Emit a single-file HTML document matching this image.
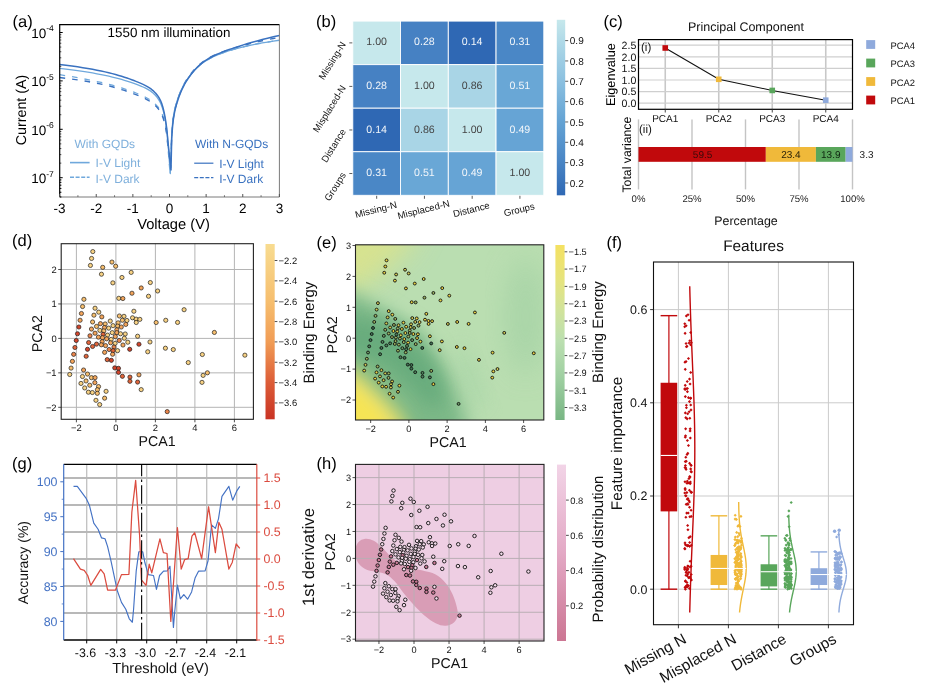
<!DOCTYPE html>
<html><head><meta charset="utf-8"><title>Figure</title>
<style>html,body{margin:0;padding:0;background:#fff;}body{width:926px;height:693px;overflow:hidden;font-family:"Liberation Sans", sans-serif;}svg{display:block;will-change:transform;}</style></head>
<body>
<svg width="926" height="693" viewBox="0 0 926 693" font-family='"Liberation Sans", sans-serif' text-rendering="geometricPrecision">
<defs><clipPath id="clipA"><rect x="59.7" y="24.6" width="219.7" height="172.4"/></clipPath><linearGradient id="gB" x1="0" y1="0" x2="0" y2="1"><stop offset="0" stop-color="#C6E8EC"/><stop offset="0.16" stop-color="#A9D5E6"/><stop offset="0.35" stop-color="#8BC0E0"/><stop offset="0.58" stop-color="#64A3D4"/><stop offset="0.81" stop-color="#4985C5"/><stop offset="1" stop-color="#2F68B4"/></linearGradient><linearGradient id="gD" x1="0" y1="0" x2="0" y2="1"><stop offset="0" stop-color="#F8DC90"/><stop offset="0.33" stop-color="#F6BE6E"/><stop offset="0.56" stop-color="#F19C55"/><stop offset="0.79" stop-color="#DC5C37"/><stop offset="1" stop-color="#C93324"/></linearGradient><clipPath id="clipE"><rect x="355.5" y="244.8" width="188.3" height="175.2"/></clipPath><filter id="blE" x="-50%" y="-50%" width="200%" height="200%"><feGaussianBlur stdDeviation="9"/></filter><filter id="blE2" x="-50%" y="-50%" width="200%" height="200%"><feGaussianBlur stdDeviation="14"/></filter><filter id="blE3" x="-50%" y="-50%" width="200%" height="200%"><feGaussianBlur stdDeviation="6"/></filter><linearGradient id="gE" x1="0" y1="0" x2="0" y2="1"><stop offset="0" stop-color="#F4E162"/><stop offset="0.2" stop-color="#E6E47E"/><stop offset="0.38" stop-color="#D0E39C"/><stop offset="0.55" stop-color="#BBDFB0"/><stop offset="0.75" stop-color="#A0D0A2"/><stop offset="1" stop-color="#79B684"/></linearGradient><linearGradient id="gH" x1="0" y1="0" x2="0" y2="1"><stop offset="0" stop-color="#F2D4E7"/><stop offset="0.5" stop-color="#E3A9C5"/><stop offset="1" stop-color="#CC7693"/></linearGradient></defs>
<g clip-path="url(#clipA)">
<polyline points="59.61,74.7 65.94,75.71 71.91,76.71 77.53,77.7 82.83,78.68 87.82,79.64 92.53,80.6 96.96,81.54 101.14,82.47 105.08,83.4 108.79,84.32 112.29,85.24 115.58,86.14 118.69,87.04 121.62,87.93 124.38,88.81 126.98,89.67 129.43,90.53 131.73,91.36 133.91,92.19 135.96,92.99 137.89,93.77 139.71,94.54 141.43,95.29 143.05,96.04 144.57,96.79 146.01,97.53 147.36,98.28 148.64,99.04 149.84,99.81 150.97,100.59 152.04,101.38 153.04,102.17 153.99,102.95 154.89,103.74 155.73,104.53 156.52,105.33 157.27,106.15 157.97,106.98 158.64,107.83 159.26,108.7 159.85,109.61 160.41,110.54 160.93,111.51 161.43,112.51 161.89,113.53 162.33,114.59 162.74,115.67 163.13,116.77 163.5,117.89 163.84,119.03 164.17,120.19 164.48,121.37 164.77,122.56 165.04,123.77 165.3,124.99 165.54,126.22 165.77,127.45 165.98,128.7 166.18,129.97 166.38,131.27 166.56,132.58 166.73,133.92 166.89,135.28 167.04,136.66 167.18,138.06 167.31,139.48 167.44,140.91 167.56,142.36 167.67,143.82 170.23,175.28 171.7,134.14 171.83,132.31 171.96,130.49 172.11,128.7 172.26,126.94 172.42,125.21 172.59,123.51 172.77,121.85 172.96,120.24 173.16,118.67 173.37,117.14 173.6,115.66 173.84,114.22 174.09,112.81 174.36,111.42 174.64,110.06 174.94,108.72 175.26,107.39 175.6,106.07 175.95,104.75 176.33,103.43 176.73,102.1 177.15,100.76 177.6,99.41 178.07,98.03 178.57,96.63 179.1,95.21 179.66,93.77 180.25,92.32 180.88,90.86 181.54,89.39 182.24,87.92 182.99,86.44 183.77,84.96 184.61,83.49 185.49,82.01 186.42,80.53 187.41,79.06 188.45,77.59 189.56,76.1 190.73,74.58 191.97,73.05 193.28,71.52 194.66,69.99 196.13,68.48 197.68,66.98 199.33,65.51 201.07,64.09 202.91,62.7 204.86,61.37 206.92,60.1 209.1,58.87 211.42,57.67 213.86,56.49 216.45,55.35 219.19,54.23 222.09,53.13 225.15,52.05 228.4,50.99 231.83,49.94 235.47,48.91 239.32,47.88 243.39,46.87 247.7,45.87 252.26,44.88 257.09,43.92 262.2,42.98 267.61,42.05 273.33,41.14 279.39,40.24" fill="none" stroke="#6FA8DC" stroke-width="1.3" stroke-dasharray="5.6 7"/>
<polyline points="59.61,77.51 65.94,78.3 71.91,79.1 77.53,79.9 82.83,80.72 87.82,81.54 92.53,82.38 96.96,83.22 101.14,84.08 105.08,84.97 108.79,85.88 112.29,86.79 115.58,87.71 118.69,88.63 121.62,89.55 124.38,90.46 126.98,91.35 129.43,92.22 131.73,93.06 133.91,93.87 135.96,94.66 137.89,95.42 139.71,96.17 141.43,96.9 143.05,97.62 144.57,98.34 146.01,99.06 147.36,99.79 148.64,100.52 149.84,101.27 150.97,102.04 152.04,102.83 153.04,103.61 153.99,104.39 154.89,105.18 155.73,105.98 156.52,106.78 157.27,107.6 157.97,108.44 158.64,109.29 159.26,110.16 159.85,111.06 160.41,111.99 160.93,112.95 161.43,113.93 161.89,114.94 162.33,115.97 162.74,117.03 163.13,118.11 163.5,119.2 163.84,120.31 164.17,121.44 164.48,122.58 164.77,123.74 165.04,124.9 165.3,126.07 165.54,127.25 165.77,128.44 165.98,129.63 166.18,130.84 166.38,132.07 166.56,133.31 166.73,134.58 166.89,135.85 167.04,137.15 167.18,138.46 167.31,139.78 167.44,141.11 167.56,142.46 167.67,143.82 170.6,168.02 171.7,136.56 171.83,134.52 171.96,132.51 172.11,130.53 172.26,128.59 172.42,126.69 172.59,124.83 172.77,123.04 172.96,121.3 173.16,119.64 173.37,118.03 173.6,116.49 173.84,115 174.09,113.55 174.36,112.13 174.64,110.75 174.94,109.39 175.26,108.05 175.6,106.72 175.95,105.39 176.33,104.06 176.73,102.72 177.15,101.36 177.6,99.98 178.07,98.57 178.57,97.12 179.1,95.64 179.66,94.13 180.25,92.61 180.88,91.07 181.54,89.51 182.24,87.95 182.99,86.39 183.77,84.82 184.61,83.25 185.49,81.69 186.42,80.14 187.41,78.6 188.45,77.07 189.56,75.52 190.73,73.96 191.97,72.39 193.28,70.82 194.66,69.25 196.13,67.7 197.68,66.18 199.33,64.68 201.07,63.21 202.91,61.79 204.86,60.43 206.92,59.12 209.1,57.86 211.42,56.64 213.86,55.45 216.45,54.3 219.19,53.17 222.09,52.06 225.15,50.96 228.4,49.86 231.83,48.76 235.47,47.66 239.32,46.53 243.39,45.39 247.7,44.24 252.26,43.09 257.09,41.94 262.2,40.79 267.61,39.64 273.33,38.49 279.39,37.34" fill="none" stroke="#3A72C0" stroke-width="1.4" stroke-dasharray="5.6 7"/>
<polyline points="59.61,68.32 65.94,69.09 71.91,69.86 77.53,70.63 82.83,71.41 87.82,72.2 92.53,72.98 96.96,73.77 101.14,74.57 105.08,75.38 108.79,76.2 112.29,77.02 115.58,77.84 118.69,78.67 121.62,79.49 124.38,80.3 126.98,81.11 129.43,81.9 131.73,82.68 133.91,83.45 135.96,84.18 137.89,84.9 139.71,85.6 141.43,86.29 143.05,86.98 144.57,87.67 146.01,88.37 147.36,89.09 148.64,89.83 149.84,90.59 150.97,91.39 152.04,92.22 153.04,93.06 153.99,93.93 154.89,94.82 155.73,95.73 156.52,96.66 157.27,97.62 157.97,98.61 158.64,99.62 159.26,100.65 159.85,101.72 160.41,102.82 160.93,103.96 161.43,105.17 161.89,106.42 162.33,107.71 162.74,109.05 163.13,110.41 163.5,111.8 163.84,113.21 164.17,114.63 164.48,116.06 164.77,117.49 165.04,118.91 165.3,120.32 165.54,121.7 165.77,123.06 165.98,124.4 166.18,125.74 166.38,127.07 166.56,128.4 166.73,129.73 166.89,131.05 167.04,132.38 167.18,133.7 167.31,135.02 167.44,136.34 167.56,137.66 167.67,138.98 170.23,172.86 171.7,134.14 171.83,132.31 171.96,130.49 172.11,128.7 172.26,126.94 172.42,125.21 172.59,123.51 172.77,121.85 172.96,120.24 173.16,118.67 173.37,117.14 173.6,115.66 173.84,114.22 174.09,112.81 174.36,111.42 174.64,110.06 174.94,108.72 175.26,107.39 175.6,106.07 175.95,104.75 176.33,103.43 176.73,102.1 177.15,100.76 177.6,99.41 178.07,98.03 178.57,96.63 179.1,95.21 179.66,93.77 180.25,92.32 180.88,90.86 181.54,89.39 182.24,87.92 182.99,86.44 183.77,84.96 184.61,83.49 185.49,82.01 186.42,80.53 187.41,79.06 188.45,77.59 189.56,76.1 190.73,74.58 191.97,73.05 193.28,71.52 194.66,69.99 196.13,68.48 197.68,66.98 199.33,65.51 201.07,64.09 202.91,62.7 204.86,61.37 206.92,60.1 209.1,58.87 211.42,57.67 213.86,56.49 216.45,55.35 219.19,54.23 222.09,53.13 225.15,52.05 228.4,50.99 231.83,49.94 235.47,48.91 239.32,47.88 243.39,46.87 247.7,45.87 252.26,44.88 257.09,43.92 262.2,42.98 267.61,42.05 273.33,41.14 279.39,40.24" fill="none" stroke="#6FA8DC" stroke-width="1.3"/>
<polyline points="59.61,64.44 65.94,65.24 71.91,66.04 77.53,66.85 82.83,67.66 87.82,68.49 92.53,69.31 96.96,70.15 101.14,71 105.08,71.87 108.79,72.75 112.29,73.63 115.58,74.53 118.69,75.42 121.62,76.31 124.38,77.19 126.98,78.06 129.43,78.91 131.73,79.75 133.91,80.57 135.96,81.35 137.89,82.12 139.71,82.87 141.43,83.61 143.05,84.34 144.57,85.07 146.01,85.82 147.36,86.57 148.64,87.34 149.84,88.14 150.97,88.96 152.04,89.81 153.04,90.67 153.99,91.54 154.89,92.43 155.73,93.33 156.52,94.25 157.27,95.2 157.97,96.17 158.64,97.18 159.26,98.21 159.85,99.29 160.41,100.4 160.93,101.57 161.43,102.8 161.89,104.09 162.33,105.43 162.74,106.81 163.13,108.24 163.5,109.69 163.84,111.16 164.17,112.65 164.48,114.15 164.77,115.66 165.04,117.16 165.3,118.65 165.54,120.13 165.77,121.58 165.98,123.02 166.18,124.45 166.38,125.89 166.56,127.33 166.73,128.78 166.89,130.23 167.04,131.68 167.18,133.13 167.31,134.59 167.44,136.05 167.56,137.51 167.67,138.98 170.97,170.44 171.7,138.98 171.83,136.81 171.96,134.67 172.11,132.56 172.26,130.5 172.42,128.48 172.59,126.53 172.77,124.64 172.96,122.83 173.16,121.09 173.37,119.43 173.6,117.83 173.84,116.29 174.09,114.8 174.36,113.34 174.64,111.93 174.94,110.54 175.26,109.17 175.6,107.81 175.95,106.46 176.33,105.11 176.73,103.75 177.15,102.38 177.6,100.98 178.07,99.56 178.57,98.09 179.1,96.6 179.66,95.09 180.25,93.56 180.88,92.02 181.54,90.48 182.24,88.92 182.99,87.37 183.77,85.81 184.61,84.24 185.49,82.68 186.42,81.13 187.41,79.58 188.45,78.03 189.56,76.46 190.73,74.87 191.97,73.27 193.28,71.67 194.66,70.07 196.13,68.48 197.68,66.91 199.33,65.36 201.07,63.85 202.91,62.38 204.86,60.95 206.92,59.58 209.1,58.25 211.42,56.98 213.86,55.74 216.45,54.53 219.19,53.34 222.09,52.16 225.15,50.99 228.4,49.81 231.83,48.62 235.47,47.41 239.32,46.17 243.39,44.89 247.7,43.58 252.26,42.26 257.09,40.91 262.2,39.56 267.61,38.18 273.33,36.8 279.39,35.4" fill="none" stroke="#3A72C0" stroke-width="1.5"/>
</g>
<line x1="279.4" y1="24.6" x2="279.4" y2="197" stroke="#7a7a7a" stroke-width="1"/>
<line x1="59.7" y1="197" x2="279.4" y2="197" stroke="#7a7a7a" stroke-width="1"/>
<line x1="59.7" y1="24.6" x2="279.4" y2="24.6" stroke="#000" stroke-width="1.2"/>
<line x1="59.7" y1="24.1" x2="59.7" y2="197" stroke="#000" stroke-width="1.2"/>
<line x1="59.7" y1="32.5" x2="62.7" y2="32.5" stroke="#000" stroke-width="1"/>
<text x="46.2" y="37.7" font-size="13.5" fill="#000" text-anchor="end">10</text>
<text x="46.2" y="31.3" font-size="8.5" fill="#000" text-anchor="start">-4</text>
<line x1="59.7" y1="66.33" x2="61.3" y2="66.33" stroke="#000" stroke-width="0.7"/>
<line x1="59.7" y1="57.81" x2="61.3" y2="57.81" stroke="#000" stroke-width="0.7"/>
<line x1="59.7" y1="51.76" x2="61.3" y2="51.76" stroke="#000" stroke-width="0.7"/>
<line x1="59.7" y1="47.07" x2="61.3" y2="47.07" stroke="#000" stroke-width="0.7"/>
<line x1="59.7" y1="43.24" x2="61.3" y2="43.24" stroke="#000" stroke-width="0.7"/>
<line x1="59.7" y1="40" x2="61.3" y2="40" stroke="#000" stroke-width="0.7"/>
<line x1="59.7" y1="37.19" x2="61.3" y2="37.19" stroke="#000" stroke-width="0.7"/>
<line x1="59.7" y1="34.71" x2="61.3" y2="34.71" stroke="#000" stroke-width="0.7"/>
<line x1="59.7" y1="80.9" x2="62.7" y2="80.9" stroke="#000" stroke-width="1"/>
<text x="46.2" y="86.1" font-size="13.5" fill="#000" text-anchor="end">10</text>
<text x="46.2" y="79.7" font-size="8.5" fill="#000" text-anchor="start">-5</text>
<line x1="59.7" y1="114.73" x2="61.3" y2="114.73" stroke="#000" stroke-width="0.7"/>
<line x1="59.7" y1="106.21" x2="61.3" y2="106.21" stroke="#000" stroke-width="0.7"/>
<line x1="59.7" y1="100.16" x2="61.3" y2="100.16" stroke="#000" stroke-width="0.7"/>
<line x1="59.7" y1="95.47" x2="61.3" y2="95.47" stroke="#000" stroke-width="0.7"/>
<line x1="59.7" y1="91.64" x2="61.3" y2="91.64" stroke="#000" stroke-width="0.7"/>
<line x1="59.7" y1="88.4" x2="61.3" y2="88.4" stroke="#000" stroke-width="0.7"/>
<line x1="59.7" y1="85.59" x2="61.3" y2="85.59" stroke="#000" stroke-width="0.7"/>
<line x1="59.7" y1="83.11" x2="61.3" y2="83.11" stroke="#000" stroke-width="0.7"/>
<line x1="59.7" y1="129.3" x2="62.7" y2="129.3" stroke="#000" stroke-width="1"/>
<text x="46.2" y="134.5" font-size="13.5" fill="#000" text-anchor="end">10</text>
<text x="46.2" y="128.1" font-size="8.5" fill="#000" text-anchor="start">-6</text>
<line x1="59.7" y1="163.13" x2="61.3" y2="163.13" stroke="#000" stroke-width="0.7"/>
<line x1="59.7" y1="154.61" x2="61.3" y2="154.61" stroke="#000" stroke-width="0.7"/>
<line x1="59.7" y1="148.56" x2="61.3" y2="148.56" stroke="#000" stroke-width="0.7"/>
<line x1="59.7" y1="143.87" x2="61.3" y2="143.87" stroke="#000" stroke-width="0.7"/>
<line x1="59.7" y1="140.04" x2="61.3" y2="140.04" stroke="#000" stroke-width="0.7"/>
<line x1="59.7" y1="136.8" x2="61.3" y2="136.8" stroke="#000" stroke-width="0.7"/>
<line x1="59.7" y1="133.99" x2="61.3" y2="133.99" stroke="#000" stroke-width="0.7"/>
<line x1="59.7" y1="131.51" x2="61.3" y2="131.51" stroke="#000" stroke-width="0.7"/>
<line x1="59.7" y1="177.7" x2="62.7" y2="177.7" stroke="#000" stroke-width="1"/>
<text x="46.2" y="182.9" font-size="13.5" fill="#000" text-anchor="end">10</text>
<text x="46.2" y="176.5" font-size="8.5" fill="#000" text-anchor="start">-7</text>
<line x1="59.7" y1="196.96" x2="61.3" y2="196.96" stroke="#000" stroke-width="0.7"/>
<line x1="59.7" y1="192.27" x2="61.3" y2="192.27" stroke="#000" stroke-width="0.7"/>
<line x1="59.7" y1="188.44" x2="61.3" y2="188.44" stroke="#000" stroke-width="0.7"/>
<line x1="59.7" y1="185.2" x2="61.3" y2="185.2" stroke="#000" stroke-width="0.7"/>
<line x1="59.7" y1="182.39" x2="61.3" y2="182.39" stroke="#000" stroke-width="0.7"/>
<line x1="59.7" y1="179.91" x2="61.3" y2="179.91" stroke="#000" stroke-width="0.7"/>
<line x1="59.7" y1="196.96" x2="61.3" y2="196.96" stroke="#000" stroke-width="0.7"/>
<line x1="59.7" y1="192.27" x2="61.3" y2="192.27" stroke="#000" stroke-width="0.7"/>
<line x1="59.7" y1="188.44" x2="61.3" y2="188.44" stroke="#000" stroke-width="0.7"/>
<line x1="59.7" y1="185.2" x2="61.3" y2="185.2" stroke="#000" stroke-width="0.7"/>
<line x1="59.7" y1="182.39" x2="61.3" y2="182.39" stroke="#000" stroke-width="0.7"/>
<line x1="59.7" y1="179.91" x2="61.3" y2="179.91" stroke="#000" stroke-width="0.7"/>
<line x1="59.61" y1="197" x2="59.61" y2="194" stroke="#555" stroke-width="1"/>
<text x="59.61" y="212.6" font-size="13.5" fill="#000" text-anchor="middle">-3</text>
<line x1="77.92" y1="197" x2="77.92" y2="195.2" stroke="#555" stroke-width="0.8"/>
<line x1="96.24" y1="197" x2="96.24" y2="194" stroke="#555" stroke-width="1"/>
<text x="96.24" y="212.6" font-size="13.5" fill="#000" text-anchor="middle">-2</text>
<line x1="114.55" y1="197" x2="114.55" y2="195.2" stroke="#555" stroke-width="0.8"/>
<line x1="132.87" y1="197" x2="132.87" y2="194" stroke="#555" stroke-width="1"/>
<text x="132.87" y="212.6" font-size="13.5" fill="#000" text-anchor="middle">-1</text>
<line x1="151.19" y1="197" x2="151.19" y2="195.2" stroke="#555" stroke-width="0.8"/>
<line x1="169.5" y1="197" x2="169.5" y2="194" stroke="#555" stroke-width="1"/>
<text x="169.5" y="212.6" font-size="13.5" fill="#000" text-anchor="middle">0</text>
<line x1="187.81" y1="197" x2="187.81" y2="195.2" stroke="#555" stroke-width="0.8"/>
<line x1="206.13" y1="197" x2="206.13" y2="194" stroke="#555" stroke-width="1"/>
<text x="206.13" y="212.6" font-size="13.5" fill="#000" text-anchor="middle">1</text>
<line x1="224.44" y1="197" x2="224.44" y2="195.2" stroke="#555" stroke-width="0.8"/>
<line x1="242.76" y1="197" x2="242.76" y2="194" stroke="#555" stroke-width="1"/>
<text x="242.76" y="212.6" font-size="13.5" fill="#000" text-anchor="middle">2</text>
<line x1="261.07" y1="197" x2="261.07" y2="195.2" stroke="#555" stroke-width="0.8"/>
<line x1="279.39" y1="197" x2="279.39" y2="194" stroke="#555" stroke-width="1"/>
<text x="279.39" y="212.6" font-size="13.5" fill="#000" text-anchor="middle">3</text>
<text x="173.5" y="228.8" font-size="14.7" fill="#000" text-anchor="middle">Voltage (V)</text>
<text x="26" y="110" font-size="14.3" fill="#000" text-anchor="middle" transform="rotate(-90 26 110)">Current (A)</text>
<text x="169" y="37.2" font-size="13.4" fill="#000" text-anchor="middle">1550 nm illumination</text>
<text x="12.5" y="26.5" font-size="16.5" fill="#000" text-anchor="start">(a)</text>
<text x="104.8" y="147.8" font-size="12" fill="#7FB0DC" text-anchor="middle">With GQDs</text>
<line x1="70" y1="162.6" x2="89.6" y2="162.6" stroke="#6FA8DC" stroke-width="1.6"/>
<text x="95.6" y="167.2" font-size="12" fill="#7FB0DC" text-anchor="start">I-V Light</text>
<line x1="70" y1="177.2" x2="89.6" y2="177.2" stroke="#6FA8DC" stroke-width="1.4" stroke-dasharray="4 1.6"/>
<text x="95.6" y="182.6" font-size="12" fill="#7FB0DC" text-anchor="start">I-V Dark</text>
<text x="231.6" y="147.8" font-size="12" fill="#3A72C0" text-anchor="middle">With N-GQDs</text>
<line x1="194.2" y1="163.2" x2="213.4" y2="163.2" stroke="#3A72C0" stroke-width="1.2"/>
<text x="219.2" y="167.6" font-size="12" fill="#3A72C0" text-anchor="start">I-V Light</text>
<line x1="194.2" y1="177.6" x2="213.4" y2="177.6" stroke="#3A72C0" stroke-width="1.2" stroke-dasharray="4 1.6"/>
<text x="219.2" y="183.4" font-size="12" fill="#3A72C0" text-anchor="start">I-V Dark</text>
<rect x="352.8" y="21.1" width="47.75" height="43.55" fill="#C6E8EC" stroke="#ffffff" stroke-width="0.9"/>
<text x="376.68" y="45.48" font-size="10.6" fill="#444444" text-anchor="middle">1.00</text>
<rect x="400.55" y="21.1" width="47.75" height="43.55" fill="#4681C3" stroke="#ffffff" stroke-width="0.9"/>
<text x="424.43" y="45.48" font-size="10.6" fill="#F2F6FA" text-anchor="middle">0.28</text>
<rect x="448.3" y="21.1" width="47.75" height="43.55" fill="#2F68B4" stroke="#ffffff" stroke-width="0.9"/>
<text x="472.18" y="45.48" font-size="10.6" fill="#F2F6FA" text-anchor="middle">0.14</text>
<rect x="496.05" y="21.1" width="47.75" height="43.55" fill="#4A87C6" stroke="#ffffff" stroke-width="0.9"/>
<text x="519.92" y="45.48" font-size="10.6" fill="#F2F6FA" text-anchor="middle">0.31</text>
<rect x="352.8" y="64.65" width="47.75" height="43.55" fill="#4681C3" stroke="#ffffff" stroke-width="0.9"/>
<text x="376.68" y="89.03" font-size="10.6" fill="#F2F6FA" text-anchor="middle">0.28</text>
<rect x="400.55" y="64.65" width="47.75" height="43.55" fill="#C6E8EC" stroke="#ffffff" stroke-width="0.9"/>
<text x="424.43" y="89.03" font-size="10.6" fill="#444444" text-anchor="middle">1.00</text>
<rect x="448.3" y="64.65" width="47.75" height="43.55" fill="#A9D5E6" stroke="#ffffff" stroke-width="0.9"/>
<text x="472.18" y="89.03" font-size="10.6" fill="#444444" text-anchor="middle">0.86</text>
<rect x="496.05" y="64.65" width="47.75" height="43.55" fill="#69A7D6" stroke="#ffffff" stroke-width="0.9"/>
<text x="519.92" y="89.03" font-size="10.6" fill="#F2F6FA" text-anchor="middle">0.51</text>
<rect x="352.8" y="108.2" width="47.75" height="43.55" fill="#2F68B4" stroke="#ffffff" stroke-width="0.9"/>
<text x="376.68" y="132.57" font-size="10.6" fill="#F2F6FA" text-anchor="middle">0.14</text>
<rect x="400.55" y="108.2" width="47.75" height="43.55" fill="#A9D5E6" stroke="#ffffff" stroke-width="0.9"/>
<text x="424.43" y="132.57" font-size="10.6" fill="#444444" text-anchor="middle">0.86</text>
<rect x="448.3" y="108.2" width="47.75" height="43.55" fill="#C6E8EC" stroke="#ffffff" stroke-width="0.9"/>
<text x="472.18" y="132.57" font-size="10.6" fill="#444444" text-anchor="middle">1.00</text>
<rect x="496.05" y="108.2" width="47.75" height="43.55" fill="#66A4D5" stroke="#ffffff" stroke-width="0.9"/>
<text x="519.92" y="132.57" font-size="10.6" fill="#F2F6FA" text-anchor="middle">0.49</text>
<rect x="352.8" y="151.75" width="47.75" height="43.55" fill="#4A87C6" stroke="#ffffff" stroke-width="0.9"/>
<text x="376.68" y="176.12" font-size="10.6" fill="#F2F6FA" text-anchor="middle">0.31</text>
<rect x="400.55" y="151.75" width="47.75" height="43.55" fill="#69A7D6" stroke="#ffffff" stroke-width="0.9"/>
<text x="424.43" y="176.12" font-size="10.6" fill="#F2F6FA" text-anchor="middle">0.51</text>
<rect x="448.3" y="151.75" width="47.75" height="43.55" fill="#66A4D5" stroke="#ffffff" stroke-width="0.9"/>
<text x="472.18" y="176.12" font-size="10.6" fill="#F2F6FA" text-anchor="middle">0.49</text>
<rect x="496.05" y="151.75" width="47.75" height="43.55" fill="#C6E8EC" stroke="#ffffff" stroke-width="0.9"/>
<text x="519.92" y="176.12" font-size="10.6" fill="#444444" text-anchor="middle">1.00</text>
<line x1="349.3" y1="42.88" x2="352.3" y2="42.88" stroke="#333" stroke-width="0.8"/>
<text x="346.3" y="44.38" font-size="9.6" fill="#111" text-anchor="end" transform="rotate(-58 346.3 44.38)">Missing-N</text>
<line x1="376.68" y1="195.8" x2="376.68" y2="198.8" stroke="#333" stroke-width="0.8"/>
<text x="376.68" y="212.8" font-size="9.6" fill="#111" text-anchor="middle" transform="rotate(-14 376.68 212.8)">Missing-N</text>
<line x1="349.3" y1="86.42" x2="352.3" y2="86.42" stroke="#333" stroke-width="0.8"/>
<text x="346.3" y="87.92" font-size="9.6" fill="#111" text-anchor="end" transform="rotate(-58 346.3 87.92)">Misplaced-N</text>
<line x1="424.43" y1="195.8" x2="424.43" y2="198.8" stroke="#333" stroke-width="0.8"/>
<text x="424.43" y="212.8" font-size="9.6" fill="#111" text-anchor="middle" transform="rotate(-14 424.43 212.8)">Misplaced-N</text>
<line x1="349.3" y1="129.97" x2="352.3" y2="129.97" stroke="#333" stroke-width="0.8"/>
<text x="346.3" y="131.47" font-size="9.6" fill="#111" text-anchor="end" transform="rotate(-58 346.3 131.47)">Distance</text>
<line x1="472.18" y1="195.8" x2="472.18" y2="198.8" stroke="#333" stroke-width="0.8"/>
<text x="472.18" y="212.8" font-size="9.6" fill="#111" text-anchor="middle" transform="rotate(-14 472.18 212.8)">Distance</text>
<line x1="349.3" y1="173.52" x2="352.3" y2="173.52" stroke="#333" stroke-width="0.8"/>
<text x="346.3" y="175.02" font-size="9.6" fill="#111" text-anchor="end" transform="rotate(-58 346.3 175.02)">Groups</text>
<line x1="519.92" y1="195.8" x2="519.92" y2="198.8" stroke="#333" stroke-width="0.8"/>
<text x="519.92" y="212.8" font-size="9.6" fill="#111" text-anchor="middle" transform="rotate(-14 519.92 212.8)">Groups</text>
<rect x="556.8" y="19.8" width="8.4" height="175.5" fill="url(#gB)" stroke="none" stroke-width="1"/>
<line x1="565.2" y1="182.98" x2="568.2" y2="182.98" stroke="#333" stroke-width="0.8"/>
<text x="569.8" y="186.58" font-size="10" fill="#111" text-anchor="start">0.2</text>
<line x1="565.2" y1="162.64" x2="568.2" y2="162.64" stroke="#333" stroke-width="0.8"/>
<text x="569.8" y="166.24" font-size="10" fill="#111" text-anchor="start">0.3</text>
<line x1="565.2" y1="142.3" x2="568.2" y2="142.3" stroke="#333" stroke-width="0.8"/>
<text x="569.8" y="145.9" font-size="10" fill="#111" text-anchor="start">0.4</text>
<line x1="565.2" y1="121.96" x2="568.2" y2="121.96" stroke="#333" stroke-width="0.8"/>
<text x="569.8" y="125.56" font-size="10" fill="#111" text-anchor="start">0.5</text>
<line x1="565.2" y1="101.62" x2="568.2" y2="101.62" stroke="#333" stroke-width="0.8"/>
<text x="569.8" y="105.22" font-size="10" fill="#111" text-anchor="start">0.6</text>
<line x1="565.2" y1="81.28" x2="568.2" y2="81.28" stroke="#333" stroke-width="0.8"/>
<text x="569.8" y="84.88" font-size="10" fill="#111" text-anchor="start">0.7</text>
<line x1="565.2" y1="60.94" x2="568.2" y2="60.94" stroke="#333" stroke-width="0.8"/>
<text x="569.8" y="64.54" font-size="10" fill="#111" text-anchor="start">0.8</text>
<line x1="565.2" y1="40.6" x2="568.2" y2="40.6" stroke="#333" stroke-width="0.8"/>
<text x="569.8" y="44.2" font-size="10" fill="#111" text-anchor="start">0.9</text>
<text x="316" y="27" font-size="16.5" fill="#000" text-anchor="start">(b)</text>
<line x1="665.25" y1="39.6" x2="665.25" y2="109.3" stroke="#c8c8c8" stroke-width="1.6"/>
<line x1="718.75" y1="39.6" x2="718.75" y2="109.3" stroke="#c8c8c8" stroke-width="1.6"/>
<line x1="772.25" y1="39.6" x2="772.25" y2="109.3" stroke="#c8c8c8" stroke-width="1.6"/>
<line x1="825.75" y1="39.6" x2="825.75" y2="109.3" stroke="#c8c8c8" stroke-width="1.6"/>
<line x1="638.5" y1="103.2" x2="852.5" y2="103.2" stroke="#cfcfcf" stroke-width="1.2"/>
<line x1="638.5" y1="91.6" x2="852.5" y2="91.6" stroke="#cfcfcf" stroke-width="1.2"/>
<line x1="638.5" y1="80" x2="852.5" y2="80" stroke="#cfcfcf" stroke-width="1.2"/>
<line x1="638.5" y1="68.4" x2="852.5" y2="68.4" stroke="#cfcfcf" stroke-width="1.2"/>
<line x1="638.5" y1="56.8" x2="852.5" y2="56.8" stroke="#cfcfcf" stroke-width="1.2"/>
<line x1="638.5" y1="45.2" x2="852.5" y2="45.2" stroke="#cfcfcf" stroke-width="1.2"/>
<rect x="638.5" y="39.6" width="214" height="69.7" fill="none" stroke="#000" stroke-width="1.2"/>
<polyline points="665.25,47.98 718.75,79.3 772.25,90.44 825.75,100.18" fill="none" stroke="#111" stroke-width="1.1"/>
<rect x="662.45" y="45.18" width="5.6" height="5.6" fill="#C1090C" stroke="none" stroke-width="1"/>
<rect x="715.95" y="76.5" width="5.6" height="5.6" fill="#F0B93A" stroke="none" stroke-width="1"/>
<rect x="769.45" y="87.64" width="5.6" height="5.6" fill="#59A65B" stroke="none" stroke-width="1"/>
<rect x="822.95" y="97.38" width="5.6" height="5.6" fill="#8FAADC" stroke="none" stroke-width="1"/>
<text x="636.3" y="107" font-size="10.6" fill="#111" text-anchor="end">0.0</text>
<text x="636.3" y="95.4" font-size="10.6" fill="#111" text-anchor="end">0.5</text>
<text x="636.3" y="83.8" font-size="10.6" fill="#111" text-anchor="end">1.0</text>
<text x="636.3" y="72.2" font-size="10.6" fill="#111" text-anchor="end">1.5</text>
<text x="636.3" y="60.6" font-size="10.6" fill="#111" text-anchor="end">2.0</text>
<text x="636.3" y="49" font-size="10.6" fill="#111" text-anchor="end">2.5</text>
<line x1="665.25" y1="109.3" x2="665.25" y2="112.5" stroke="#333" stroke-width="0.9"/>
<text x="665.25" y="121.6" font-size="10" fill="#111" text-anchor="middle">PCA1</text>
<line x1="718.75" y1="109.3" x2="718.75" y2="112.5" stroke="#333" stroke-width="0.9"/>
<text x="718.75" y="121.6" font-size="10" fill="#111" text-anchor="middle">PCA2</text>
<line x1="772.25" y1="109.3" x2="772.25" y2="112.5" stroke="#333" stroke-width="0.9"/>
<text x="772.25" y="121.6" font-size="10" fill="#111" text-anchor="middle">PCA3</text>
<line x1="825.75" y1="109.3" x2="825.75" y2="112.5" stroke="#333" stroke-width="0.9"/>
<text x="825.75" y="121.6" font-size="10" fill="#111" text-anchor="middle">PCA4</text>
<text x="641" y="51.2" font-size="11.6" fill="#111" text-anchor="start">(i)</text>
<text x="615.2" y="74.6" font-size="12.7" fill="#000" text-anchor="middle" transform="rotate(-90 615.2 74.6)">Eigenvalue</text>
<text x="746" y="31.2" font-size="12.5" fill="#111" text-anchor="middle">Principal Component</text>
<text x="603.6" y="27.4" font-size="16.5" fill="#000" text-anchor="start">(c)</text>
<rect x="866.2" y="40.1" width="9" height="8.8" fill="#8FAADC" stroke="none" stroke-width="1"/>
<text x="890.4" y="48.7" font-size="9.4" fill="#111" text-anchor="start">PCA4</text>
<rect x="866.2" y="58.6" width="9" height="8.8" fill="#59A65B" stroke="none" stroke-width="1"/>
<text x="890.4" y="67.2" font-size="9.4" fill="#111" text-anchor="start">PCA3</text>
<rect x="866.2" y="77.1" width="9" height="8.8" fill="#F0B93A" stroke="none" stroke-width="1"/>
<text x="890.4" y="85.7" font-size="9.4" fill="#111" text-anchor="start">PCA2</text>
<rect x="866.2" y="95.6" width="9" height="8.8" fill="#C1090C" stroke="none" stroke-width="1"/>
<text x="890.4" y="104.2" font-size="9.4" fill="#111" text-anchor="start">PCA1</text>
<line x1="638.5" y1="119.4" x2="638.5" y2="189.4" stroke="#c4c4c4" stroke-width="1.4"/>
<text x="638.5" y="201.8" font-size="9.6" fill="#222" text-anchor="middle">0%</text>
<line x1="692" y1="119.4" x2="692" y2="189.4" stroke="#c4c4c4" stroke-width="1.4"/>
<text x="692" y="201.8" font-size="9.6" fill="#222" text-anchor="middle">25%</text>
<line x1="745.5" y1="119.4" x2="745.5" y2="189.4" stroke="#c4c4c4" stroke-width="1.4"/>
<text x="745.5" y="201.8" font-size="9.6" fill="#222" text-anchor="middle">50%</text>
<line x1="799" y1="119.4" x2="799" y2="189.4" stroke="#c4c4c4" stroke-width="1.4"/>
<text x="799" y="201.8" font-size="9.6" fill="#222" text-anchor="middle">75%</text>
<line x1="852.5" y1="119.4" x2="852.5" y2="189.4" stroke="#c4c4c4" stroke-width="1.4"/>
<text x="852.5" y="201.8" font-size="9.6" fill="#222" text-anchor="middle">100%</text>
<rect x="638.5" y="147" width="127.33" height="14.8" fill="#C1090C" stroke="none" stroke-width="1"/>
<rect x="765.83" y="147" width="50.08" height="14.8" fill="#F0B93A" stroke="none" stroke-width="1"/>
<rect x="815.91" y="147" width="29.75" height="14.8" fill="#59A65B" stroke="none" stroke-width="1"/>
<rect x="845.65" y="147" width="6.85" height="14.8" fill="#8FAADC" stroke="none" stroke-width="1"/>
<text x="702.6" y="158.3" font-size="10" fill="#3a0a0a" text-anchor="middle">59.5</text>
<text x="790.9" y="158.3" font-size="10" fill="#2a2208" text-anchor="middle">23.4</text>
<text x="830.8" y="158.3" font-size="10" fill="#0e2410" text-anchor="middle">13.9</text>
<text x="859.6" y="158.3" font-size="10" fill="#222" text-anchor="start">3.3</text>
<text x="639" y="133.2" font-size="11.6" fill="#111" text-anchor="start">(ii)</text>
<text x="630.6" y="154.6" font-size="12.3" fill="#000" text-anchor="middle" transform="rotate(-90 630.6 154.6)">Total variance</text>
<text x="746" y="224.6" font-size="12.4" fill="#111" text-anchor="middle">Percentage</text>
<line x1="76.4" y1="243.7" x2="76.4" y2="419.3" stroke="#b4b4b4" stroke-width="1"/>
<line x1="115.9" y1="243.7" x2="115.9" y2="419.3" stroke="#b4b4b4" stroke-width="1"/>
<line x1="155.4" y1="243.7" x2="155.4" y2="419.3" stroke="#b4b4b4" stroke-width="1"/>
<line x1="194.9" y1="243.7" x2="194.9" y2="419.3" stroke="#b4b4b4" stroke-width="1"/>
<line x1="234.4" y1="243.7" x2="234.4" y2="419.3" stroke="#b4b4b4" stroke-width="1"/>
<line x1="61.2" y1="407.3" x2="253.4" y2="407.3" stroke="#b4b4b4" stroke-width="1"/>
<line x1="61.2" y1="372.85" x2="253.4" y2="372.85" stroke="#b4b4b4" stroke-width="1"/>
<line x1="61.2" y1="338.4" x2="253.4" y2="338.4" stroke="#b4b4b4" stroke-width="1"/>
<line x1="61.2" y1="303.95" x2="253.4" y2="303.95" stroke="#b4b4b4" stroke-width="1"/>
<line x1="61.2" y1="269.5" x2="253.4" y2="269.5" stroke="#b4b4b4" stroke-width="1"/>
<circle cx="92.8" cy="251.59" r="2.1" fill="#F7D183" stroke="#111" stroke-width="0.65"/>
<circle cx="91.57" cy="258.46" r="2.1" fill="#F7D183" stroke="#111" stroke-width="0.65"/>
<circle cx="90.44" cy="265.44" r="2.1" fill="#F7D183" stroke="#111" stroke-width="0.65"/>
<circle cx="102.71" cy="267.35" r="2.1" fill="#F6BE6E" stroke="#111" stroke-width="0.65"/>
<circle cx="101.47" cy="274.21" r="2.1" fill="#F7D183" stroke="#111" stroke-width="0.65"/>
<circle cx="111.94" cy="262.06" r="2.1" fill="#F6BE6E" stroke="#111" stroke-width="0.65"/>
<circle cx="115.65" cy="266.22" r="2.1" fill="#F6BE6E" stroke="#111" stroke-width="0.65"/>
<circle cx="131.18" cy="272.41" r="2.1" fill="#F7D183" stroke="#111" stroke-width="0.65"/>
<circle cx="121.95" cy="277.48" r="2.1" fill="#F7D183" stroke="#111" stroke-width="0.65"/>
<circle cx="112.84" cy="282.88" r="2.1" fill="#F7D183" stroke="#111" stroke-width="0.65"/>
<circle cx="150.32" cy="282.54" r="2.1" fill="#F7D183" stroke="#111" stroke-width="0.65"/>
<circle cx="141.2" cy="287.95" r="2.1" fill="#F2A45B" stroke="#111" stroke-width="0.65"/>
<circle cx="131.97" cy="293.24" r="2.1" fill="#F2A45B" stroke="#111" stroke-width="0.65"/>
<circle cx="157.63" cy="290.98" r="2.1" fill="#F7D183" stroke="#111" stroke-width="0.65"/>
<circle cx="148.52" cy="296.27" r="2.1" fill="#F7D183" stroke="#111" stroke-width="0.65"/>
<circle cx="118.8" cy="298.3" r="2.1" fill="#F7D183" stroke="#111" stroke-width="0.65"/>
<circle cx="122.85" cy="298.53" r="2.1" fill="#F2A45B" stroke="#111" stroke-width="0.65"/>
<circle cx="83.91" cy="299.31" r="2.1" fill="#F6BE6E" stroke="#111" stroke-width="0.65"/>
<circle cx="82.56" cy="306.53" r="2.1" fill="#F6BE6E" stroke="#111" stroke-width="0.65"/>
<circle cx="81.44" cy="313.51" r="2.1" fill="#F2A45B" stroke="#111" stroke-width="0.65"/>
<circle cx="80.09" cy="320.26" r="2.1" fill="#F2A45B" stroke="#111" stroke-width="0.65"/>
<circle cx="78.85" cy="327.01" r="2.1" fill="#D1452C" stroke="#111" stroke-width="0.65"/>
<circle cx="77.5" cy="333.76" r="2.1" fill="#D1452C" stroke="#111" stroke-width="0.65"/>
<circle cx="76.26" cy="340.52" r="2.1" fill="#D1452C" stroke="#111" stroke-width="0.65"/>
<circle cx="74.91" cy="347.5" r="2.1" fill="#DF643B" stroke="#111" stroke-width="0.65"/>
<circle cx="73.67" cy="354.36" r="2.1" fill="#E9844A" stroke="#111" stroke-width="0.65"/>
<circle cx="72.43" cy="361.34" r="2.1" fill="#F2A45B" stroke="#111" stroke-width="0.65"/>
<circle cx="71.08" cy="368.09" r="2.1" fill="#F6BE6E" stroke="#111" stroke-width="0.65"/>
<circle cx="69.73" cy="374.51" r="2.1" fill="#F7D183" stroke="#111" stroke-width="0.65"/>
<circle cx="95.05" cy="308.22" r="2.1" fill="#F7D183" stroke="#111" stroke-width="0.65"/>
<circle cx="98.77" cy="312.16" r="2.1" fill="#F7D183" stroke="#111" stroke-width="0.65"/>
<circle cx="93.93" cy="315.19" r="2.1" fill="#F6BE6E" stroke="#111" stroke-width="0.65"/>
<circle cx="101.81" cy="316.88" r="2.1" fill="#F2A45B" stroke="#111" stroke-width="0.65"/>
<circle cx="92.58" cy="321.95" r="2.1" fill="#F6BE6E" stroke="#111" stroke-width="0.65"/>
<circle cx="100.46" cy="323.64" r="2.1" fill="#F2A45B" stroke="#111" stroke-width="0.65"/>
<circle cx="105.18" cy="323.97" r="2.1" fill="#F6BE6E" stroke="#111" stroke-width="0.65"/>
<circle cx="110.25" cy="321.05" r="2.1" fill="#F7D183" stroke="#111" stroke-width="0.65"/>
<circle cx="119.37" cy="315.98" r="2.1" fill="#F6BE6E" stroke="#111" stroke-width="0.65"/>
<circle cx="123.98" cy="316.32" r="2.1" fill="#F7D183" stroke="#111" stroke-width="0.65"/>
<circle cx="122.4" cy="320.26" r="2.1" fill="#F6BE6E" stroke="#111" stroke-width="0.65"/>
<circle cx="126.91" cy="320.48" r="2.1" fill="#F7D183" stroke="#111" stroke-width="0.65"/>
<circle cx="118.13" cy="322.85" r="2.1" fill="#F6BE6E" stroke="#111" stroke-width="0.65"/>
<circle cx="125.78" cy="324.42" r="2.1" fill="#F2A45B" stroke="#111" stroke-width="0.65"/>
<circle cx="113.06" cy="325.66" r="2.1" fill="#F7D183" stroke="#111" stroke-width="0.65"/>
<circle cx="117.68" cy="326.11" r="2.1" fill="#F6BE6E" stroke="#111" stroke-width="0.65"/>
<circle cx="121.28" cy="327.01" r="2.1" fill="#F2A45B" stroke="#111" stroke-width="0.65"/>
<circle cx="96.52" cy="326.45" r="2.1" fill="#F6BE6E" stroke="#111" stroke-width="0.65"/>
<circle cx="104.4" cy="327.57" r="2.1" fill="#F2A45B" stroke="#111" stroke-width="0.65"/>
<circle cx="108.67" cy="328.14" r="2.1" fill="#F7D183" stroke="#111" stroke-width="0.65"/>
<circle cx="91.45" cy="329.04" r="2.1" fill="#F2A45B" stroke="#111" stroke-width="0.65"/>
<circle cx="99.89" cy="330.39" r="2.1" fill="#F7D183" stroke="#111" stroke-width="0.65"/>
<circle cx="103.83" cy="330.95" r="2.1" fill="#F6BE6E" stroke="#111" stroke-width="0.65"/>
<circle cx="116.78" cy="329.83" r="2.1" fill="#F2A45B" stroke="#111" stroke-width="0.65"/>
<circle cx="112.27" cy="332.64" r="2.1" fill="#F7D183" stroke="#111" stroke-width="0.65"/>
<circle cx="116.78" cy="332.64" r="2.1" fill="#F2A45B" stroke="#111" stroke-width="0.65"/>
<circle cx="120.49" cy="333.76" r="2.1" fill="#F7D183" stroke="#111" stroke-width="0.65"/>
<circle cx="125.22" cy="333.99" r="2.1" fill="#F7D183" stroke="#111" stroke-width="0.65"/>
<circle cx="95.05" cy="333.2" r="2.1" fill="#F2A45B" stroke="#111" stroke-width="0.65"/>
<circle cx="103.05" cy="334.33" r="2.1" fill="#DF643B" stroke="#111" stroke-width="0.65"/>
<circle cx="107.55" cy="335.12" r="2.1" fill="#F7D183" stroke="#111" stroke-width="0.65"/>
<circle cx="89.99" cy="335.79" r="2.1" fill="#E9844A" stroke="#111" stroke-width="0.65"/>
<circle cx="98.43" cy="337.14" r="2.1" fill="#F2A45B" stroke="#111" stroke-width="0.65"/>
<circle cx="102.48" cy="337.7" r="2.1" fill="#F2A45B" stroke="#111" stroke-width="0.65"/>
<circle cx="106.65" cy="338.83" r="2.1" fill="#F2A45B" stroke="#111" stroke-width="0.65"/>
<circle cx="111.15" cy="339.39" r="2.1" fill="#F7D183" stroke="#111" stroke-width="0.65"/>
<circle cx="115.31" cy="336.58" r="2.1" fill="#F2A45B" stroke="#111" stroke-width="0.65"/>
<circle cx="119.25" cy="340.52" r="2.1" fill="#E9844A" stroke="#111" stroke-width="0.65"/>
<circle cx="124.32" cy="338.27" r="2.1" fill="#F7D183" stroke="#111" stroke-width="0.65"/>
<circle cx="102.15" cy="341.64" r="2.1" fill="#F2A45B" stroke="#111" stroke-width="0.65"/>
<circle cx="110.59" cy="342.77" r="2.1" fill="#F2A45B" stroke="#111" stroke-width="0.65"/>
<circle cx="115.09" cy="343.33" r="2.1" fill="#F7D183" stroke="#111" stroke-width="0.65"/>
<circle cx="127.81" cy="342.21" r="2.1" fill="#F7D183" stroke="#111" stroke-width="0.65"/>
<circle cx="88.64" cy="342.54" r="2.1" fill="#DF643B" stroke="#111" stroke-width="0.65"/>
<circle cx="96.52" cy="344.12" r="2.1" fill="#DF643B" stroke="#111" stroke-width="0.65"/>
<circle cx="101.36" cy="344.79" r="2.1" fill="#F2A45B" stroke="#111" stroke-width="0.65"/>
<circle cx="105.52" cy="345.58" r="2.1" fill="#F2A45B" stroke="#111" stroke-width="0.65"/>
<circle cx="113.96" cy="347.05" r="2.1" fill="#E9844A" stroke="#111" stroke-width="0.65"/>
<circle cx="122.97" cy="345.02" r="2.1" fill="#F2A45B" stroke="#111" stroke-width="0.65"/>
<circle cx="92.58" cy="346.48" r="2.1" fill="#DF643B" stroke="#111" stroke-width="0.65"/>
<circle cx="87.51" cy="349.3" r="2.1" fill="#D1452C" stroke="#111" stroke-width="0.65"/>
<circle cx="109.12" cy="349.52" r="2.1" fill="#E9844A" stroke="#111" stroke-width="0.65"/>
<circle cx="113.06" cy="350.65" r="2.1" fill="#DF643B" stroke="#111" stroke-width="0.65"/>
<circle cx="117.56" cy="350.65" r="2.1" fill="#F7D183" stroke="#111" stroke-width="0.65"/>
<circle cx="104.62" cy="352.34" r="2.1" fill="#F2A45B" stroke="#111" stroke-width="0.65"/>
<circle cx="112.61" cy="354.25" r="2.1" fill="#F2A45B" stroke="#111" stroke-width="0.65"/>
<circle cx="86.16" cy="356.27" r="2.1" fill="#DF643B" stroke="#111" stroke-width="0.65"/>
<circle cx="129.72" cy="349.3" r="2.1" fill="#D1452C" stroke="#111" stroke-width="0.65"/>
<circle cx="138.95" cy="344.23" r="2.1" fill="#D1452C" stroke="#111" stroke-width="0.65"/>
<circle cx="137.6" cy="336.24" r="2.1" fill="#F7D183" stroke="#111" stroke-width="0.65"/>
<circle cx="133.88" cy="311.25" r="2.1" fill="#F7D183" stroke="#111" stroke-width="0.65"/>
<circle cx="132.53" cy="317.78" r="2.1" fill="#F7D183" stroke="#111" stroke-width="0.65"/>
<circle cx="136.14" cy="319.13" r="2.1" fill="#F7D183" stroke="#111" stroke-width="0.65"/>
<circle cx="139.85" cy="319.36" r="2.1" fill="#F7D183" stroke="#111" stroke-width="0.65"/>
<circle cx="136.25" cy="322.51" r="2.1" fill="#F7D183" stroke="#111" stroke-width="0.65"/>
<circle cx="156.17" cy="322.51" r="2.1" fill="#F6BE6E" stroke="#111" stroke-width="0.65"/>
<circle cx="149.98" cy="341.98" r="2.1" fill="#F7D183" stroke="#111" stroke-width="0.65"/>
<circle cx="147.73" cy="351.77" r="2.1" fill="#F7D183" stroke="#111" stroke-width="0.65"/>
<circle cx="107.21" cy="359.65" r="2.1" fill="#DF643B" stroke="#111" stroke-width="0.65"/>
<circle cx="111.37" cy="360.33" r="2.1" fill="#D1452C" stroke="#111" stroke-width="0.65"/>
<circle cx="114.75" cy="367.87" r="2.1" fill="#D1452C" stroke="#111" stroke-width="0.65"/>
<circle cx="118.46" cy="368.32" r="2.1" fill="#D1452C" stroke="#111" stroke-width="0.65"/>
<circle cx="118.46" cy="372.37" r="2.1" fill="#D1452C" stroke="#111" stroke-width="0.65"/>
<circle cx="122.4" cy="376.31" r="2.1" fill="#DF643B" stroke="#111" stroke-width="0.65"/>
<circle cx="129.94" cy="377.1" r="2.1" fill="#DF643B" stroke="#111" stroke-width="0.65"/>
<circle cx="138.95" cy="374.85" r="2.1" fill="#F2A45B" stroke="#111" stroke-width="0.65"/>
<circle cx="83.57" cy="370.01" r="2.1" fill="#F2A45B" stroke="#111" stroke-width="0.65"/>
<circle cx="87.51" cy="374.06" r="2.1" fill="#F6BE6E" stroke="#111" stroke-width="0.65"/>
<circle cx="82.45" cy="376.53" r="2.1" fill="#F7D183" stroke="#111" stroke-width="0.65"/>
<circle cx="91.45" cy="377.66" r="2.1" fill="#F6BE6E" stroke="#111" stroke-width="0.65"/>
<circle cx="95.05" cy="377.66" r="2.1" fill="#F2A45B" stroke="#111" stroke-width="0.65"/>
<circle cx="129.94" cy="381.29" r="2.1" fill="#DF643B" stroke="#111" stroke-width="0.65"/>
<circle cx="137.6" cy="382.08" r="2.1" fill="#DF643B" stroke="#111" stroke-width="0.65"/>
<circle cx="141.2" cy="389.62" r="2.1" fill="#F7D183" stroke="#111" stroke-width="0.65"/>
<circle cx="86.05" cy="380.95" r="2.1" fill="#F6BE6E" stroke="#111" stroke-width="0.65"/>
<circle cx="94.83" cy="382.64" r="2.1" fill="#F2A45B" stroke="#111" stroke-width="0.65"/>
<circle cx="80.99" cy="383.43" r="2.1" fill="#F7D183" stroke="#111" stroke-width="0.65"/>
<circle cx="89.76" cy="385.23" r="2.1" fill="#F6BE6E" stroke="#111" stroke-width="0.65"/>
<circle cx="98.54" cy="386.58" r="2.1" fill="#F6BE6E" stroke="#111" stroke-width="0.65"/>
<circle cx="84.7" cy="387.93" r="2.1" fill="#F7D183" stroke="#111" stroke-width="0.65"/>
<circle cx="97.42" cy="389.73" r="2.1" fill="#F6BE6E" stroke="#111" stroke-width="0.65"/>
<circle cx="88.41" cy="392.21" r="2.1" fill="#F7D183" stroke="#111" stroke-width="0.65"/>
<circle cx="92.35" cy="392.54" r="2.1" fill="#F7D183" stroke="#111" stroke-width="0.65"/>
<circle cx="97.31" cy="393.33" r="2.1" fill="#F6BE6E" stroke="#111" stroke-width="0.65"/>
<circle cx="106.08" cy="391.31" r="2.1" fill="#F7D183" stroke="#111" stroke-width="0.65"/>
<circle cx="104.62" cy="398.17" r="2.1" fill="#F6BE6E" stroke="#111" stroke-width="0.65"/>
<circle cx="95.95" cy="400.31" r="2.1" fill="#F7D183" stroke="#111" stroke-width="0.65"/>
<circle cx="99.67" cy="404.59" r="2.1" fill="#F7D183" stroke="#111" stroke-width="0.65"/>
<circle cx="184.1" cy="309.71" r="2.1" fill="#F7D183" stroke="#111" stroke-width="0.65"/>
<circle cx="165.76" cy="320.29" r="2.1" fill="#F7D183" stroke="#111" stroke-width="0.65"/>
<circle cx="177.57" cy="322.43" r="2.1" fill="#F7D183" stroke="#111" stroke-width="0.65"/>
<circle cx="214.38" cy="332.45" r="2.1" fill="#F6BE6E" stroke="#111" stroke-width="0.65"/>
<circle cx="165.42" cy="348.2" r="2.1" fill="#F7D183" stroke="#111" stroke-width="0.65"/>
<circle cx="173.3" cy="349.56" r="2.1" fill="#F7D183" stroke="#111" stroke-width="0.65"/>
<circle cx="202.34" cy="354.51" r="2.1" fill="#F7D183" stroke="#111" stroke-width="0.65"/>
<circle cx="244.88" cy="355.18" r="2.1" fill="#F7D183" stroke="#111" stroke-width="0.65"/>
<circle cx="188.27" cy="362.56" r="2.1" fill="#F7D183" stroke="#111" stroke-width="0.65"/>
<circle cx="207.4" cy="372.8" r="2.1" fill="#F6BE6E" stroke="#111" stroke-width="0.65"/>
<circle cx="203.12" cy="375.39" r="2.1" fill="#F7D183" stroke="#111" stroke-width="0.65"/>
<circle cx="202" cy="382.37" r="2.1" fill="#F7D183" stroke="#111" stroke-width="0.65"/>
<circle cx="167.22" cy="411.63" r="2.1" fill="#E9844A" stroke="#111" stroke-width="0.65"/>
<rect x="61.2" y="243.7" width="192.2" height="175.6" fill="none" stroke="#222" stroke-width="1.1"/>
<line x1="76.4" y1="419.3" x2="76.4" y2="422.3" stroke="#222" stroke-width="0.8"/>
<text x="76.4" y="431" font-size="9.4" fill="#111" text-anchor="middle">−2</text>
<line x1="115.9" y1="419.3" x2="115.9" y2="422.3" stroke="#222" stroke-width="0.8"/>
<text x="115.9" y="431" font-size="9.4" fill="#111" text-anchor="middle">0</text>
<line x1="155.4" y1="419.3" x2="155.4" y2="422.3" stroke="#222" stroke-width="0.8"/>
<text x="155.4" y="431" font-size="9.4" fill="#111" text-anchor="middle">2</text>
<line x1="194.9" y1="419.3" x2="194.9" y2="422.3" stroke="#222" stroke-width="0.8"/>
<text x="194.9" y="431" font-size="9.4" fill="#111" text-anchor="middle">4</text>
<line x1="234.4" y1="419.3" x2="234.4" y2="422.3" stroke="#222" stroke-width="0.8"/>
<text x="234.4" y="431" font-size="9.4" fill="#111" text-anchor="middle">6</text>
<line x1="58.2" y1="407.3" x2="61.2" y2="407.3" stroke="#222" stroke-width="0.8"/>
<text x="56.6" y="410.7" font-size="9.4" fill="#111" text-anchor="end">−2</text>
<line x1="58.2" y1="372.85" x2="61.2" y2="372.85" stroke="#222" stroke-width="0.8"/>
<text x="56.6" y="376.25" font-size="9.4" fill="#111" text-anchor="end">−1</text>
<line x1="58.2" y1="338.4" x2="61.2" y2="338.4" stroke="#222" stroke-width="0.8"/>
<text x="56.6" y="341.8" font-size="9.4" fill="#111" text-anchor="end">0</text>
<line x1="58.2" y1="303.95" x2="61.2" y2="303.95" stroke="#222" stroke-width="0.8"/>
<text x="56.6" y="307.35" font-size="9.4" fill="#111" text-anchor="end">1</text>
<line x1="58.2" y1="269.5" x2="61.2" y2="269.5" stroke="#222" stroke-width="0.8"/>
<text x="56.6" y="272.9" font-size="9.4" fill="#111" text-anchor="end">2</text>
<text x="157" y="446" font-size="14.2" fill="#111" text-anchor="middle">PCA1</text>
<text x="41.6" y="333.6" font-size="14.2" fill="#111" text-anchor="middle" transform="rotate(-90 41.6 333.6)">PCA2</text>
<text x="12" y="246.2" font-size="16.5" fill="#000" text-anchor="start">(d)</text>
<rect x="265.5" y="244" width="9.2" height="175.3" fill="url(#gD)" stroke="none" stroke-width="1"/>
<line x1="274.7" y1="260.5" x2="277.4" y2="260.5" stroke="#222" stroke-width="0.8"/>
<text x="278.6" y="263.9" font-size="9.4" fill="#111" text-anchor="start">−2.2</text>
<line x1="274.7" y1="280.85" x2="277.4" y2="280.85" stroke="#222" stroke-width="0.8"/>
<text x="278.6" y="284.25" font-size="9.4" fill="#111" text-anchor="start">−2.4</text>
<line x1="274.7" y1="301.2" x2="277.4" y2="301.2" stroke="#222" stroke-width="0.8"/>
<text x="278.6" y="304.6" font-size="9.4" fill="#111" text-anchor="start">−2.6</text>
<line x1="274.7" y1="321.55" x2="277.4" y2="321.55" stroke="#222" stroke-width="0.8"/>
<text x="278.6" y="324.95" font-size="9.4" fill="#111" text-anchor="start">−2.8</text>
<line x1="274.7" y1="341.9" x2="277.4" y2="341.9" stroke="#222" stroke-width="0.8"/>
<text x="278.6" y="345.3" font-size="9.4" fill="#111" text-anchor="start">−3.0</text>
<line x1="274.7" y1="362.25" x2="277.4" y2="362.25" stroke="#222" stroke-width="0.8"/>
<text x="278.6" y="365.65" font-size="9.4" fill="#111" text-anchor="start">−3.2</text>
<line x1="274.7" y1="382.6" x2="277.4" y2="382.6" stroke="#222" stroke-width="0.8"/>
<text x="278.6" y="386" font-size="9.4" fill="#111" text-anchor="start">−3.4</text>
<line x1="274.7" y1="402.95" x2="277.4" y2="402.95" stroke="#222" stroke-width="0.8"/>
<text x="278.6" y="406.35" font-size="9.4" fill="#111" text-anchor="start">−3.6</text>
<text x="313.6" y="332.6" font-size="15" fill="#111" text-anchor="middle" transform="rotate(-90 313.6 332.6)">Binding Energy</text>
<g clip-path="url(#clipE)">
<rect x="355.5" y="244.8" width="188.3" height="175.2" fill="#BADEB1" stroke="none" stroke-width="1"/>
<ellipse cx="525.53" cy="316.57" rx="20" ry="58" fill="#A6D3A6" filter="url(#blE2)" opacity="0.85"/>
<ellipse cx="470.08" cy="378.37" rx="10" ry="34" fill="#A9D5A8" filter="url(#blE)" opacity="0.7" transform="rotate(-20 470.08 378.37)"/>
<polygon points="322.86,199.15 428.02,199.15 412.72,242.41 385.96,270.22 353.45,291.85 322.86,294.94" fill="#DCE38A" filter="url(#blE2)" opacity="0.85"/>
<polygon points="322.86,285.67 355.94,294.32 376.78,305.75 418.46,330.47 437.58,353.65 450.96,379.91 464.35,412.36 472,455.62 322.86,455.62" fill="#7DB988" filter="url(#blE)" opacity="1"/>
<polygon points="322.86,315.02 366.84,319.66 397.43,328.93 420.37,349.01 437.58,372.19 445.23,400 431.84,409.27 410.81,387.64 382.13,362.92 322.86,344.38" fill="#66AA7B" filter="url(#blE)" opacity="0.9"/>
<polygon points="322.86,358.28 355.94,370.64 380.22,393.82 402.21,417 410.81,455.62 322.86,455.62" fill="#E9E06C" filter="url(#blE)" opacity="1"/>
<polygon points="322.86,378.37 355.94,389.19 376.4,409.27 387.87,427.81 391.69,455.62 322.86,455.62" fill="#F6E455" filter="url(#blE3)" opacity="1"/>
</g>
<circle cx="386.54" cy="260.34" r="1.45" fill="#E9D242" stroke="#111" stroke-width="0.9"/>
<circle cx="385.34" cy="266.5" r="1.45" fill="#E9D242" stroke="#111" stroke-width="0.9"/>
<circle cx="384.25" cy="272.75" r="1.45" fill="#E9D242" stroke="#111" stroke-width="0.9"/>
<circle cx="396.13" cy="274.47" r="1.45" fill="#CFCA4F" stroke="#111" stroke-width="0.9"/>
<circle cx="394.93" cy="280.63" r="1.45" fill="#E9D242" stroke="#111" stroke-width="0.9"/>
<circle cx="405.06" cy="269.73" r="1.45" fill="#CFCA4F" stroke="#111" stroke-width="0.9"/>
<circle cx="408.66" cy="273.46" r="1.45" fill="#CFCA4F" stroke="#111" stroke-width="0.9"/>
<circle cx="423.7" cy="279.01" r="1.45" fill="#E9D242" stroke="#111" stroke-width="0.9"/>
<circle cx="414.76" cy="283.56" r="1.45" fill="#E9D242" stroke="#111" stroke-width="0.9"/>
<circle cx="405.94" cy="288.4" r="1.45" fill="#E9D242" stroke="#111" stroke-width="0.9"/>
<circle cx="442.22" cy="288.1" r="1.45" fill="#E9D242" stroke="#111" stroke-width="0.9"/>
<circle cx="433.39" cy="292.95" r="1.45" fill="#9AB45E" stroke="#111" stroke-width="0.9"/>
<circle cx="424.46" cy="297.69" r="1.45" fill="#9AB45E" stroke="#111" stroke-width="0.9"/>
<circle cx="449.3" cy="295.67" r="1.45" fill="#E9D242" stroke="#111" stroke-width="0.9"/>
<circle cx="440.48" cy="300.42" r="1.45" fill="#E9D242" stroke="#111" stroke-width="0.9"/>
<circle cx="411.71" cy="302.23" r="1.45" fill="#E9D242" stroke="#111" stroke-width="0.9"/>
<circle cx="415.63" cy="302.43" r="1.45" fill="#9AB45E" stroke="#111" stroke-width="0.9"/>
<circle cx="377.93" cy="303.14" r="1.45" fill="#CFCA4F" stroke="#111" stroke-width="0.9"/>
<circle cx="376.63" cy="309.61" r="1.45" fill="#CFCA4F" stroke="#111" stroke-width="0.9"/>
<circle cx="375.54" cy="315.87" r="1.45" fill="#9AB45E" stroke="#111" stroke-width="0.9"/>
<circle cx="374.23" cy="321.93" r="1.45" fill="#9AB45E" stroke="#111" stroke-width="0.9"/>
<circle cx="373.03" cy="327.99" r="1.45" fill="#3F7654" stroke="#111" stroke-width="0.9"/>
<circle cx="371.72" cy="334.04" r="1.45" fill="#3F7654" stroke="#111" stroke-width="0.9"/>
<circle cx="370.52" cy="340.1" r="1.45" fill="#3F7654" stroke="#111" stroke-width="0.9"/>
<circle cx="369.22" cy="346.36" r="1.45" fill="#4C875C" stroke="#111" stroke-width="0.9"/>
<circle cx="368.02" cy="352.52" r="1.45" fill="#679960" stroke="#111" stroke-width="0.9"/>
<circle cx="366.82" cy="358.78" r="1.45" fill="#9AB45E" stroke="#111" stroke-width="0.9"/>
<circle cx="365.51" cy="364.83" r="1.45" fill="#CFCA4F" stroke="#111" stroke-width="0.9"/>
<circle cx="364.2" cy="370.59" r="1.45" fill="#E9D242" stroke="#111" stroke-width="0.9"/>
<circle cx="388.72" cy="311.13" r="1.45" fill="#E9D242" stroke="#111" stroke-width="0.9"/>
<circle cx="392.32" cy="314.66" r="1.45" fill="#E9D242" stroke="#111" stroke-width="0.9"/>
<circle cx="387.63" cy="317.39" r="1.45" fill="#CFCA4F" stroke="#111" stroke-width="0.9"/>
<circle cx="395.26" cy="318.9" r="1.45" fill="#9AB45E" stroke="#111" stroke-width="0.9"/>
<circle cx="386.32" cy="323.44" r="1.45" fill="#CFCA4F" stroke="#111" stroke-width="0.9"/>
<circle cx="393.95" cy="324.96" r="1.45" fill="#9AB45E" stroke="#111" stroke-width="0.9"/>
<circle cx="398.53" cy="325.26" r="1.45" fill="#CFCA4F" stroke="#111" stroke-width="0.9"/>
<circle cx="403.43" cy="322.63" r="1.45" fill="#E9D242" stroke="#111" stroke-width="0.9"/>
<circle cx="412.25" cy="318.09" r="1.45" fill="#CFCA4F" stroke="#111" stroke-width="0.9"/>
<circle cx="416.72" cy="318.39" r="1.45" fill="#E9D242" stroke="#111" stroke-width="0.9"/>
<circle cx="415.2" cy="321.93" r="1.45" fill="#CFCA4F" stroke="#111" stroke-width="0.9"/>
<circle cx="419.55" cy="322.13" r="1.45" fill="#E9D242" stroke="#111" stroke-width="0.9"/>
<circle cx="411.06" cy="324.25" r="1.45" fill="#CFCA4F" stroke="#111" stroke-width="0.9"/>
<circle cx="418.47" cy="325.66" r="1.45" fill="#9AB45E" stroke="#111" stroke-width="0.9"/>
<circle cx="406.15" cy="326.77" r="1.45" fill="#E9D242" stroke="#111" stroke-width="0.9"/>
<circle cx="410.62" cy="327.18" r="1.45" fill="#CFCA4F" stroke="#111" stroke-width="0.9"/>
<circle cx="414.11" cy="327.99" r="1.45" fill="#9AB45E" stroke="#111" stroke-width="0.9"/>
<circle cx="390.14" cy="327.48" r="1.45" fill="#CFCA4F" stroke="#111" stroke-width="0.9"/>
<circle cx="397.76" cy="328.49" r="1.45" fill="#9AB45E" stroke="#111" stroke-width="0.9"/>
<circle cx="401.9" cy="328.99" r="1.45" fill="#E9D242" stroke="#111" stroke-width="0.9"/>
<circle cx="385.23" cy="329.8" r="1.45" fill="#9AB45E" stroke="#111" stroke-width="0.9"/>
<circle cx="393.4" cy="331.01" r="1.45" fill="#E9D242" stroke="#111" stroke-width="0.9"/>
<circle cx="397.22" cy="331.52" r="1.45" fill="#CFCA4F" stroke="#111" stroke-width="0.9"/>
<circle cx="409.75" cy="330.51" r="1.45" fill="#9AB45E" stroke="#111" stroke-width="0.9"/>
<circle cx="405.39" cy="333.03" r="1.45" fill="#E9D242" stroke="#111" stroke-width="0.9"/>
<circle cx="409.75" cy="333.03" r="1.45" fill="#9AB45E" stroke="#111" stroke-width="0.9"/>
<circle cx="413.34" cy="334.04" r="1.45" fill="#E9D242" stroke="#111" stroke-width="0.9"/>
<circle cx="417.92" cy="334.24" r="1.45" fill="#E9D242" stroke="#111" stroke-width="0.9"/>
<circle cx="388.72" cy="333.54" r="1.45" fill="#9AB45E" stroke="#111" stroke-width="0.9"/>
<circle cx="396.46" cy="334.55" r="1.45" fill="#4C875C" stroke="#111" stroke-width="0.9"/>
<circle cx="400.81" cy="335.25" r="1.45" fill="#E9D242" stroke="#111" stroke-width="0.9"/>
<circle cx="383.82" cy="335.86" r="1.45" fill="#679960" stroke="#111" stroke-width="0.9"/>
<circle cx="391.99" cy="337.07" r="1.45" fill="#9AB45E" stroke="#111" stroke-width="0.9"/>
<circle cx="395.91" cy="337.58" r="1.45" fill="#9AB45E" stroke="#111" stroke-width="0.9"/>
<circle cx="399.94" cy="338.59" r="1.45" fill="#9AB45E" stroke="#111" stroke-width="0.9"/>
<circle cx="404.3" cy="339.09" r="1.45" fill="#E9D242" stroke="#111" stroke-width="0.9"/>
<circle cx="408.33" cy="336.57" r="1.45" fill="#9AB45E" stroke="#111" stroke-width="0.9"/>
<circle cx="412.15" cy="340.1" r="1.45" fill="#679960" stroke="#111" stroke-width="0.9"/>
<circle cx="417.05" cy="338.08" r="1.45" fill="#E9D242" stroke="#111" stroke-width="0.9"/>
<circle cx="395.58" cy="341.11" r="1.45" fill="#9AB45E" stroke="#111" stroke-width="0.9"/>
<circle cx="403.76" cy="342.12" r="1.45" fill="#9AB45E" stroke="#111" stroke-width="0.9"/>
<circle cx="408.11" cy="342.62" r="1.45" fill="#E9D242" stroke="#111" stroke-width="0.9"/>
<circle cx="420.43" cy="341.61" r="1.45" fill="#E9D242" stroke="#111" stroke-width="0.9"/>
<circle cx="382.51" cy="341.92" r="1.45" fill="#4C875C" stroke="#111" stroke-width="0.9"/>
<circle cx="390.14" cy="343.33" r="1.45" fill="#4C875C" stroke="#111" stroke-width="0.9"/>
<circle cx="394.82" cy="343.94" r="1.45" fill="#9AB45E" stroke="#111" stroke-width="0.9"/>
<circle cx="398.85" cy="344.64" r="1.45" fill="#9AB45E" stroke="#111" stroke-width="0.9"/>
<circle cx="407.02" cy="345.95" r="1.45" fill="#679960" stroke="#111" stroke-width="0.9"/>
<circle cx="415.74" cy="344.14" r="1.45" fill="#9AB45E" stroke="#111" stroke-width="0.9"/>
<circle cx="386.32" cy="345.45" r="1.45" fill="#4C875C" stroke="#111" stroke-width="0.9"/>
<circle cx="381.42" cy="347.97" r="1.45" fill="#3F7654" stroke="#111" stroke-width="0.9"/>
<circle cx="402.34" cy="348.18" r="1.45" fill="#679960" stroke="#111" stroke-width="0.9"/>
<circle cx="406.15" cy="349.19" r="1.45" fill="#4C875C" stroke="#111" stroke-width="0.9"/>
<circle cx="410.51" cy="349.19" r="1.45" fill="#E9D242" stroke="#111" stroke-width="0.9"/>
<circle cx="397.98" cy="350.7" r="1.45" fill="#9AB45E" stroke="#111" stroke-width="0.9"/>
<circle cx="405.72" cy="352.42" r="1.45" fill="#9AB45E" stroke="#111" stroke-width="0.9"/>
<circle cx="380.11" cy="354.23" r="1.45" fill="#4C875C" stroke="#111" stroke-width="0.9"/>
<circle cx="422.28" cy="347.97" r="1.45" fill="#3F7654" stroke="#111" stroke-width="0.9"/>
<circle cx="431.21" cy="343.43" r="1.45" fill="#3F7654" stroke="#111" stroke-width="0.9"/>
<circle cx="429.91" cy="336.26" r="1.45" fill="#E9D242" stroke="#111" stroke-width="0.9"/>
<circle cx="426.31" cy="313.85" r="1.45" fill="#E9D242" stroke="#111" stroke-width="0.9"/>
<circle cx="425" cy="319.71" r="1.45" fill="#E9D242" stroke="#111" stroke-width="0.9"/>
<circle cx="428.49" cy="320.92" r="1.45" fill="#E9D242" stroke="#111" stroke-width="0.9"/>
<circle cx="432.09" cy="321.12" r="1.45" fill="#E9D242" stroke="#111" stroke-width="0.9"/>
<circle cx="428.6" cy="323.95" r="1.45" fill="#E9D242" stroke="#111" stroke-width="0.9"/>
<circle cx="447.88" cy="323.95" r="1.45" fill="#CFCA4F" stroke="#111" stroke-width="0.9"/>
<circle cx="441.89" cy="341.41" r="1.45" fill="#E9D242" stroke="#111" stroke-width="0.9"/>
<circle cx="439.71" cy="350.19" r="1.45" fill="#E9D242" stroke="#111" stroke-width="0.9"/>
<circle cx="400.49" cy="357.26" r="1.45" fill="#4C875C" stroke="#111" stroke-width="0.9"/>
<circle cx="404.52" cy="357.87" r="1.45" fill="#3F7654" stroke="#111" stroke-width="0.9"/>
<circle cx="407.79" cy="364.63" r="1.45" fill="#3F7654" stroke="#111" stroke-width="0.9"/>
<circle cx="411.38" cy="365.03" r="1.45" fill="#3F7654" stroke="#111" stroke-width="0.9"/>
<circle cx="411.38" cy="368.67" r="1.45" fill="#3F7654" stroke="#111" stroke-width="0.9"/>
<circle cx="415.2" cy="372.2" r="1.45" fill="#4C875C" stroke="#111" stroke-width="0.9"/>
<circle cx="422.5" cy="372.91" r="1.45" fill="#4C875C" stroke="#111" stroke-width="0.9"/>
<circle cx="431.21" cy="370.89" r="1.45" fill="#9AB45E" stroke="#111" stroke-width="0.9"/>
<circle cx="377.61" cy="366.55" r="1.45" fill="#9AB45E" stroke="#111" stroke-width="0.9"/>
<circle cx="381.42" cy="370.18" r="1.45" fill="#CFCA4F" stroke="#111" stroke-width="0.9"/>
<circle cx="376.52" cy="372.4" r="1.45" fill="#E9D242" stroke="#111" stroke-width="0.9"/>
<circle cx="385.23" cy="373.41" r="1.45" fill="#CFCA4F" stroke="#111" stroke-width="0.9"/>
<circle cx="388.72" cy="373.41" r="1.45" fill="#9AB45E" stroke="#111" stroke-width="0.9"/>
<circle cx="422.5" cy="376.67" r="1.45" fill="#4C875C" stroke="#111" stroke-width="0.9"/>
<circle cx="429.91" cy="377.38" r="1.45" fill="#4C875C" stroke="#111" stroke-width="0.9"/>
<circle cx="433.39" cy="384.14" r="1.45" fill="#E9D242" stroke="#111" stroke-width="0.9"/>
<circle cx="380" cy="376.37" r="1.45" fill="#CFCA4F" stroke="#111" stroke-width="0.9"/>
<circle cx="388.5" cy="377.88" r="1.45" fill="#9AB45E" stroke="#111" stroke-width="0.9"/>
<circle cx="375.1" cy="378.59" r="1.45" fill="#E9D242" stroke="#111" stroke-width="0.9"/>
<circle cx="383.6" cy="380.2" r="1.45" fill="#CFCA4F" stroke="#111" stroke-width="0.9"/>
<circle cx="392.1" cy="381.41" r="1.45" fill="#CFCA4F" stroke="#111" stroke-width="0.9"/>
<circle cx="378.7" cy="382.63" r="1.45" fill="#E9D242" stroke="#111" stroke-width="0.9"/>
<circle cx="391.01" cy="384.24" r="1.45" fill="#CFCA4F" stroke="#111" stroke-width="0.9"/>
<circle cx="382.29" cy="386.46" r="1.45" fill="#E9D242" stroke="#111" stroke-width="0.9"/>
<circle cx="386.1" cy="386.76" r="1.45" fill="#E9D242" stroke="#111" stroke-width="0.9"/>
<circle cx="390.9" cy="387.47" r="1.45" fill="#CFCA4F" stroke="#111" stroke-width="0.9"/>
<circle cx="399.4" cy="385.65" r="1.45" fill="#E9D242" stroke="#111" stroke-width="0.9"/>
<circle cx="397.98" cy="391.81" r="1.45" fill="#CFCA4F" stroke="#111" stroke-width="0.9"/>
<circle cx="389.59" cy="393.73" r="1.45" fill="#E9D242" stroke="#111" stroke-width="0.9"/>
<circle cx="393.19" cy="397.57" r="1.45" fill="#E9D242" stroke="#111" stroke-width="0.9"/>
<circle cx="474.93" cy="312.47" r="1.45" fill="#E9D242" stroke="#111" stroke-width="0.9"/>
<circle cx="457.17" cy="321.96" r="1.45" fill="#E9D242" stroke="#111" stroke-width="0.9"/>
<circle cx="468.61" cy="323.88" r="1.45" fill="#E9D242" stroke="#111" stroke-width="0.9"/>
<circle cx="504.24" cy="332.86" r="1.45" fill="#CFCA4F" stroke="#111" stroke-width="0.9"/>
<circle cx="456.84" cy="346.99" r="1.45" fill="#E9D242" stroke="#111" stroke-width="0.9"/>
<circle cx="464.47" cy="348.21" r="1.45" fill="#E9D242" stroke="#111" stroke-width="0.9"/>
<circle cx="492.58" cy="352.65" r="1.45" fill="#E9D242" stroke="#111" stroke-width="0.9"/>
<circle cx="533.76" cy="353.25" r="1.45" fill="#E9D242" stroke="#111" stroke-width="0.9"/>
<circle cx="478.96" cy="359.87" r="1.45" fill="#E9D242" stroke="#111" stroke-width="0.9"/>
<circle cx="497.48" cy="369.05" r="1.45" fill="#CFCA4F" stroke="#111" stroke-width="0.9"/>
<circle cx="493.34" cy="371.38" r="1.45" fill="#E9D242" stroke="#111" stroke-width="0.9"/>
<circle cx="492.25" cy="377.64" r="1.45" fill="#E9D242" stroke="#111" stroke-width="0.9"/>
<circle cx="458.58" cy="403.88" r="1.45" fill="#679960" stroke="#111" stroke-width="0.9"/>
<rect x="355.5" y="244.8" width="188.3" height="175.2" fill="none" stroke="#222" stroke-width="1.1"/>
<line x1="370.66" y1="420" x2="370.66" y2="423" stroke="#222" stroke-width="0.8"/>
<text x="370.66" y="431.6" font-size="9.2" fill="#111" text-anchor="middle">−2</text>
<line x1="408.9" y1="420" x2="408.9" y2="423" stroke="#222" stroke-width="0.8"/>
<text x="408.9" y="431.6" font-size="9.2" fill="#111" text-anchor="middle">0</text>
<line x1="447.14" y1="420" x2="447.14" y2="423" stroke="#222" stroke-width="0.8"/>
<text x="447.14" y="431.6" font-size="9.2" fill="#111" text-anchor="middle">2</text>
<line x1="485.38" y1="420" x2="485.38" y2="423" stroke="#222" stroke-width="0.8"/>
<text x="485.38" y="431.6" font-size="9.2" fill="#111" text-anchor="middle">4</text>
<line x1="523.62" y1="420" x2="523.62" y2="423" stroke="#222" stroke-width="0.8"/>
<text x="523.62" y="431.6" font-size="9.2" fill="#111" text-anchor="middle">6</text>
<line x1="352.5" y1="400" x2="355.5" y2="400" stroke="#222" stroke-width="0.8"/>
<text x="351.1" y="403.3" font-size="9.2" fill="#111" text-anchor="end">−2</text>
<line x1="352.5" y1="369.1" x2="355.5" y2="369.1" stroke="#222" stroke-width="0.8"/>
<text x="351.1" y="372.4" font-size="9.2" fill="#111" text-anchor="end">−1</text>
<line x1="352.5" y1="338.2" x2="355.5" y2="338.2" stroke="#222" stroke-width="0.8"/>
<text x="351.1" y="341.5" font-size="9.2" fill="#111" text-anchor="end">0</text>
<line x1="352.5" y1="307.3" x2="355.5" y2="307.3" stroke="#222" stroke-width="0.8"/>
<text x="351.1" y="310.6" font-size="9.2" fill="#111" text-anchor="end">1</text>
<line x1="352.5" y1="276.4" x2="355.5" y2="276.4" stroke="#222" stroke-width="0.8"/>
<text x="351.1" y="279.7" font-size="9.2" fill="#111" text-anchor="end">2</text>
<line x1="352.5" y1="245.5" x2="355.5" y2="245.5" stroke="#222" stroke-width="0.8"/>
<text x="351.1" y="248.8" font-size="9.2" fill="#111" text-anchor="end">3</text>
<text x="448" y="446.6" font-size="14.2" fill="#111" text-anchor="middle">PCA1</text>
<text x="336.6" y="335" font-size="14.2" fill="#111" text-anchor="middle" transform="rotate(-90 336.6 335)">PCA2</text>
<text x="316.5" y="248" font-size="16.5" fill="#000" text-anchor="start">(e)</text>
<rect x="555.4" y="245" width="9.2" height="175" fill="url(#gE)" stroke="none" stroke-width="1"/>
<line x1="564.6" y1="251.8" x2="567.3" y2="251.8" stroke="#222" stroke-width="0.8"/>
<text x="568.6" y="255.1" font-size="9.2" fill="#111" text-anchor="start">−1.5</text>
<line x1="564.6" y1="269.1" x2="567.3" y2="269.1" stroke="#222" stroke-width="0.8"/>
<text x="568.6" y="272.4" font-size="9.2" fill="#111" text-anchor="start">−1.7</text>
<line x1="564.6" y1="286.4" x2="567.3" y2="286.4" stroke="#222" stroke-width="0.8"/>
<text x="568.6" y="289.7" font-size="9.2" fill="#111" text-anchor="start">−1.9</text>
<line x1="564.6" y1="303.7" x2="567.3" y2="303.7" stroke="#222" stroke-width="0.8"/>
<text x="568.6" y="307" font-size="9.2" fill="#111" text-anchor="start">−2.1</text>
<line x1="564.6" y1="321" x2="567.3" y2="321" stroke="#222" stroke-width="0.8"/>
<text x="568.6" y="324.3" font-size="9.2" fill="#111" text-anchor="start">−2.3</text>
<line x1="564.6" y1="338.3" x2="567.3" y2="338.3" stroke="#222" stroke-width="0.8"/>
<text x="568.6" y="341.6" font-size="9.2" fill="#111" text-anchor="start">−2.5</text>
<line x1="564.6" y1="355.6" x2="567.3" y2="355.6" stroke="#222" stroke-width="0.8"/>
<text x="568.6" y="358.9" font-size="9.2" fill="#111" text-anchor="start">−2.7</text>
<line x1="564.6" y1="372.9" x2="567.3" y2="372.9" stroke="#222" stroke-width="0.8"/>
<text x="568.6" y="376.2" font-size="9.2" fill="#111" text-anchor="start">−2.9</text>
<line x1="564.6" y1="390.2" x2="567.3" y2="390.2" stroke="#222" stroke-width="0.8"/>
<text x="568.6" y="393.5" font-size="9.2" fill="#111" text-anchor="start">−3.1</text>
<line x1="564.6" y1="407.5" x2="567.3" y2="407.5" stroke="#222" stroke-width="0.8"/>
<text x="568.6" y="410.8" font-size="9.2" fill="#111" text-anchor="start">−3.3</text>
<text x="602.8" y="332" font-size="15" fill="#111" text-anchor="middle" transform="rotate(-90 602.8 332)">Binding Energy</text>
<line x1="678.4" y1="262" x2="678.4" y2="624.7" stroke="#cbcbcb" stroke-width="1"/>
<line x1="728.4" y1="262" x2="728.4" y2="624.7" stroke="#cbcbcb" stroke-width="1"/>
<line x1="778.4" y1="262" x2="778.4" y2="624.7" stroke="#cbcbcb" stroke-width="1"/>
<line x1="828.4" y1="262" x2="828.4" y2="624.7" stroke="#cbcbcb" stroke-width="1"/>
<line x1="653.5" y1="589.2" x2="853.5" y2="589.2" stroke="#cbcbcb" stroke-width="1"/>
<line x1="653.5" y1="496" x2="853.5" y2="496" stroke="#cbcbcb" stroke-width="1"/>
<line x1="653.5" y1="402.8" x2="853.5" y2="402.8" stroke="#cbcbcb" stroke-width="1"/>
<line x1="653.5" y1="309.6" x2="853.5" y2="309.6" stroke="#cbcbcb" stroke-width="1"/>
<line x1="668.9" y1="315.66" x2="668.9" y2="589.2" stroke="#C1090C" stroke-width="1.2"/>
<line x1="660.6" y1="315.66" x2="677.2" y2="315.66" stroke="#C1090C" stroke-width="1.4"/>
<line x1="660.6" y1="589.2" x2="677.2" y2="589.2" stroke="#C1090C" stroke-width="1.4"/>
<rect x="660.6" y="382.76" width="16.6" height="128.62" fill="#C1090C" stroke="none" stroke-width="1"/>
<line x1="660.6" y1="455.46" x2="677.2" y2="455.46" stroke="#fff" stroke-width="1.1"/>
<rect x="685.24" y="584.59" width="2.2" height="2.2" fill="#C1090C" transform="rotate(45 686.34 585.69)"/>
<rect x="689.44" y="397.31" width="2.2" height="2.2" fill="#C1090C" transform="rotate(45 690.54 398.41)"/>
<rect x="687.44" y="584.74" width="2.2" height="2.2" fill="#C1090C" transform="rotate(45 688.54 585.84)"/>
<rect x="687.51" y="576.53" width="2.2" height="2.2" fill="#C1090C" transform="rotate(45 688.61 577.63)"/>
<rect x="690.14" y="573.42" width="2.2" height="2.2" fill="#C1090C" transform="rotate(45 691.24 574.52)"/>
<rect x="686.82" y="497.5" width="2.2" height="2.2" fill="#C1090C" transform="rotate(45 687.92 498.6)"/>
<rect x="686.02" y="417.74" width="2.2" height="2.2" fill="#C1090C" transform="rotate(45 687.12 418.84)"/>
<rect x="689.61" y="467.81" width="2.2" height="2.2" fill="#C1090C" transform="rotate(45 690.71 468.91)"/>
<rect x="683.68" y="491.9" width="2.2" height="2.2" fill="#C1090C" transform="rotate(45 684.78 493)"/>
<rect x="686.71" y="564.86" width="2.2" height="2.2" fill="#C1090C" transform="rotate(45 687.81 565.96)"/>
<rect x="684.7" y="416.58" width="2.2" height="2.2" fill="#C1090C" transform="rotate(45 685.8 417.68)"/>
<rect x="690.1" y="515.29" width="2.2" height="2.2" fill="#C1090C" transform="rotate(45 691.2 516.39)"/>
<rect x="689.24" y="436.88" width="2.2" height="2.2" fill="#C1090C" transform="rotate(45 690.34 437.98)"/>
<rect x="687.13" y="511.93" width="2.2" height="2.2" fill="#C1090C" transform="rotate(45 688.23 513.03)"/>
<rect x="689.16" y="482.48" width="2.2" height="2.2" fill="#C1090C" transform="rotate(45 690.26 483.58)"/>
<rect x="689.1" y="427.77" width="2.2" height="2.2" fill="#C1090C" transform="rotate(45 690.2 428.87)"/>
<rect x="686.86" y="567.88" width="2.2" height="2.2" fill="#C1090C" transform="rotate(45 687.96 568.98)"/>
<rect x="684.19" y="460.47" width="2.2" height="2.2" fill="#C1090C" transform="rotate(45 685.29 461.57)"/>
<rect x="687.76" y="536.62" width="2.2" height="2.2" fill="#C1090C" transform="rotate(45 688.86 537.72)"/>
<rect x="686.55" y="524.46" width="2.2" height="2.2" fill="#C1090C" transform="rotate(45 687.65 525.56)"/>
<rect x="689.7" y="490.77" width="2.2" height="2.2" fill="#C1090C" transform="rotate(45 690.8 491.87)"/>
<rect x="683.63" y="325.66" width="2.2" height="2.2" fill="#C1090C" transform="rotate(45 684.73 326.76)"/>
<rect x="683.99" y="332.26" width="2.2" height="2.2" fill="#C1090C" transform="rotate(45 685.09 333.36)"/>
<rect x="688.31" y="489.15" width="2.2" height="2.2" fill="#C1090C" transform="rotate(45 689.41 490.25)"/>
<rect x="684.53" y="427.74" width="2.2" height="2.2" fill="#C1090C" transform="rotate(45 685.63 428.84)"/>
<rect x="684.57" y="466.78" width="2.2" height="2.2" fill="#C1090C" transform="rotate(45 685.67 467.88)"/>
<rect x="686.35" y="387.4" width="2.2" height="2.2" fill="#C1090C" transform="rotate(45 687.45 388.5)"/>
<rect x="684.37" y="579.79" width="2.2" height="2.2" fill="#C1090C" transform="rotate(45 685.47 580.89)"/>
<rect x="686.36" y="502.59" width="2.2" height="2.2" fill="#C1090C" transform="rotate(45 687.46 503.69)"/>
<rect x="689.05" y="576.11" width="2.2" height="2.2" fill="#C1090C" transform="rotate(45 690.15 577.21)"/>
<rect x="688.42" y="377.98" width="2.2" height="2.2" fill="#C1090C" transform="rotate(45 689.52 379.08)"/>
<rect x="685.96" y="453.35" width="2.2" height="2.2" fill="#C1090C" transform="rotate(45 687.06 454.45)"/>
<rect x="688.06" y="410.69" width="2.2" height="2.2" fill="#C1090C" transform="rotate(45 689.16 411.79)"/>
<rect x="690.28" y="491.38" width="2.2" height="2.2" fill="#C1090C" transform="rotate(45 691.38 492.48)"/>
<rect x="685.25" y="314.79" width="2.2" height="2.2" fill="#C1090C" transform="rotate(45 686.35 315.89)"/>
<rect x="685.08" y="503.23" width="2.2" height="2.2" fill="#C1090C" transform="rotate(45 686.18 504.33)"/>
<rect x="683.88" y="361.04" width="2.2" height="2.2" fill="#C1090C" transform="rotate(45 684.98 362.14)"/>
<rect x="688.5" y="462.25" width="2.2" height="2.2" fill="#C1090C" transform="rotate(45 689.6 463.35)"/>
<rect x="688.72" y="339.63" width="2.2" height="2.2" fill="#C1090C" transform="rotate(45 689.82 340.73)"/>
<rect x="690.12" y="464.45" width="2.2" height="2.2" fill="#C1090C" transform="rotate(45 691.22 465.55)"/>
<rect x="684.23" y="395.49" width="2.2" height="2.2" fill="#C1090C" transform="rotate(45 685.33 396.59)"/>
<rect x="684.12" y="388.37" width="2.2" height="2.2" fill="#C1090C" transform="rotate(45 685.22 389.47)"/>
<rect x="683.68" y="547.29" width="2.2" height="2.2" fill="#C1090C" transform="rotate(45 684.78 548.39)"/>
<rect x="684.95" y="360.41" width="2.2" height="2.2" fill="#C1090C" transform="rotate(45 686.05 361.51)"/>
<rect x="684.11" y="488.64" width="2.2" height="2.2" fill="#C1090C" transform="rotate(45 685.21 489.74)"/>
<rect x="686.28" y="439.37" width="2.2" height="2.2" fill="#C1090C" transform="rotate(45 687.38 440.47)"/>
<rect x="689.31" y="480.95" width="2.2" height="2.2" fill="#C1090C" transform="rotate(45 690.41 482.05)"/>
<rect x="688.74" y="417.17" width="2.2" height="2.2" fill="#C1090C" transform="rotate(45 689.84 418.27)"/>
<rect x="689.61" y="371.37" width="2.2" height="2.2" fill="#C1090C" transform="rotate(45 690.71 372.47)"/>
<rect x="686.9" y="481.91" width="2.2" height="2.2" fill="#C1090C" transform="rotate(45 688 483.01)"/>
<rect x="687.39" y="396.58" width="2.2" height="2.2" fill="#C1090C" transform="rotate(45 688.49 397.68)"/>
<rect x="687.32" y="544.35" width="2.2" height="2.2" fill="#C1090C" transform="rotate(45 688.42 545.45)"/>
<rect x="685.03" y="324.62" width="2.2" height="2.2" fill="#C1090C" transform="rotate(45 686.13 325.72)"/>
<rect x="686.22" y="480.04" width="2.2" height="2.2" fill="#C1090C" transform="rotate(45 687.32 481.14)"/>
<rect x="683.6" y="387.8" width="2.2" height="2.2" fill="#C1090C" transform="rotate(45 684.7 388.9)"/>
<rect x="684.18" y="436.07" width="2.2" height="2.2" fill="#C1090C" transform="rotate(45 685.28 437.17)"/>
<rect x="684.28" y="588.07" width="2.2" height="2.2" fill="#C1090C" transform="rotate(45 685.38 589.17)"/>
<rect x="686.83" y="503.41" width="2.2" height="2.2" fill="#C1090C" transform="rotate(45 687.93 504.51)"/>
<rect x="689.89" y="408.82" width="2.2" height="2.2" fill="#C1090C" transform="rotate(45 690.99 409.92)"/>
<rect x="685.72" y="491.5" width="2.2" height="2.2" fill="#C1090C" transform="rotate(45 686.82 492.6)"/>
<rect x="690.05" y="565.17" width="2.2" height="2.2" fill="#C1090C" transform="rotate(45 691.15 566.27)"/>
<rect x="690.38" y="578.93" width="2.2" height="2.2" fill="#C1090C" transform="rotate(45 691.48 580.03)"/>
<rect x="684.34" y="543.74" width="2.2" height="2.2" fill="#C1090C" transform="rotate(45 685.44 544.84)"/>
<rect x="683.93" y="586.22" width="2.2" height="2.2" fill="#C1090C" transform="rotate(45 685.03 587.32)"/>
<rect x="686.15" y="574.86" width="2.2" height="2.2" fill="#C1090C" transform="rotate(45 687.25 575.96)"/>
<rect x="689.88" y="470.35" width="2.2" height="2.2" fill="#C1090C" transform="rotate(45 690.98 471.45)"/>
<rect x="688.97" y="382.86" width="2.2" height="2.2" fill="#C1090C" transform="rotate(45 690.07 383.96)"/>
<rect x="686.73" y="452.16" width="2.2" height="2.2" fill="#C1090C" transform="rotate(45 687.83 453.26)"/>
<rect x="689.61" y="396.84" width="2.2" height="2.2" fill="#C1090C" transform="rotate(45 690.71 397.94)"/>
<rect x="688.69" y="515.67" width="2.2" height="2.2" fill="#C1090C" transform="rotate(45 689.79 516.77)"/>
<rect x="685.2" y="460.16" width="2.2" height="2.2" fill="#C1090C" transform="rotate(45 686.3 461.26)"/>
<rect x="684.3" y="580.23" width="2.2" height="2.2" fill="#C1090C" transform="rotate(45 685.4 581.33)"/>
<rect x="686.13" y="569.01" width="2.2" height="2.2" fill="#C1090C" transform="rotate(45 687.23 570.11)"/>
<rect x="683.9" y="541.83" width="2.2" height="2.2" fill="#C1090C" transform="rotate(45 685 542.93)"/>
<rect x="689.01" y="560.14" width="2.2" height="2.2" fill="#C1090C" transform="rotate(45 690.11 561.24)"/>
<rect x="688.14" y="481.84" width="2.2" height="2.2" fill="#C1090C" transform="rotate(45 689.24 482.94)"/>
<rect x="684.98" y="387.56" width="2.2" height="2.2" fill="#C1090C" transform="rotate(45 686.08 388.66)"/>
<rect x="684.21" y="411.79" width="2.2" height="2.2" fill="#C1090C" transform="rotate(45 685.31 412.89)"/>
<rect x="685.65" y="511.98" width="2.2" height="2.2" fill="#C1090C" transform="rotate(45 686.75 513.08)"/>
<rect x="687.82" y="499.41" width="2.2" height="2.2" fill="#C1090C" transform="rotate(45 688.92 500.51)"/>
<rect x="683.88" y="480.7" width="2.2" height="2.2" fill="#C1090C" transform="rotate(45 684.98 481.8)"/>
<rect x="685.29" y="345.59" width="2.2" height="2.2" fill="#C1090C" transform="rotate(45 686.39 346.69)"/>
<rect x="689.11" y="535.58" width="2.2" height="2.2" fill="#C1090C" transform="rotate(45 690.21 536.68)"/>
<rect x="688.89" y="476.02" width="2.2" height="2.2" fill="#C1090C" transform="rotate(45 689.99 477.12)"/>
<rect x="684.49" y="494.69" width="2.2" height="2.2" fill="#C1090C" transform="rotate(45 685.59 495.79)"/>
<rect x="689.7" y="463.9" width="2.2" height="2.2" fill="#C1090C" transform="rotate(45 690.8 465)"/>
<rect x="686.34" y="544.81" width="2.2" height="2.2" fill="#C1090C" transform="rotate(45 687.44 545.91)"/>
<rect x="687.38" y="444.45" width="2.2" height="2.2" fill="#C1090C" transform="rotate(45 688.48 445.55)"/>
<rect x="685.85" y="482.17" width="2.2" height="2.2" fill="#C1090C" transform="rotate(45 686.95 483.27)"/>
<rect x="688.58" y="475.36" width="2.2" height="2.2" fill="#C1090C" transform="rotate(45 689.68 476.46)"/>
<rect x="683.62" y="567.21" width="2.2" height="2.2" fill="#C1090C" transform="rotate(45 684.72 568.31)"/>
<rect x="688.41" y="506.14" width="2.2" height="2.2" fill="#C1090C" transform="rotate(45 689.51 507.24)"/>
<rect x="687.99" y="319.16" width="2.2" height="2.2" fill="#C1090C" transform="rotate(45 689.09 320.26)"/>
<rect x="683.68" y="566.26" width="2.2" height="2.2" fill="#C1090C" transform="rotate(45 684.78 567.36)"/>
<rect x="687.86" y="477.52" width="2.2" height="2.2" fill="#C1090C" transform="rotate(45 688.96 478.62)"/>
<rect x="685.38" y="571.22" width="2.2" height="2.2" fill="#C1090C" transform="rotate(45 686.48 572.32)"/>
<rect x="690.21" y="341.56" width="2.2" height="2.2" fill="#C1090C" transform="rotate(45 691.31 342.66)"/>
<rect x="684.91" y="494.73" width="2.2" height="2.2" fill="#C1090C" transform="rotate(45 686.01 495.83)"/>
<rect x="689.43" y="577.23" width="2.2" height="2.2" fill="#C1090C" transform="rotate(45 690.53 578.33)"/>
<rect x="687.83" y="571.22" width="2.2" height="2.2" fill="#C1090C" transform="rotate(45 688.93 572.32)"/>
<rect x="684.96" y="468.23" width="2.2" height="2.2" fill="#C1090C" transform="rotate(45 686.06 469.33)"/>
<rect x="689.21" y="575.66" width="2.2" height="2.2" fill="#C1090C" transform="rotate(45 690.31 576.76)"/>
<rect x="683.93" y="466.39" width="2.2" height="2.2" fill="#C1090C" transform="rotate(45 685.03 467.49)"/>
<rect x="685.96" y="566.89" width="2.2" height="2.2" fill="#C1090C" transform="rotate(45 687.06 567.99)"/>
<rect x="683.63" y="568.4" width="2.2" height="2.2" fill="#C1090C" transform="rotate(45 684.73 569.5)"/>
<rect x="689.98" y="509.1" width="2.2" height="2.2" fill="#C1090C" transform="rotate(45 691.08 510.2)"/>
<rect x="689.66" y="403.84" width="2.2" height="2.2" fill="#C1090C" transform="rotate(45 690.76 404.94)"/>
<rect x="684.46" y="434.75" width="2.2" height="2.2" fill="#C1090C" transform="rotate(45 685.56 435.85)"/>
<rect x="686.58" y="412.63" width="2.2" height="2.2" fill="#C1090C" transform="rotate(45 687.68 413.73)"/>
<rect x="688.52" y="545.26" width="2.2" height="2.2" fill="#C1090C" transform="rotate(45 689.62 546.36)"/>
<rect x="684.93" y="571.25" width="2.2" height="2.2" fill="#C1090C" transform="rotate(45 686.03 572.35)"/>
<rect x="686.31" y="583.88" width="2.2" height="2.2" fill="#C1090C" transform="rotate(45 687.41 584.98)"/>
<rect x="688.37" y="400.47" width="2.2" height="2.2" fill="#C1090C" transform="rotate(45 689.47 401.57)"/>
<rect x="686.69" y="573.02" width="2.2" height="2.2" fill="#C1090C" transform="rotate(45 687.79 574.12)"/>
<rect x="689.44" y="343.63" width="2.2" height="2.2" fill="#C1090C" transform="rotate(45 690.54 344.73)"/>
<rect x="684.69" y="456.17" width="2.2" height="2.2" fill="#C1090C" transform="rotate(45 685.79 457.27)"/>
<rect x="685.93" y="345.1" width="2.2" height="2.2" fill="#C1090C" transform="rotate(45 687.03 346.2)"/>
<rect x="686.32" y="390.54" width="2.2" height="2.2" fill="#C1090C" transform="rotate(45 687.42 391.64)"/>
<rect x="690.36" y="470.8" width="2.2" height="2.2" fill="#C1090C" transform="rotate(45 691.46 471.9)"/>
<rect x="686" y="544.27" width="2.2" height="2.2" fill="#C1090C" transform="rotate(45 687.1 545.37)"/>
<rect x="688.39" y="500.91" width="2.2" height="2.2" fill="#C1090C" transform="rotate(45 689.49 502.01)"/>
<rect x="687.93" y="341.96" width="2.2" height="2.2" fill="#C1090C" transform="rotate(45 689.03 343.06)"/>
<rect x="683.7" y="322.59" width="2.2" height="2.2" fill="#C1090C" transform="rotate(45 684.8 323.69)"/>
<rect x="688.98" y="429.79" width="2.2" height="2.2" fill="#C1090C" transform="rotate(45 690.08 430.89)"/>
<rect x="684.13" y="384.22" width="2.2" height="2.2" fill="#C1090C" transform="rotate(45 685.23 385.32)"/>
<rect x="685.28" y="404.16" width="2.2" height="2.2" fill="#C1090C" transform="rotate(45 686.38 405.26)"/>
<rect x="684.83" y="574.13" width="2.2" height="2.2" fill="#C1090C" transform="rotate(45 685.93 575.23)"/>
<rect x="683.83" y="547.96" width="2.2" height="2.2" fill="#C1090C" transform="rotate(45 684.93 549.06)"/>
<rect x="685.31" y="406.67" width="2.2" height="2.2" fill="#C1090C" transform="rotate(45 686.41 407.77)"/>
<rect x="685.85" y="581.36" width="2.2" height="2.2" fill="#C1090C" transform="rotate(45 686.95 582.46)"/>
<rect x="684.34" y="464.39" width="2.2" height="2.2" fill="#C1090C" transform="rotate(45 685.44 465.49)"/>
<rect x="689.56" y="331.41" width="2.2" height="2.2" fill="#C1090C" transform="rotate(45 690.66 332.51)"/>
<rect x="686.11" y="585.78" width="2.2" height="2.2" fill="#C1090C" transform="rotate(45 687.21 586.88)"/>
<rect x="686.98" y="565.1" width="2.2" height="2.2" fill="#C1090C" transform="rotate(45 688.08 566.2)"/>
<rect x="686.83" y="528.66" width="2.2" height="2.2" fill="#C1090C" transform="rotate(45 687.93 529.76)"/>
<rect x="685.08" y="585.72" width="2.2" height="2.2" fill="#C1090C" transform="rotate(45 686.18 586.82)"/>
<rect x="688.56" y="541.43" width="2.2" height="2.2" fill="#C1090C" transform="rotate(45 689.66 542.53)"/>
<rect x="684.14" y="368.26" width="2.2" height="2.2" fill="#C1090C" transform="rotate(45 685.24 369.36)"/>
<rect x="690.17" y="544.24" width="2.2" height="2.2" fill="#C1090C" transform="rotate(45 691.27 545.34)"/>
<rect x="684.01" y="487.3" width="2.2" height="2.2" fill="#C1090C" transform="rotate(45 685.11 488.4)"/>
<rect x="686.16" y="498.1" width="2.2" height="2.2" fill="#C1090C" transform="rotate(45 687.26 499.2)"/>
<rect x="685.56" y="568.95" width="2.2" height="2.2" fill="#C1090C" transform="rotate(45 686.66 570.05)"/>
<rect x="687.36" y="357.43" width="2.2" height="2.2" fill="#C1090C" transform="rotate(45 688.46 358.53)"/>
<rect x="688.98" y="565.81" width="2.2" height="2.2" fill="#C1090C" transform="rotate(45 690.08 566.91)"/>
<rect x="684.97" y="342.43" width="2.2" height="2.2" fill="#C1090C" transform="rotate(45 686.07 343.53)"/>
<rect x="686.14" y="380.41" width="2.2" height="2.2" fill="#C1090C" transform="rotate(45 687.24 381.51)"/>
<rect x="686.91" y="313.7" width="2.2" height="2.2" fill="#C1090C" transform="rotate(45 688.01 314.8)"/>
<rect x="690.36" y="491.1" width="2.2" height="2.2" fill="#C1090C" transform="rotate(45 691.46 492.2)"/>
<rect x="688.4" y="587.46" width="2.2" height="2.2" fill="#C1090C" transform="rotate(45 689.5 588.56)"/>
<rect x="684.77" y="516.17" width="2.2" height="2.2" fill="#C1090C" transform="rotate(45 685.87 517.27)"/>
<polyline points="689.74,286.3 689.87,291.83 690.02,297.36 690.18,302.89 690.35,308.42 690.52,313.94 690.71,319.47 690.91,325 691.12,330.53 691.33,336.06 691.55,341.59 691.78,347.12 692.01,352.65 692.25,358.17 692.48,363.7 692.71,369.23 692.95,374.76 693.17,380.29 693.39,385.82 693.6,391.35 693.8,396.88 693.99,402.41 694.16,407.93 694.31,413.46 694.44,418.99 694.56,424.52 694.65,430.05 694.72,435.58 694.77,441.11 694.8,446.64 694.8,452.16 694.77,457.69 694.72,463.22 694.65,468.75 694.56,474.28 694.44,479.81 694.31,485.34 694.16,490.87 693.99,496.39 693.8,501.92 693.6,507.45 693.39,512.98 693.17,518.51 692.95,524.04 692.71,529.57 692.48,535.1 692.25,540.63 692.01,546.15 691.78,551.68 691.55,557.21 691.33,562.74 691.12,568.27 690.91,573.8 690.71,579.33 690.52,584.86 690.35,590.38 690.18,595.91 690.02,601.44 689.87,606.97 689.74,612.5" fill="none" stroke="#C1090C" stroke-width="1.4"/>
<line x1="718.9" y1="515.81" x2="718.9" y2="589.2" stroke="#F0B93A" stroke-width="1.2"/>
<line x1="710.6" y1="515.81" x2="727.2" y2="515.81" stroke="#F0B93A" stroke-width="1.4"/>
<line x1="710.6" y1="589.2" x2="727.2" y2="589.2" stroke="#F0B93A" stroke-width="1.4"/>
<rect x="710.6" y="554.95" width="16.6" height="30.06" fill="#F0B93A" stroke="none" stroke-width="1"/>
<line x1="710.6" y1="568.46" x2="727.2" y2="568.46" stroke="#fff" stroke-width="1.1"/>
<rect x="734" y="517.99" width="2.2" height="2.2" fill="#F0B93A" transform="rotate(45 735.1 519.09)"/>
<rect x="737.36" y="585.33" width="2.2" height="2.2" fill="#F0B93A" transform="rotate(45 738.46 586.43)"/>
<rect x="735.35" y="518.29" width="2.2" height="2.2" fill="#F0B93A" transform="rotate(45 736.45 519.39)"/>
<rect x="737.09" y="558.13" width="2.2" height="2.2" fill="#F0B93A" transform="rotate(45 738.19 559.23)"/>
<rect x="736.89" y="569.09" width="2.2" height="2.2" fill="#F0B93A" transform="rotate(45 737.99 570.19)"/>
<rect x="734.29" y="572.52" width="2.2" height="2.2" fill="#F0B93A" transform="rotate(45 735.39 573.62)"/>
<rect x="734.95" y="567.64" width="2.2" height="2.2" fill="#F0B93A" transform="rotate(45 736.05 568.74)"/>
<rect x="738.69" y="564.52" width="2.2" height="2.2" fill="#F0B93A" transform="rotate(45 739.79 565.62)"/>
<rect x="738.04" y="586.63" width="2.2" height="2.2" fill="#F0B93A" transform="rotate(45 739.14 587.73)"/>
<rect x="736.8" y="579.3" width="2.2" height="2.2" fill="#F0B93A" transform="rotate(45 737.9 580.4)"/>
<rect x="736.15" y="581.74" width="2.2" height="2.2" fill="#F0B93A" transform="rotate(45 737.25 582.84)"/>
<rect x="736.18" y="550.95" width="2.2" height="2.2" fill="#F0B93A" transform="rotate(45 737.28 552.05)"/>
<rect x="739.82" y="572.44" width="2.2" height="2.2" fill="#F0B93A" transform="rotate(45 740.92 573.54)"/>
<rect x="739.67" y="552.35" width="2.2" height="2.2" fill="#F0B93A" transform="rotate(45 740.77 553.45)"/>
<rect x="739.03" y="562.16" width="2.2" height="2.2" fill="#F0B93A" transform="rotate(45 740.13 563.26)"/>
<rect x="734.67" y="556.98" width="2.2" height="2.2" fill="#F0B93A" transform="rotate(45 735.77 558.08)"/>
<rect x="737.81" y="562.28" width="2.2" height="2.2" fill="#F0B93A" transform="rotate(45 738.91 563.38)"/>
<rect x="736.14" y="574.31" width="2.2" height="2.2" fill="#F0B93A" transform="rotate(45 737.24 575.41)"/>
<rect x="740.11" y="566.88" width="2.2" height="2.2" fill="#F0B93A" transform="rotate(45 741.21 567.98)"/>
<rect x="739.9" y="571.52" width="2.2" height="2.2" fill="#F0B93A" transform="rotate(45 741 572.62)"/>
<rect x="734.11" y="570.11" width="2.2" height="2.2" fill="#F0B93A" transform="rotate(45 735.21 571.21)"/>
<rect x="740.21" y="563.63" width="2.2" height="2.2" fill="#F0B93A" transform="rotate(45 741.31 564.73)"/>
<rect x="734.39" y="573.7" width="2.2" height="2.2" fill="#F0B93A" transform="rotate(45 735.49 574.8)"/>
<rect x="736.09" y="552.31" width="2.2" height="2.2" fill="#F0B93A" transform="rotate(45 737.19 553.41)"/>
<rect x="734.83" y="584.27" width="2.2" height="2.2" fill="#F0B93A" transform="rotate(45 735.93 585.37)"/>
<rect x="736.67" y="535.55" width="2.2" height="2.2" fill="#F0B93A" transform="rotate(45 737.77 536.65)"/>
<rect x="734.62" y="548.58" width="2.2" height="2.2" fill="#F0B93A" transform="rotate(45 735.72 549.68)"/>
<rect x="736.44" y="581.75" width="2.2" height="2.2" fill="#F0B93A" transform="rotate(45 737.54 582.85)"/>
<rect x="737.48" y="566.56" width="2.2" height="2.2" fill="#F0B93A" transform="rotate(45 738.58 567.66)"/>
<rect x="735.62" y="561.69" width="2.2" height="2.2" fill="#F0B93A" transform="rotate(45 736.72 562.79)"/>
<rect x="734.34" y="560.98" width="2.2" height="2.2" fill="#F0B93A" transform="rotate(45 735.44 562.08)"/>
<rect x="736.7" y="582.71" width="2.2" height="2.2" fill="#F0B93A" transform="rotate(45 737.8 583.81)"/>
<rect x="737.09" y="579.23" width="2.2" height="2.2" fill="#F0B93A" transform="rotate(45 738.19 580.33)"/>
<rect x="737.89" y="565.27" width="2.2" height="2.2" fill="#F0B93A" transform="rotate(45 738.99 566.37)"/>
<rect x="737.41" y="554.99" width="2.2" height="2.2" fill="#F0B93A" transform="rotate(45 738.51 556.09)"/>
<rect x="739.28" y="561.04" width="2.2" height="2.2" fill="#F0B93A" transform="rotate(45 740.38 562.14)"/>
<rect x="740.2" y="539.76" width="2.2" height="2.2" fill="#F0B93A" transform="rotate(45 741.3 540.86)"/>
<rect x="736.54" y="541.66" width="2.2" height="2.2" fill="#F0B93A" transform="rotate(45 737.64 542.76)"/>
<rect x="735.22" y="567.83" width="2.2" height="2.2" fill="#F0B93A" transform="rotate(45 736.32 568.93)"/>
<rect x="736.25" y="550.53" width="2.2" height="2.2" fill="#F0B93A" transform="rotate(45 737.35 551.63)"/>
<rect x="739.26" y="577.91" width="2.2" height="2.2" fill="#F0B93A" transform="rotate(45 740.36 579.01)"/>
<rect x="740.25" y="560.08" width="2.2" height="2.2" fill="#F0B93A" transform="rotate(45 741.35 561.18)"/>
<rect x="736.61" y="547.38" width="2.2" height="2.2" fill="#F0B93A" transform="rotate(45 737.71 548.48)"/>
<rect x="737.05" y="542.01" width="2.2" height="2.2" fill="#F0B93A" transform="rotate(45 738.15 543.11)"/>
<rect x="738.97" y="585.9" width="2.2" height="2.2" fill="#F0B93A" transform="rotate(45 740.07 587)"/>
<rect x="740.02" y="568.27" width="2.2" height="2.2" fill="#F0B93A" transform="rotate(45 741.12 569.37)"/>
<rect x="733.88" y="571.36" width="2.2" height="2.2" fill="#F0B93A" transform="rotate(45 734.98 572.46)"/>
<rect x="736.38" y="546.51" width="2.2" height="2.2" fill="#F0B93A" transform="rotate(45 737.48 547.61)"/>
<rect x="739.33" y="568.99" width="2.2" height="2.2" fill="#F0B93A" transform="rotate(45 740.43 570.09)"/>
<rect x="737.15" y="553.03" width="2.2" height="2.2" fill="#F0B93A" transform="rotate(45 738.25 554.13)"/>
<rect x="737.68" y="564.99" width="2.2" height="2.2" fill="#F0B93A" transform="rotate(45 738.78 566.09)"/>
<rect x="739.24" y="553.15" width="2.2" height="2.2" fill="#F0B93A" transform="rotate(45 740.34 554.25)"/>
<rect x="738.78" y="539.42" width="2.2" height="2.2" fill="#F0B93A" transform="rotate(45 739.88 540.52)"/>
<rect x="734.79" y="586.8" width="2.2" height="2.2" fill="#F0B93A" transform="rotate(45 735.89 587.9)"/>
<rect x="737.87" y="545.41" width="2.2" height="2.2" fill="#F0B93A" transform="rotate(45 738.97 546.51)"/>
<rect x="734.91" y="541.93" width="2.2" height="2.2" fill="#F0B93A" transform="rotate(45 736.01 543.03)"/>
<rect x="738.31" y="567.77" width="2.2" height="2.2" fill="#F0B93A" transform="rotate(45 739.41 568.87)"/>
<rect x="737.13" y="563.76" width="2.2" height="2.2" fill="#F0B93A" transform="rotate(45 738.23 564.86)"/>
<rect x="737.13" y="540.25" width="2.2" height="2.2" fill="#F0B93A" transform="rotate(45 738.23 541.35)"/>
<rect x="735.96" y="568.53" width="2.2" height="2.2" fill="#F0B93A" transform="rotate(45 737.06 569.63)"/>
<rect x="740.03" y="572.86" width="2.2" height="2.2" fill="#F0B93A" transform="rotate(45 741.13 573.96)"/>
<rect x="734.21" y="536.01" width="2.2" height="2.2" fill="#F0B93A" transform="rotate(45 735.31 537.11)"/>
<rect x="734.51" y="578.22" width="2.2" height="2.2" fill="#F0B93A" transform="rotate(45 735.61 579.32)"/>
<rect x="738.13" y="546.66" width="2.2" height="2.2" fill="#F0B93A" transform="rotate(45 739.23 547.76)"/>
<rect x="740.3" y="566.37" width="2.2" height="2.2" fill="#F0B93A" transform="rotate(45 741.4 567.47)"/>
<rect x="733.85" y="538.48" width="2.2" height="2.2" fill="#F0B93A" transform="rotate(45 734.95 539.58)"/>
<rect x="739.43" y="575.13" width="2.2" height="2.2" fill="#F0B93A" transform="rotate(45 740.53 576.23)"/>
<rect x="736.02" y="582.17" width="2.2" height="2.2" fill="#F0B93A" transform="rotate(45 737.12 583.27)"/>
<rect x="734.09" y="514.17" width="2.2" height="2.2" fill="#F0B93A" transform="rotate(45 735.19 515.27)"/>
<rect x="736.03" y="585.68" width="2.2" height="2.2" fill="#F0B93A" transform="rotate(45 737.13 586.78)"/>
<rect x="739.81" y="565.3" width="2.2" height="2.2" fill="#F0B93A" transform="rotate(45 740.91 566.4)"/>
<rect x="738.9" y="525.45" width="2.2" height="2.2" fill="#F0B93A" transform="rotate(45 740 526.55)"/>
<rect x="739.71" y="547.27" width="2.2" height="2.2" fill="#F0B93A" transform="rotate(45 740.81 548.37)"/>
<rect x="735.58" y="587.82" width="2.2" height="2.2" fill="#F0B93A" transform="rotate(45 736.68 588.92)"/>
<rect x="736.64" y="538.99" width="2.2" height="2.2" fill="#F0B93A" transform="rotate(45 737.74 540.09)"/>
<rect x="733.77" y="544.44" width="2.2" height="2.2" fill="#F0B93A" transform="rotate(45 734.87 545.54)"/>
<rect x="735.26" y="562.71" width="2.2" height="2.2" fill="#F0B93A" transform="rotate(45 736.36 563.81)"/>
<rect x="734.2" y="577.75" width="2.2" height="2.2" fill="#F0B93A" transform="rotate(45 735.3 578.85)"/>
<rect x="735.72" y="576.4" width="2.2" height="2.2" fill="#F0B93A" transform="rotate(45 736.82 577.5)"/>
<rect x="737.38" y="575.7" width="2.2" height="2.2" fill="#F0B93A" transform="rotate(45 738.48 576.8)"/>
<rect x="739.9" y="562.49" width="2.2" height="2.2" fill="#F0B93A" transform="rotate(45 741 563.59)"/>
<rect x="738.62" y="567.87" width="2.2" height="2.2" fill="#F0B93A" transform="rotate(45 739.72 568.97)"/>
<rect x="737.93" y="569.66" width="2.2" height="2.2" fill="#F0B93A" transform="rotate(45 739.03 570.76)"/>
<rect x="736.75" y="525.03" width="2.2" height="2.2" fill="#F0B93A" transform="rotate(45 737.85 526.13)"/>
<rect x="735.98" y="564.93" width="2.2" height="2.2" fill="#F0B93A" transform="rotate(45 737.08 566.03)"/>
<rect x="734.24" y="542.99" width="2.2" height="2.2" fill="#F0B93A" transform="rotate(45 735.34 544.09)"/>
<rect x="736.76" y="559.11" width="2.2" height="2.2" fill="#F0B93A" transform="rotate(45 737.86 560.21)"/>
<rect x="737.58" y="550.89" width="2.2" height="2.2" fill="#F0B93A" transform="rotate(45 738.68 551.99)"/>
<rect x="734.43" y="565.9" width="2.2" height="2.2" fill="#F0B93A" transform="rotate(45 735.53 567)"/>
<rect x="739.61" y="577.21" width="2.2" height="2.2" fill="#F0B93A" transform="rotate(45 740.71 578.31)"/>
<rect x="735.14" y="581.86" width="2.2" height="2.2" fill="#F0B93A" transform="rotate(45 736.24 582.96)"/>
<rect x="738.15" y="570.73" width="2.2" height="2.2" fill="#F0B93A" transform="rotate(45 739.25 571.83)"/>
<rect x="740.05" y="588.06" width="2.2" height="2.2" fill="#F0B93A" transform="rotate(45 741.15 589.16)"/>
<rect x="733.73" y="561.46" width="2.2" height="2.2" fill="#F0B93A" transform="rotate(45 734.83 562.56)"/>
<rect x="737.66" y="587.25" width="2.2" height="2.2" fill="#F0B93A" transform="rotate(45 738.76 588.35)"/>
<rect x="737.7" y="584.26" width="2.2" height="2.2" fill="#F0B93A" transform="rotate(45 738.8 585.36)"/>
<rect x="736.07" y="584.29" width="2.2" height="2.2" fill="#F0B93A" transform="rotate(45 737.17 585.39)"/>
<rect x="736.32" y="553.55" width="2.2" height="2.2" fill="#F0B93A" transform="rotate(45 737.42 554.65)"/>
<rect x="739.33" y="548.32" width="2.2" height="2.2" fill="#F0B93A" transform="rotate(45 740.43 549.42)"/>
<rect x="737.44" y="580.05" width="2.2" height="2.2" fill="#F0B93A" transform="rotate(45 738.54 581.15)"/>
<rect x="736.32" y="547.48" width="2.2" height="2.2" fill="#F0B93A" transform="rotate(45 737.42 548.58)"/>
<rect x="737.42" y="568.38" width="2.2" height="2.2" fill="#F0B93A" transform="rotate(45 738.52 569.48)"/>
<rect x="738.23" y="572.26" width="2.2" height="2.2" fill="#F0B93A" transform="rotate(45 739.33 573.36)"/>
<rect x="736" y="555.67" width="2.2" height="2.2" fill="#F0B93A" transform="rotate(45 737.1 556.77)"/>
<rect x="733.68" y="544.47" width="2.2" height="2.2" fill="#F0B93A" transform="rotate(45 734.78 545.57)"/>
<rect x="734.34" y="586.05" width="2.2" height="2.2" fill="#F0B93A" transform="rotate(45 735.44 587.15)"/>
<rect x="734.97" y="559.24" width="2.2" height="2.2" fill="#F0B93A" transform="rotate(45 736.07 560.34)"/>
<rect x="738.15" y="548.75" width="2.2" height="2.2" fill="#F0B93A" transform="rotate(45 739.25 549.85)"/>
<rect x="736.3" y="563.15" width="2.2" height="2.2" fill="#F0B93A" transform="rotate(45 737.4 564.25)"/>
<rect x="740.38" y="544.05" width="2.2" height="2.2" fill="#F0B93A" transform="rotate(45 741.48 545.15)"/>
<rect x="740.27" y="573.16" width="2.2" height="2.2" fill="#F0B93A" transform="rotate(45 741.37 574.26)"/>
<rect x="740.22" y="564.72" width="2.2" height="2.2" fill="#F0B93A" transform="rotate(45 741.32 565.82)"/>
<rect x="737.82" y="524.18" width="2.2" height="2.2" fill="#F0B93A" transform="rotate(45 738.92 525.28)"/>
<rect x="739.84" y="555.68" width="2.2" height="2.2" fill="#F0B93A" transform="rotate(45 740.94 556.78)"/>
<rect x="739.08" y="587.54" width="2.2" height="2.2" fill="#F0B93A" transform="rotate(45 740.18 588.64)"/>
<rect x="733.84" y="587.96" width="2.2" height="2.2" fill="#F0B93A" transform="rotate(45 734.94 589.06)"/>
<rect x="733.69" y="557.66" width="2.2" height="2.2" fill="#F0B93A" transform="rotate(45 734.79 558.76)"/>
<rect x="735.21" y="560.08" width="2.2" height="2.2" fill="#F0B93A" transform="rotate(45 736.31 561.18)"/>
<rect x="735.96" y="556.26" width="2.2" height="2.2" fill="#F0B93A" transform="rotate(45 737.06 557.36)"/>
<rect x="734.74" y="564.03" width="2.2" height="2.2" fill="#F0B93A" transform="rotate(45 735.84 565.13)"/>
<rect x="739.86" y="515.22" width="2.2" height="2.2" fill="#F0B93A" transform="rotate(45 740.96 516.32)"/>
<rect x="739.73" y="546.17" width="2.2" height="2.2" fill="#F0B93A" transform="rotate(45 740.83 547.27)"/>
<rect x="739.94" y="541.43" width="2.2" height="2.2" fill="#F0B93A" transform="rotate(45 741.04 542.53)"/>
<rect x="736.59" y="551.85" width="2.2" height="2.2" fill="#F0B93A" transform="rotate(45 737.69 552.95)"/>
<rect x="739.83" y="564.09" width="2.2" height="2.2" fill="#F0B93A" transform="rotate(45 740.93 565.19)"/>
<rect x="737.53" y="569.99" width="2.2" height="2.2" fill="#F0B93A" transform="rotate(45 738.63 571.09)"/>
<rect x="738.63" y="572.06" width="2.2" height="2.2" fill="#F0B93A" transform="rotate(45 739.73 573.16)"/>
<rect x="735.55" y="531.33" width="2.2" height="2.2" fill="#F0B93A" transform="rotate(45 736.65 532.43)"/>
<rect x="735.11" y="577.18" width="2.2" height="2.2" fill="#F0B93A" transform="rotate(45 736.21 578.28)"/>
<rect x="736.23" y="557.07" width="2.2" height="2.2" fill="#F0B93A" transform="rotate(45 737.33 558.17)"/>
<rect x="739.66" y="586.64" width="2.2" height="2.2" fill="#F0B93A" transform="rotate(45 740.76 587.74)"/>
<rect x="735.67" y="572.96" width="2.2" height="2.2" fill="#F0B93A" transform="rotate(45 736.77 574.06)"/>
<rect x="733.81" y="569.44" width="2.2" height="2.2" fill="#F0B93A" transform="rotate(45 734.91 570.54)"/>
<rect x="735.87" y="561.05" width="2.2" height="2.2" fill="#F0B93A" transform="rotate(45 736.97 562.15)"/>
<rect x="740.19" y="556.34" width="2.2" height="2.2" fill="#F0B93A" transform="rotate(45 741.29 557.44)"/>
<rect x="736.3" y="541.15" width="2.2" height="2.2" fill="#F0B93A" transform="rotate(45 737.4 542.25)"/>
<rect x="740.07" y="555.08" width="2.2" height="2.2" fill="#F0B93A" transform="rotate(45 741.17 556.18)"/>
<rect x="735.8" y="572.64" width="2.2" height="2.2" fill="#F0B93A" transform="rotate(45 736.9 573.74)"/>
<rect x="739.57" y="574.6" width="2.2" height="2.2" fill="#F0B93A" transform="rotate(45 740.67 575.7)"/>
<rect x="735.07" y="551.21" width="2.2" height="2.2" fill="#F0B93A" transform="rotate(45 736.17 552.31)"/>
<rect x="737.35" y="562.36" width="2.2" height="2.2" fill="#F0B93A" transform="rotate(45 738.45 563.46)"/>
<rect x="737.72" y="565.06" width="2.2" height="2.2" fill="#F0B93A" transform="rotate(45 738.82 566.16)"/>
<rect x="737.12" y="585.19" width="2.2" height="2.2" fill="#F0B93A" transform="rotate(45 738.22 586.29)"/>
<rect x="739.27" y="540.48" width="2.2" height="2.2" fill="#F0B93A" transform="rotate(45 740.37 541.58)"/>
<rect x="737.14" y="586.93" width="2.2" height="2.2" fill="#F0B93A" transform="rotate(45 738.24 588.03)"/>
<rect x="740.33" y="537.18" width="2.2" height="2.2" fill="#F0B93A" transform="rotate(45 741.43 538.28)"/>
<rect x="736.43" y="587.12" width="2.2" height="2.2" fill="#F0B93A" transform="rotate(45 737.53 588.22)"/>
<rect x="738.14" y="563.66" width="2.2" height="2.2" fill="#F0B93A" transform="rotate(45 739.24 564.76)"/>
<rect x="737.75" y="557.3" width="2.2" height="2.2" fill="#F0B93A" transform="rotate(45 738.85 558.4)"/>
<rect x="735.48" y="555.29" width="2.2" height="2.2" fill="#F0B93A" transform="rotate(45 736.58 556.39)"/>
<rect x="739.42" y="561.47" width="2.2" height="2.2" fill="#F0B93A" transform="rotate(45 740.52 562.57)"/>
<rect x="739.87" y="574.96" width="2.2" height="2.2" fill="#F0B93A" transform="rotate(45 740.97 576.06)"/>
<rect x="737.89" y="549.34" width="2.2" height="2.2" fill="#F0B93A" transform="rotate(45 738.99 550.44)"/>
<rect x="737.9" y="567.14" width="2.2" height="2.2" fill="#F0B93A" transform="rotate(45 739 568.24)"/>
<rect x="734.3" y="573.18" width="2.2" height="2.2" fill="#F0B93A" transform="rotate(45 735.4 574.28)"/>
<rect x="736.39" y="587.89" width="2.2" height="2.2" fill="#F0B93A" transform="rotate(45 737.49 588.99)"/>
<rect x="736.3" y="577.08" width="2.2" height="2.2" fill="#F0B93A" transform="rotate(45 737.4 578.18)"/>
<rect x="740.35" y="570.04" width="2.2" height="2.2" fill="#F0B93A" transform="rotate(45 741.45 571.14)"/>
<rect x="735.5" y="541.51" width="2.2" height="2.2" fill="#F0B93A" transform="rotate(45 736.6 542.61)"/>
<rect x="737.83" y="532.21" width="2.2" height="2.2" fill="#F0B93A" transform="rotate(45 738.93 533.31)"/>
<rect x="738.31" y="533.87" width="2.2" height="2.2" fill="#F0B93A" transform="rotate(45 739.41 534.97)"/>
<rect x="735.56" y="539.18" width="2.2" height="2.2" fill="#F0B93A" transform="rotate(45 736.66 540.28)"/>
<rect x="737.18" y="578.95" width="2.2" height="2.2" fill="#F0B93A" transform="rotate(45 738.28 580.05)"/>
<rect x="737.65" y="550.33" width="2.2" height="2.2" fill="#F0B93A" transform="rotate(45 738.75 551.43)"/>
<rect x="738.67" y="568.19" width="2.2" height="2.2" fill="#F0B93A" transform="rotate(45 739.77 569.29)"/>
<rect x="740.33" y="568.71" width="2.2" height="2.2" fill="#F0B93A" transform="rotate(45 741.43 569.81)"/>
<rect x="737.25" y="580.2" width="2.2" height="2.2" fill="#F0B93A" transform="rotate(45 738.35 581.3)"/>
<rect x="739.06" y="554.06" width="2.2" height="2.2" fill="#F0B93A" transform="rotate(45 740.16 555.16)"/>
<rect x="735.18" y="586.25" width="2.2" height="2.2" fill="#F0B93A" transform="rotate(45 736.28 587.35)"/>
<rect x="739.19" y="558.28" width="2.2" height="2.2" fill="#F0B93A" transform="rotate(45 740.29 559.38)"/>
<polyline points="738.68,502.06 738.71,503.93 738.74,505.8 738.78,507.67 738.82,509.55 738.88,511.42 738.94,513.29 739.02,515.16 739.12,517.03 739.23,518.91 739.36,520.78 739.51,522.65 739.68,524.52 739.88,526.39 740.09,528.26 740.34,530.14 740.6,532.01 740.9,533.88 741.21,535.75 741.55,537.62 741.9,539.5 742.28,541.37 742.66,543.24 743.05,545.11 743.45,546.98 743.84,548.86 744.22,550.73 744.58,552.6 744.92,554.47 745.23,556.34 745.51,558.21 745.75,560.09 745.94,561.96 746.08,563.83 746.17,565.7 746.2,567.57 746.18,569.45 746.1,571.32 745.97,573.19 745.79,575.06 745.56,576.93 745.29,578.81 744.99,580.68 744.65,582.55 744.29,584.42 743.91,586.29 743.52,588.17 743.13,590.04 742.74,591.91 742.35,593.78 741.98,595.65 741.62,597.52 741.28,599.4 740.96,601.27 740.66,603.14 740.39,605.01 740.14,606.88 739.92,608.76 739.72,610.63 739.54,612.5" fill="none" stroke="#F0B93A" stroke-width="1.4"/>
<line x1="727.2" y1="568.46" x2="746.2" y2="568.46" stroke="#fff" stroke-width="1"/>
<line x1="768.9" y1="535.84" x2="768.9" y2="589.2" stroke="#59A65B" stroke-width="1.2"/>
<line x1="760.6" y1="535.84" x2="777.2" y2="535.84" stroke="#59A65B" stroke-width="1.4"/>
<line x1="760.6" y1="589.2" x2="777.2" y2="589.2" stroke="#59A65B" stroke-width="1.4"/>
<rect x="760.6" y="564.27" width="16.6" height="22.13" fill="#59A65B" stroke="none" stroke-width="1"/>
<line x1="760.6" y1="571.73" x2="777.2" y2="571.73" stroke="#fff" stroke-width="1.1"/>
<rect x="787.73" y="580.58" width="2.2" height="2.2" fill="#59A65B" transform="rotate(45 788.83 581.68)"/>
<rect x="785.82" y="575.15" width="2.2" height="2.2" fill="#59A65B" transform="rotate(45 786.92 576.25)"/>
<rect x="783.77" y="537.1" width="2.2" height="2.2" fill="#59A65B" transform="rotate(45 784.87 538.2)"/>
<rect x="785.34" y="577.52" width="2.2" height="2.2" fill="#59A65B" transform="rotate(45 786.44 578.62)"/>
<rect x="787.25" y="556.73" width="2.2" height="2.2" fill="#59A65B" transform="rotate(45 788.35 557.83)"/>
<rect x="785.72" y="580.45" width="2.2" height="2.2" fill="#59A65B" transform="rotate(45 786.82 581.55)"/>
<rect x="789.21" y="585.82" width="2.2" height="2.2" fill="#59A65B" transform="rotate(45 790.31 586.92)"/>
<rect x="788.54" y="584.86" width="2.2" height="2.2" fill="#59A65B" transform="rotate(45 789.64 585.96)"/>
<rect x="783.88" y="585.78" width="2.2" height="2.2" fill="#59A65B" transform="rotate(45 784.98 586.88)"/>
<rect x="788.2" y="560.63" width="2.2" height="2.2" fill="#59A65B" transform="rotate(45 789.3 561.73)"/>
<rect x="784.06" y="572.93" width="2.2" height="2.2" fill="#59A65B" transform="rotate(45 785.16 574.03)"/>
<rect x="785.16" y="569.32" width="2.2" height="2.2" fill="#59A65B" transform="rotate(45 786.26 570.42)"/>
<rect x="788.01" y="586.13" width="2.2" height="2.2" fill="#59A65B" transform="rotate(45 789.11 587.23)"/>
<rect x="789.91" y="557.44" width="2.2" height="2.2" fill="#59A65B" transform="rotate(45 791.01 558.54)"/>
<rect x="786.46" y="562.83" width="2.2" height="2.2" fill="#59A65B" transform="rotate(45 787.56 563.93)"/>
<rect x="786.33" y="559.49" width="2.2" height="2.2" fill="#59A65B" transform="rotate(45 787.43 560.59)"/>
<rect x="787.59" y="565.5" width="2.2" height="2.2" fill="#59A65B" transform="rotate(45 788.69 566.6)"/>
<rect x="788.3" y="563.37" width="2.2" height="2.2" fill="#59A65B" transform="rotate(45 789.4 564.47)"/>
<rect x="786.07" y="570.35" width="2.2" height="2.2" fill="#59A65B" transform="rotate(45 787.17 571.45)"/>
<rect x="786.09" y="578.97" width="2.2" height="2.2" fill="#59A65B" transform="rotate(45 787.19 580.07)"/>
<rect x="784.79" y="554.76" width="2.2" height="2.2" fill="#59A65B" transform="rotate(45 785.89 555.86)"/>
<rect x="788.06" y="562.3" width="2.2" height="2.2" fill="#59A65B" transform="rotate(45 789.16 563.4)"/>
<rect x="789.96" y="575.28" width="2.2" height="2.2" fill="#59A65B" transform="rotate(45 791.06 576.38)"/>
<rect x="787.06" y="552.51" width="2.2" height="2.2" fill="#59A65B" transform="rotate(45 788.16 553.61)"/>
<rect x="787.16" y="542.32" width="2.2" height="2.2" fill="#59A65B" transform="rotate(45 788.26 543.42)"/>
<rect x="789.15" y="575.23" width="2.2" height="2.2" fill="#59A65B" transform="rotate(45 790.25 576.33)"/>
<rect x="786.4" y="559.05" width="2.2" height="2.2" fill="#59A65B" transform="rotate(45 787.5 560.15)"/>
<rect x="787.44" y="584.89" width="2.2" height="2.2" fill="#59A65B" transform="rotate(45 788.54 585.99)"/>
<rect x="787.89" y="549.76" width="2.2" height="2.2" fill="#59A65B" transform="rotate(45 788.99 550.86)"/>
<rect x="788.52" y="554" width="2.2" height="2.2" fill="#59A65B" transform="rotate(45 789.62 555.1)"/>
<rect x="783.62" y="571.21" width="2.2" height="2.2" fill="#59A65B" transform="rotate(45 784.72 572.31)"/>
<rect x="788.43" y="572.91" width="2.2" height="2.2" fill="#59A65B" transform="rotate(45 789.53 574.01)"/>
<rect x="786.3" y="563.78" width="2.2" height="2.2" fill="#59A65B" transform="rotate(45 787.4 564.88)"/>
<rect x="784.27" y="584.76" width="2.2" height="2.2" fill="#59A65B" transform="rotate(45 785.37 585.86)"/>
<rect x="784.79" y="565.28" width="2.2" height="2.2" fill="#59A65B" transform="rotate(45 785.89 566.38)"/>
<rect x="788.83" y="569.68" width="2.2" height="2.2" fill="#59A65B" transform="rotate(45 789.93 570.78)"/>
<rect x="789.69" y="569.02" width="2.2" height="2.2" fill="#59A65B" transform="rotate(45 790.79 570.12)"/>
<rect x="787.1" y="586.74" width="2.2" height="2.2" fill="#59A65B" transform="rotate(45 788.2 587.84)"/>
<rect x="787.69" y="561.9" width="2.2" height="2.2" fill="#59A65B" transform="rotate(45 788.79 563)"/>
<rect x="784.59" y="559.69" width="2.2" height="2.2" fill="#59A65B" transform="rotate(45 785.69 560.79)"/>
<rect x="783.8" y="582.28" width="2.2" height="2.2" fill="#59A65B" transform="rotate(45 784.9 583.38)"/>
<rect x="784.12" y="572.92" width="2.2" height="2.2" fill="#59A65B" transform="rotate(45 785.22 574.02)"/>
<rect x="786.78" y="548.13" width="2.2" height="2.2" fill="#59A65B" transform="rotate(45 787.88 549.23)"/>
<rect x="786.53" y="577.65" width="2.2" height="2.2" fill="#59A65B" transform="rotate(45 787.63 578.75)"/>
<rect x="788.26" y="561.13" width="2.2" height="2.2" fill="#59A65B" transform="rotate(45 789.36 562.23)"/>
<rect x="787.54" y="578.44" width="2.2" height="2.2" fill="#59A65B" transform="rotate(45 788.64 579.54)"/>
<rect x="785.47" y="561.02" width="2.2" height="2.2" fill="#59A65B" transform="rotate(45 786.57 562.12)"/>
<rect x="783.82" y="558.54" width="2.2" height="2.2" fill="#59A65B" transform="rotate(45 784.92 559.64)"/>
<rect x="790.04" y="578.64" width="2.2" height="2.2" fill="#59A65B" transform="rotate(45 791.14 579.74)"/>
<rect x="784.03" y="577.33" width="2.2" height="2.2" fill="#59A65B" transform="rotate(45 785.13 578.43)"/>
<rect x="783.73" y="560.11" width="2.2" height="2.2" fill="#59A65B" transform="rotate(45 784.83 561.21)"/>
<rect x="785.1" y="543.99" width="2.2" height="2.2" fill="#59A65B" transform="rotate(45 786.2 545.09)"/>
<rect x="783.9" y="579" width="2.2" height="2.2" fill="#59A65B" transform="rotate(45 785 580.1)"/>
<rect x="783.97" y="549.45" width="2.2" height="2.2" fill="#59A65B" transform="rotate(45 785.07 550.55)"/>
<rect x="784.68" y="569.11" width="2.2" height="2.2" fill="#59A65B" transform="rotate(45 785.78 570.21)"/>
<rect x="787.59" y="555.97" width="2.2" height="2.2" fill="#59A65B" transform="rotate(45 788.69 557.07)"/>
<rect x="789.5" y="569.13" width="2.2" height="2.2" fill="#59A65B" transform="rotate(45 790.6 570.23)"/>
<rect x="786.7" y="568.18" width="2.2" height="2.2" fill="#59A65B" transform="rotate(45 787.8 569.28)"/>
<rect x="789.63" y="583.46" width="2.2" height="2.2" fill="#59A65B" transform="rotate(45 790.73 584.56)"/>
<rect x="790.26" y="562.67" width="2.2" height="2.2" fill="#59A65B" transform="rotate(45 791.36 563.77)"/>
<rect x="788.19" y="542.69" width="2.2" height="2.2" fill="#59A65B" transform="rotate(45 789.29 543.79)"/>
<rect x="787.58" y="557.75" width="2.2" height="2.2" fill="#59A65B" transform="rotate(45 788.68 558.85)"/>
<rect x="788.44" y="587.45" width="2.2" height="2.2" fill="#59A65B" transform="rotate(45 789.54 588.55)"/>
<rect x="783.75" y="559.71" width="2.2" height="2.2" fill="#59A65B" transform="rotate(45 784.85 560.81)"/>
<rect x="784.76" y="564.36" width="2.2" height="2.2" fill="#59A65B" transform="rotate(45 785.86 565.46)"/>
<rect x="786.18" y="576.47" width="2.2" height="2.2" fill="#59A65B" transform="rotate(45 787.28 577.57)"/>
<rect x="786.07" y="566.97" width="2.2" height="2.2" fill="#59A65B" transform="rotate(45 787.17 568.07)"/>
<rect x="785.88" y="568.17" width="2.2" height="2.2" fill="#59A65B" transform="rotate(45 786.98 569.27)"/>
<rect x="788.03" y="557.63" width="2.2" height="2.2" fill="#59A65B" transform="rotate(45 789.13 558.73)"/>
<rect x="790.14" y="583.26" width="2.2" height="2.2" fill="#59A65B" transform="rotate(45 791.24 584.36)"/>
<rect x="787.37" y="566.94" width="2.2" height="2.2" fill="#59A65B" transform="rotate(45 788.47 568.04)"/>
<rect x="786.23" y="549.38" width="2.2" height="2.2" fill="#59A65B" transform="rotate(45 787.33 550.48)"/>
<rect x="786.56" y="588.02" width="2.2" height="2.2" fill="#59A65B" transform="rotate(45 787.66 589.12)"/>
<rect x="785.5" y="566.37" width="2.2" height="2.2" fill="#59A65B" transform="rotate(45 786.6 567.47)"/>
<rect x="785.24" y="534.39" width="2.2" height="2.2" fill="#59A65B" transform="rotate(45 786.34 535.49)"/>
<rect x="784.48" y="564.43" width="2.2" height="2.2" fill="#59A65B" transform="rotate(45 785.58 565.53)"/>
<rect x="788.95" y="561.84" width="2.2" height="2.2" fill="#59A65B" transform="rotate(45 790.05 562.94)"/>
<rect x="787.37" y="546.43" width="2.2" height="2.2" fill="#59A65B" transform="rotate(45 788.47 547.53)"/>
<rect x="785.23" y="571.13" width="2.2" height="2.2" fill="#59A65B" transform="rotate(45 786.33 572.23)"/>
<rect x="786.1" y="562.83" width="2.2" height="2.2" fill="#59A65B" transform="rotate(45 787.2 563.93)"/>
<rect x="787.88" y="565.89" width="2.2" height="2.2" fill="#59A65B" transform="rotate(45 788.98 566.99)"/>
<rect x="787.55" y="550.19" width="2.2" height="2.2" fill="#59A65B" transform="rotate(45 788.65 551.29)"/>
<rect x="784.99" y="576.82" width="2.2" height="2.2" fill="#59A65B" transform="rotate(45 786.09 577.92)"/>
<rect x="789.44" y="548.38" width="2.2" height="2.2" fill="#59A65B" transform="rotate(45 790.54 549.48)"/>
<rect x="790.39" y="584.41" width="2.2" height="2.2" fill="#59A65B" transform="rotate(45 791.49 585.51)"/>
<rect x="787.65" y="563.38" width="2.2" height="2.2" fill="#59A65B" transform="rotate(45 788.75 564.48)"/>
<rect x="787.24" y="549.47" width="2.2" height="2.2" fill="#59A65B" transform="rotate(45 788.34 550.57)"/>
<rect x="786.35" y="547.9" width="2.2" height="2.2" fill="#59A65B" transform="rotate(45 787.45 549)"/>
<rect x="788.7" y="580.52" width="2.2" height="2.2" fill="#59A65B" transform="rotate(45 789.8 581.62)"/>
<rect x="788.21" y="570.82" width="2.2" height="2.2" fill="#59A65B" transform="rotate(45 789.31 571.92)"/>
<rect x="788.6" y="537.29" width="2.2" height="2.2" fill="#59A65B" transform="rotate(45 789.7 538.39)"/>
<rect x="788.8" y="548.87" width="2.2" height="2.2" fill="#59A65B" transform="rotate(45 789.9 549.97)"/>
<rect x="784.59" y="538.78" width="2.2" height="2.2" fill="#59A65B" transform="rotate(45 785.69 539.88)"/>
<rect x="783.7" y="564.44" width="2.2" height="2.2" fill="#59A65B" transform="rotate(45 784.8 565.54)"/>
<rect x="788.88" y="577.7" width="2.2" height="2.2" fill="#59A65B" transform="rotate(45 789.98 578.8)"/>
<rect x="785.17" y="576.11" width="2.2" height="2.2" fill="#59A65B" transform="rotate(45 786.27 577.21)"/>
<rect x="784.06" y="554.2" width="2.2" height="2.2" fill="#59A65B" transform="rotate(45 785.16 555.3)"/>
<rect x="789.08" y="539.34" width="2.2" height="2.2" fill="#59A65B" transform="rotate(45 790.18 540.44)"/>
<rect x="788.49" y="569.46" width="2.2" height="2.2" fill="#59A65B" transform="rotate(45 789.59 570.56)"/>
<rect x="784.2" y="583.26" width="2.2" height="2.2" fill="#59A65B" transform="rotate(45 785.3 584.36)"/>
<rect x="786.31" y="579.02" width="2.2" height="2.2" fill="#59A65B" transform="rotate(45 787.41 580.12)"/>
<rect x="786.02" y="534.32" width="2.2" height="2.2" fill="#59A65B" transform="rotate(45 787.12 535.42)"/>
<rect x="787.87" y="557.65" width="2.2" height="2.2" fill="#59A65B" transform="rotate(45 788.97 558.75)"/>
<rect x="787.87" y="587.47" width="2.2" height="2.2" fill="#59A65B" transform="rotate(45 788.97 588.57)"/>
<rect x="784.8" y="539.45" width="2.2" height="2.2" fill="#59A65B" transform="rotate(45 785.9 540.55)"/>
<rect x="786.09" y="570.35" width="2.2" height="2.2" fill="#59A65B" transform="rotate(45 787.19 571.45)"/>
<rect x="789.7" y="560.78" width="2.2" height="2.2" fill="#59A65B" transform="rotate(45 790.8 561.88)"/>
<rect x="783.77" y="576.8" width="2.2" height="2.2" fill="#59A65B" transform="rotate(45 784.87 577.9)"/>
<rect x="790.4" y="576.55" width="2.2" height="2.2" fill="#59A65B" transform="rotate(45 791.5 577.65)"/>
<rect x="786.32" y="584.64" width="2.2" height="2.2" fill="#59A65B" transform="rotate(45 787.42 585.74)"/>
<rect x="785.58" y="562.61" width="2.2" height="2.2" fill="#59A65B" transform="rotate(45 786.68 563.71)"/>
<rect x="785.44" y="575.22" width="2.2" height="2.2" fill="#59A65B" transform="rotate(45 786.54 576.32)"/>
<rect x="788.21" y="581.08" width="2.2" height="2.2" fill="#59A65B" transform="rotate(45 789.31 582.18)"/>
<rect x="786.35" y="579.07" width="2.2" height="2.2" fill="#59A65B" transform="rotate(45 787.45 580.17)"/>
<rect x="788.75" y="586.67" width="2.2" height="2.2" fill="#59A65B" transform="rotate(45 789.85 587.77)"/>
<rect x="784.66" y="583.56" width="2.2" height="2.2" fill="#59A65B" transform="rotate(45 785.76 584.66)"/>
<rect x="787.88" y="572.02" width="2.2" height="2.2" fill="#59A65B" transform="rotate(45 788.98 573.12)"/>
<rect x="790" y="580.7" width="2.2" height="2.2" fill="#59A65B" transform="rotate(45 791.1 581.8)"/>
<rect x="786.99" y="583.39" width="2.2" height="2.2" fill="#59A65B" transform="rotate(45 788.09 584.49)"/>
<rect x="787.14" y="575.84" width="2.2" height="2.2" fill="#59A65B" transform="rotate(45 788.24 576.94)"/>
<rect x="787.51" y="543.51" width="2.2" height="2.2" fill="#59A65B" transform="rotate(45 788.61 544.61)"/>
<rect x="789.96" y="583.59" width="2.2" height="2.2" fill="#59A65B" transform="rotate(45 791.06 584.69)"/>
<rect x="788.06" y="544.19" width="2.2" height="2.2" fill="#59A65B" transform="rotate(45 789.16 545.29)"/>
<rect x="789.73" y="548.16" width="2.2" height="2.2" fill="#59A65B" transform="rotate(45 790.83 549.26)"/>
<rect x="788.33" y="551.35" width="2.2" height="2.2" fill="#59A65B" transform="rotate(45 789.43 552.45)"/>
<rect x="790.22" y="587.26" width="2.2" height="2.2" fill="#59A65B" transform="rotate(45 791.32 588.36)"/>
<rect x="785.77" y="572.47" width="2.2" height="2.2" fill="#59A65B" transform="rotate(45 786.87 573.57)"/>
<rect x="788.88" y="575.16" width="2.2" height="2.2" fill="#59A65B" transform="rotate(45 789.98 576.26)"/>
<rect x="786.44" y="580.96" width="2.2" height="2.2" fill="#59A65B" transform="rotate(45 787.54 582.06)"/>
<rect x="790.39" y="548.41" width="2.2" height="2.2" fill="#59A65B" transform="rotate(45 791.49 549.51)"/>
<rect x="787.19" y="580.76" width="2.2" height="2.2" fill="#59A65B" transform="rotate(45 788.29 581.86)"/>
<rect x="785.97" y="579.54" width="2.2" height="2.2" fill="#59A65B" transform="rotate(45 787.07 580.64)"/>
<rect x="785.91" y="549.57" width="2.2" height="2.2" fill="#59A65B" transform="rotate(45 787.01 550.67)"/>
<rect x="787.02" y="576.9" width="2.2" height="2.2" fill="#59A65B" transform="rotate(45 788.12 578)"/>
<rect x="787.86" y="584.61" width="2.2" height="2.2" fill="#59A65B" transform="rotate(45 788.96 585.71)"/>
<rect x="787.06" y="570.58" width="2.2" height="2.2" fill="#59A65B" transform="rotate(45 788.16 571.68)"/>
<rect x="788.18" y="576.22" width="2.2" height="2.2" fill="#59A65B" transform="rotate(45 789.28 577.32)"/>
<rect x="789.36" y="582.35" width="2.2" height="2.2" fill="#59A65B" transform="rotate(45 790.46 583.45)"/>
<rect x="784.89" y="566.06" width="2.2" height="2.2" fill="#59A65B" transform="rotate(45 785.99 567.16)"/>
<rect x="790.08" y="583.17" width="2.2" height="2.2" fill="#59A65B" transform="rotate(45 791.18 584.27)"/>
<rect x="784.79" y="558.49" width="2.2" height="2.2" fill="#59A65B" transform="rotate(45 785.89 559.59)"/>
<rect x="784.71" y="583.2" width="2.2" height="2.2" fill="#59A65B" transform="rotate(45 785.81 584.3)"/>
<rect x="785.37" y="567.33" width="2.2" height="2.2" fill="#59A65B" transform="rotate(45 786.47 568.43)"/>
<rect x="790.15" y="584.59" width="2.2" height="2.2" fill="#59A65B" transform="rotate(45 791.25 585.69)"/>
<rect x="784.23" y="561.05" width="2.2" height="2.2" fill="#59A65B" transform="rotate(45 785.33 562.15)"/>
<rect x="787.93" y="554.05" width="2.2" height="2.2" fill="#59A65B" transform="rotate(45 789.03 555.15)"/>
<rect x="786.91" y="550.3" width="2.2" height="2.2" fill="#59A65B" transform="rotate(45 788.01 551.4)"/>
<rect x="786.88" y="547" width="2.2" height="2.2" fill="#59A65B" transform="rotate(45 787.98 548.1)"/>
<rect x="788.3" y="570.76" width="2.2" height="2.2" fill="#59A65B" transform="rotate(45 789.4 571.86)"/>
<rect x="784.51" y="572.25" width="2.2" height="2.2" fill="#59A65B" transform="rotate(45 785.61 573.35)"/>
<rect x="784.51" y="586.41" width="2.2" height="2.2" fill="#59A65B" transform="rotate(45 785.61 587.51)"/>
<rect x="788.41" y="582.03" width="2.2" height="2.2" fill="#59A65B" transform="rotate(45 789.51 583.13)"/>
<rect x="787.88" y="582.84" width="2.2" height="2.2" fill="#59A65B" transform="rotate(45 788.98 583.94)"/>
<rect x="784.4" y="577.93" width="2.2" height="2.2" fill="#59A65B" transform="rotate(45 785.5 579.03)"/>
<rect x="788.2" y="563.59" width="2.2" height="2.2" fill="#59A65B" transform="rotate(45 789.3 564.69)"/>
<rect x="784.65" y="548.4" width="2.2" height="2.2" fill="#59A65B" transform="rotate(45 785.75 549.5)"/>
<rect x="785" y="566.43" width="2.2" height="2.2" fill="#59A65B" transform="rotate(45 786.1 567.53)"/>
<rect x="788.29" y="575.13" width="2.2" height="2.2" fill="#59A65B" transform="rotate(45 789.39 576.23)"/>
<rect x="783.9" y="547.09" width="2.2" height="2.2" fill="#59A65B" transform="rotate(45 785 548.19)"/>
<rect x="789.69" y="568.36" width="2.2" height="2.2" fill="#59A65B" transform="rotate(45 790.79 569.46)"/>
<rect x="785.7" y="573.38" width="2.2" height="2.2" fill="#59A65B" transform="rotate(45 786.8 574.48)"/>
<rect x="790.15" y="561.01" width="2.2" height="2.2" fill="#59A65B" transform="rotate(45 791.25 562.11)"/>
<rect x="787.47" y="558.66" width="2.2" height="2.2" fill="#59A65B" transform="rotate(45 788.57 559.76)"/>
<rect x="785.57" y="551.7" width="2.2" height="2.2" fill="#59A65B" transform="rotate(45 786.67 552.8)"/>
<rect x="786.79" y="575.88" width="2.2" height="2.2" fill="#59A65B" transform="rotate(45 787.89 576.98)"/>
<rect x="790.26" y="572.32" width="2.2" height="2.2" fill="#59A65B" transform="rotate(45 791.36 573.42)"/>
<rect x="785.86" y="572.94" width="2.2" height="2.2" fill="#59A65B" transform="rotate(45 786.96 574.04)"/>
<rect x="788.63" y="567.14" width="2.2" height="2.2" fill="#59A65B" transform="rotate(45 789.73 568.24)"/>
<rect x="790.11" y="572.77" width="2.2" height="2.2" fill="#59A65B" transform="rotate(45 791.21 573.87)"/>
<rect x="786.92" y="541.43" width="2.2" height="2.2" fill="#59A65B" transform="rotate(45 788.02 542.53)"/>
<rect x="790.1" y="501.42" width="2.2" height="2.2" fill="#59A65B" transform="rotate(45 791.2 502.52)"/>
<rect x="787.8" y="509.81" width="2.2" height="2.2" fill="#59A65B" transform="rotate(45 788.9 510.91)"/>
<rect x="786.9" y="515.4" width="2.2" height="2.2" fill="#59A65B" transform="rotate(45 788 516.5)"/>
<rect x="788.1" y="525.66" width="2.2" height="2.2" fill="#59A65B" transform="rotate(45 789.2 526.76)"/>
<polyline points="788.74,514.64 788.78,516.3 788.82,517.96 788.87,519.62 788.94,521.27 789.01,522.93 789.1,524.59 789.21,526.25 789.33,527.91 789.47,529.57 789.63,531.23 789.81,532.89 790.02,534.54 790.25,536.2 790.49,537.86 790.77,539.52 791.06,541.18 791.38,542.84 791.71,544.5 792.07,546.15 792.43,547.81 792.81,549.47 793.19,551.13 793.57,552.79 793.95,554.45 794.31,556.11 794.66,557.76 794.98,559.42 795.28,561.08 795.54,562.74 795.77,564.4 795.95,566.06 796.08,567.72 796.17,569.38 796.2,571.03 796.18,572.69 796.11,574.35 795.99,576.01 795.82,577.67 795.61,579.33 795.36,580.99 795.07,582.64 794.75,584.3 794.41,585.96 794.05,587.62 793.67,589.28 793.29,590.94 792.91,592.6 792.53,594.25 792.17,595.91 791.81,597.57 791.47,599.23 791.15,600.89 790.85,602.55 790.57,604.21 790.31,605.87 790.08,607.52 789.87,609.18 789.68,610.84 789.51,612.5" fill="none" stroke="#59A65B" stroke-width="1.4"/>
<line x1="777.2" y1="571.73" x2="796.2" y2="571.73" stroke="#fff" stroke-width="1"/>
<line x1="818.9" y1="551.92" x2="818.9" y2="589.2" stroke="#8FAADC" stroke-width="1.2"/>
<line x1="810.6" y1="551.92" x2="827.2" y2="551.92" stroke="#8FAADC" stroke-width="1.4"/>
<line x1="810.6" y1="589.2" x2="827.2" y2="589.2" stroke="#8FAADC" stroke-width="1.4"/>
<rect x="810.6" y="568.23" width="16.6" height="16.78" fill="#8FAADC" stroke="none" stroke-width="1"/>
<line x1="810.6" y1="574.52" x2="827.2" y2="574.52" stroke="#fff" stroke-width="1.1"/>
<rect x="836.04" y="569.63" width="2.2" height="2.2" fill="#8FAADC" transform="rotate(45 837.14 570.73)"/>
<rect x="834.22" y="585.74" width="2.2" height="2.2" fill="#8FAADC" transform="rotate(45 835.32 586.84)"/>
<rect x="838.57" y="577.24" width="2.2" height="2.2" fill="#8FAADC" transform="rotate(45 839.67 578.34)"/>
<rect x="838.36" y="551.83" width="2.2" height="2.2" fill="#8FAADC" transform="rotate(45 839.46 552.93)"/>
<rect x="838.68" y="576.04" width="2.2" height="2.2" fill="#8FAADC" transform="rotate(45 839.78 577.14)"/>
<rect x="833.77" y="577.58" width="2.2" height="2.2" fill="#8FAADC" transform="rotate(45 834.87 578.68)"/>
<rect x="836.1" y="579.3" width="2.2" height="2.2" fill="#8FAADC" transform="rotate(45 837.2 580.4)"/>
<rect x="840.14" y="567.22" width="2.2" height="2.2" fill="#8FAADC" transform="rotate(45 841.24 568.32)"/>
<rect x="838.24" y="571.44" width="2.2" height="2.2" fill="#8FAADC" transform="rotate(45 839.34 572.54)"/>
<rect x="834.29" y="577.69" width="2.2" height="2.2" fill="#8FAADC" transform="rotate(45 835.39 578.79)"/>
<rect x="837.79" y="575.07" width="2.2" height="2.2" fill="#8FAADC" transform="rotate(45 838.89 576.17)"/>
<rect x="836.18" y="585.49" width="2.2" height="2.2" fill="#8FAADC" transform="rotate(45 837.28 586.59)"/>
<rect x="835.17" y="581.17" width="2.2" height="2.2" fill="#8FAADC" transform="rotate(45 836.27 582.27)"/>
<rect x="834.53" y="584.02" width="2.2" height="2.2" fill="#8FAADC" transform="rotate(45 835.63 585.12)"/>
<rect x="833.99" y="578.65" width="2.2" height="2.2" fill="#8FAADC" transform="rotate(45 835.09 579.75)"/>
<rect x="834.33" y="586.67" width="2.2" height="2.2" fill="#8FAADC" transform="rotate(45 835.43 587.77)"/>
<rect x="840.4" y="561.2" width="2.2" height="2.2" fill="#8FAADC" transform="rotate(45 841.5 562.3)"/>
<rect x="836.34" y="570.94" width="2.2" height="2.2" fill="#8FAADC" transform="rotate(45 837.44 572.04)"/>
<rect x="836.48" y="562.29" width="2.2" height="2.2" fill="#8FAADC" transform="rotate(45 837.58 563.39)"/>
<rect x="838.57" y="569.13" width="2.2" height="2.2" fill="#8FAADC" transform="rotate(45 839.67 570.23)"/>
<rect x="837.86" y="551.6" width="2.2" height="2.2" fill="#8FAADC" transform="rotate(45 838.96 552.7)"/>
<rect x="834.56" y="573.06" width="2.2" height="2.2" fill="#8FAADC" transform="rotate(45 835.66 574.16)"/>
<rect x="837.93" y="571.31" width="2.2" height="2.2" fill="#8FAADC" transform="rotate(45 839.03 572.41)"/>
<rect x="836.33" y="564.18" width="2.2" height="2.2" fill="#8FAADC" transform="rotate(45 837.43 565.28)"/>
<rect x="835.08" y="570.23" width="2.2" height="2.2" fill="#8FAADC" transform="rotate(45 836.18 571.33)"/>
<rect x="836.13" y="576.43" width="2.2" height="2.2" fill="#8FAADC" transform="rotate(45 837.23 577.53)"/>
<rect x="839.27" y="551.79" width="2.2" height="2.2" fill="#8FAADC" transform="rotate(45 840.37 552.89)"/>
<rect x="837.08" y="568.27" width="2.2" height="2.2" fill="#8FAADC" transform="rotate(45 838.18 569.37)"/>
<rect x="833.98" y="568.79" width="2.2" height="2.2" fill="#8FAADC" transform="rotate(45 835.08 569.89)"/>
<rect x="838.43" y="567.83" width="2.2" height="2.2" fill="#8FAADC" transform="rotate(45 839.53 568.93)"/>
<rect x="833.66" y="568.21" width="2.2" height="2.2" fill="#8FAADC" transform="rotate(45 834.76 569.31)"/>
<rect x="840.1" y="576" width="2.2" height="2.2" fill="#8FAADC" transform="rotate(45 841.2 577.1)"/>
<rect x="836.18" y="561.45" width="2.2" height="2.2" fill="#8FAADC" transform="rotate(45 837.28 562.55)"/>
<rect x="833.63" y="550.39" width="2.2" height="2.2" fill="#8FAADC" transform="rotate(45 834.73 551.49)"/>
<rect x="837.46" y="564.79" width="2.2" height="2.2" fill="#8FAADC" transform="rotate(45 838.56 565.89)"/>
<rect x="836.79" y="581.97" width="2.2" height="2.2" fill="#8FAADC" transform="rotate(45 837.89 583.07)"/>
<rect x="836.51" y="585.83" width="2.2" height="2.2" fill="#8FAADC" transform="rotate(45 837.61 586.93)"/>
<rect x="837.24" y="577.41" width="2.2" height="2.2" fill="#8FAADC" transform="rotate(45 838.34 578.51)"/>
<rect x="836.33" y="578.76" width="2.2" height="2.2" fill="#8FAADC" transform="rotate(45 837.43 579.86)"/>
<rect x="837.74" y="578.81" width="2.2" height="2.2" fill="#8FAADC" transform="rotate(45 838.84 579.91)"/>
<rect x="835.85" y="561.16" width="2.2" height="2.2" fill="#8FAADC" transform="rotate(45 836.95 562.26)"/>
<rect x="838.08" y="558.77" width="2.2" height="2.2" fill="#8FAADC" transform="rotate(45 839.18 559.87)"/>
<rect x="836.11" y="587.25" width="2.2" height="2.2" fill="#8FAADC" transform="rotate(45 837.21 588.35)"/>
<rect x="838.06" y="578.88" width="2.2" height="2.2" fill="#8FAADC" transform="rotate(45 839.16 579.98)"/>
<rect x="837.21" y="552.4" width="2.2" height="2.2" fill="#8FAADC" transform="rotate(45 838.31 553.5)"/>
<rect x="839.37" y="564.47" width="2.2" height="2.2" fill="#8FAADC" transform="rotate(45 840.47 565.57)"/>
<rect x="838.3" y="568.15" width="2.2" height="2.2" fill="#8FAADC" transform="rotate(45 839.4 569.25)"/>
<rect x="837.54" y="582.62" width="2.2" height="2.2" fill="#8FAADC" transform="rotate(45 838.64 583.72)"/>
<rect x="836.05" y="569.05" width="2.2" height="2.2" fill="#8FAADC" transform="rotate(45 837.15 570.15)"/>
<rect x="835.23" y="584.94" width="2.2" height="2.2" fill="#8FAADC" transform="rotate(45 836.33 586.04)"/>
<rect x="835.15" y="583.65" width="2.2" height="2.2" fill="#8FAADC" transform="rotate(45 836.25 584.75)"/>
<rect x="840.19" y="568.18" width="2.2" height="2.2" fill="#8FAADC" transform="rotate(45 841.29 569.28)"/>
<rect x="835.1" y="565.01" width="2.2" height="2.2" fill="#8FAADC" transform="rotate(45 836.2 566.11)"/>
<rect x="838.02" y="556.88" width="2.2" height="2.2" fill="#8FAADC" transform="rotate(45 839.12 557.98)"/>
<rect x="838.42" y="563.73" width="2.2" height="2.2" fill="#8FAADC" transform="rotate(45 839.52 564.83)"/>
<rect x="835.14" y="551.32" width="2.2" height="2.2" fill="#8FAADC" transform="rotate(45 836.24 552.42)"/>
<rect x="838.34" y="585.17" width="2.2" height="2.2" fill="#8FAADC" transform="rotate(45 839.44 586.27)"/>
<rect x="838.6" y="567.5" width="2.2" height="2.2" fill="#8FAADC" transform="rotate(45 839.7 568.6)"/>
<rect x="839.39" y="555.74" width="2.2" height="2.2" fill="#8FAADC" transform="rotate(45 840.49 556.84)"/>
<rect x="838.22" y="583.23" width="2.2" height="2.2" fill="#8FAADC" transform="rotate(45 839.32 584.33)"/>
<rect x="837.02" y="569.92" width="2.2" height="2.2" fill="#8FAADC" transform="rotate(45 838.12 571.02)"/>
<rect x="837.05" y="580.34" width="2.2" height="2.2" fill="#8FAADC" transform="rotate(45 838.15 581.44)"/>
<rect x="837.86" y="552.74" width="2.2" height="2.2" fill="#8FAADC" transform="rotate(45 838.96 553.84)"/>
<rect x="840.13" y="571.95" width="2.2" height="2.2" fill="#8FAADC" transform="rotate(45 841.23 573.05)"/>
<rect x="838.26" y="586.72" width="2.2" height="2.2" fill="#8FAADC" transform="rotate(45 839.36 587.82)"/>
<rect x="837.3" y="574.11" width="2.2" height="2.2" fill="#8FAADC" transform="rotate(45 838.4 575.21)"/>
<rect x="836.83" y="562.66" width="2.2" height="2.2" fill="#8FAADC" transform="rotate(45 837.93 563.76)"/>
<rect x="834.23" y="574.49" width="2.2" height="2.2" fill="#8FAADC" transform="rotate(45 835.33 575.59)"/>
<rect x="836.35" y="587.43" width="2.2" height="2.2" fill="#8FAADC" transform="rotate(45 837.45 588.53)"/>
<rect x="833.92" y="557.23" width="2.2" height="2.2" fill="#8FAADC" transform="rotate(45 835.02 558.33)"/>
<rect x="836.73" y="552.47" width="2.2" height="2.2" fill="#8FAADC" transform="rotate(45 837.83 553.57)"/>
<rect x="834.42" y="566.29" width="2.2" height="2.2" fill="#8FAADC" transform="rotate(45 835.52 567.39)"/>
<rect x="834.2" y="550.34" width="2.2" height="2.2" fill="#8FAADC" transform="rotate(45 835.3 551.44)"/>
<rect x="834.97" y="551.24" width="2.2" height="2.2" fill="#8FAADC" transform="rotate(45 836.07 552.34)"/>
<rect x="836.01" y="553.84" width="2.2" height="2.2" fill="#8FAADC" transform="rotate(45 837.11 554.94)"/>
<rect x="836.1" y="556.11" width="2.2" height="2.2" fill="#8FAADC" transform="rotate(45 837.2 557.21)"/>
<rect x="838.61" y="557.39" width="2.2" height="2.2" fill="#8FAADC" transform="rotate(45 839.71 558.49)"/>
<rect x="833.68" y="580.4" width="2.2" height="2.2" fill="#8FAADC" transform="rotate(45 834.78 581.5)"/>
<rect x="837.09" y="572.89" width="2.2" height="2.2" fill="#8FAADC" transform="rotate(45 838.19 573.99)"/>
<rect x="837.17" y="561.12" width="2.2" height="2.2" fill="#8FAADC" transform="rotate(45 838.27 562.22)"/>
<rect x="839.15" y="583.58" width="2.2" height="2.2" fill="#8FAADC" transform="rotate(45 840.25 584.68)"/>
<rect x="836" y="558.54" width="2.2" height="2.2" fill="#8FAADC" transform="rotate(45 837.1 559.64)"/>
<rect x="837.7" y="580.93" width="2.2" height="2.2" fill="#8FAADC" transform="rotate(45 838.8 582.03)"/>
<rect x="833.83" y="561.71" width="2.2" height="2.2" fill="#8FAADC" transform="rotate(45 834.93 562.81)"/>
<rect x="836.01" y="562.8" width="2.2" height="2.2" fill="#8FAADC" transform="rotate(45 837.11 563.9)"/>
<rect x="838.32" y="578.62" width="2.2" height="2.2" fill="#8FAADC" transform="rotate(45 839.42 579.72)"/>
<rect x="838.98" y="571.7" width="2.2" height="2.2" fill="#8FAADC" transform="rotate(45 840.08 572.8)"/>
<rect x="836.92" y="566.35" width="2.2" height="2.2" fill="#8FAADC" transform="rotate(45 838.02 567.45)"/>
<rect x="834.62" y="561.85" width="2.2" height="2.2" fill="#8FAADC" transform="rotate(45 835.72 562.95)"/>
<rect x="839.93" y="567.17" width="2.2" height="2.2" fill="#8FAADC" transform="rotate(45 841.03 568.27)"/>
<rect x="839.29" y="556.43" width="2.2" height="2.2" fill="#8FAADC" transform="rotate(45 840.39 557.53)"/>
<rect x="837.6" y="587.4" width="2.2" height="2.2" fill="#8FAADC" transform="rotate(45 838.7 588.5)"/>
<rect x="838.78" y="572.58" width="2.2" height="2.2" fill="#8FAADC" transform="rotate(45 839.88 573.68)"/>
<rect x="836.62" y="578.08" width="2.2" height="2.2" fill="#8FAADC" transform="rotate(45 837.72 579.18)"/>
<rect x="836.89" y="569.94" width="2.2" height="2.2" fill="#8FAADC" transform="rotate(45 837.99 571.04)"/>
<rect x="833.82" y="564.81" width="2.2" height="2.2" fill="#8FAADC" transform="rotate(45 834.92 565.91)"/>
<rect x="837.82" y="569.34" width="2.2" height="2.2" fill="#8FAADC" transform="rotate(45 838.92 570.44)"/>
<rect x="837.98" y="577.66" width="2.2" height="2.2" fill="#8FAADC" transform="rotate(45 839.08 578.76)"/>
<rect x="840.18" y="579.77" width="2.2" height="2.2" fill="#8FAADC" transform="rotate(45 841.28 580.87)"/>
<rect x="838.31" y="586.32" width="2.2" height="2.2" fill="#8FAADC" transform="rotate(45 839.41 587.42)"/>
<rect x="840.11" y="583.01" width="2.2" height="2.2" fill="#8FAADC" transform="rotate(45 841.21 584.11)"/>
<rect x="837.12" y="568.97" width="2.2" height="2.2" fill="#8FAADC" transform="rotate(45 838.22 570.07)"/>
<rect x="835.72" y="584.59" width="2.2" height="2.2" fill="#8FAADC" transform="rotate(45 836.82 585.69)"/>
<rect x="834.49" y="558.03" width="2.2" height="2.2" fill="#8FAADC" transform="rotate(45 835.59 559.13)"/>
<rect x="839.17" y="580" width="2.2" height="2.2" fill="#8FAADC" transform="rotate(45 840.27 581.1)"/>
<rect x="838.55" y="579.96" width="2.2" height="2.2" fill="#8FAADC" transform="rotate(45 839.65 581.06)"/>
<rect x="839.97" y="580.95" width="2.2" height="2.2" fill="#8FAADC" transform="rotate(45 841.07 582.05)"/>
<rect x="835.74" y="557.41" width="2.2" height="2.2" fill="#8FAADC" transform="rotate(45 836.84 558.51)"/>
<rect x="835.14" y="581.53" width="2.2" height="2.2" fill="#8FAADC" transform="rotate(45 836.24 582.63)"/>
<rect x="835.29" y="557.3" width="2.2" height="2.2" fill="#8FAADC" transform="rotate(45 836.39 558.4)"/>
<rect x="837.89" y="557.47" width="2.2" height="2.2" fill="#8FAADC" transform="rotate(45 838.99 558.57)"/>
<rect x="838.54" y="587.26" width="2.2" height="2.2" fill="#8FAADC" transform="rotate(45 839.64 588.36)"/>
<rect x="834.03" y="563.1" width="2.2" height="2.2" fill="#8FAADC" transform="rotate(45 835.13 564.2)"/>
<rect x="840.34" y="560.6" width="2.2" height="2.2" fill="#8FAADC" transform="rotate(45 841.44 561.7)"/>
<rect x="837.57" y="584.98" width="2.2" height="2.2" fill="#8FAADC" transform="rotate(45 838.67 586.08)"/>
<rect x="834.55" y="556.77" width="2.2" height="2.2" fill="#8FAADC" transform="rotate(45 835.65 557.87)"/>
<rect x="839.74" y="583.33" width="2.2" height="2.2" fill="#8FAADC" transform="rotate(45 840.84 584.43)"/>
<rect x="834.25" y="571.33" width="2.2" height="2.2" fill="#8FAADC" transform="rotate(45 835.35 572.43)"/>
<rect x="837.49" y="567.41" width="2.2" height="2.2" fill="#8FAADC" transform="rotate(45 838.59 568.51)"/>
<rect x="834.27" y="557.1" width="2.2" height="2.2" fill="#8FAADC" transform="rotate(45 835.37 558.2)"/>
<rect x="835.22" y="565.39" width="2.2" height="2.2" fill="#8FAADC" transform="rotate(45 836.32 566.49)"/>
<rect x="839.02" y="577.36" width="2.2" height="2.2" fill="#8FAADC" transform="rotate(45 840.12 578.46)"/>
<rect x="840.15" y="568.73" width="2.2" height="2.2" fill="#8FAADC" transform="rotate(45 841.25 569.83)"/>
<rect x="835.92" y="567.88" width="2.2" height="2.2" fill="#8FAADC" transform="rotate(45 837.02 568.98)"/>
<rect x="835.27" y="584.12" width="2.2" height="2.2" fill="#8FAADC" transform="rotate(45 836.37 585.22)"/>
<rect x="838.47" y="555.56" width="2.2" height="2.2" fill="#8FAADC" transform="rotate(45 839.57 556.66)"/>
<rect x="838.17" y="584.63" width="2.2" height="2.2" fill="#8FAADC" transform="rotate(45 839.27 585.73)"/>
<rect x="839.61" y="551.78" width="2.2" height="2.2" fill="#8FAADC" transform="rotate(45 840.71 552.88)"/>
<rect x="839.68" y="568.79" width="2.2" height="2.2" fill="#8FAADC" transform="rotate(45 840.78 569.89)"/>
<rect x="839.1" y="585.89" width="2.2" height="2.2" fill="#8FAADC" transform="rotate(45 840.2 586.99)"/>
<rect x="835" y="563.7" width="2.2" height="2.2" fill="#8FAADC" transform="rotate(45 836.1 564.8)"/>
<rect x="839.64" y="572.67" width="2.2" height="2.2" fill="#8FAADC" transform="rotate(45 840.74 573.77)"/>
<rect x="836.29" y="579.92" width="2.2" height="2.2" fill="#8FAADC" transform="rotate(45 837.39 581.02)"/>
<rect x="838.85" y="586.29" width="2.2" height="2.2" fill="#8FAADC" transform="rotate(45 839.95 587.39)"/>
<rect x="834.58" y="554.02" width="2.2" height="2.2" fill="#8FAADC" transform="rotate(45 835.68 555.12)"/>
<rect x="838.5" y="581.25" width="2.2" height="2.2" fill="#8FAADC" transform="rotate(45 839.6 582.35)"/>
<rect x="838.08" y="572.76" width="2.2" height="2.2" fill="#8FAADC" transform="rotate(45 839.18 573.86)"/>
<rect x="840.17" y="552.46" width="2.2" height="2.2" fill="#8FAADC" transform="rotate(45 841.27 553.56)"/>
<rect x="839.89" y="563.55" width="2.2" height="2.2" fill="#8FAADC" transform="rotate(45 840.99 564.65)"/>
<rect x="837.58" y="568.04" width="2.2" height="2.2" fill="#8FAADC" transform="rotate(45 838.68 569.14)"/>
<circle cx="834.6" cy="531.18" r="1.7" fill="#8FAADC"/>
<circle cx="839.2" cy="530.25" r="1.7" fill="#8FAADC"/>
<rect x="835.5" y="535.91" width="2.2" height="2.2" fill="#8FAADC" transform="rotate(45 836.6 537.01)"/>
<rect x="837.5" y="533.58" width="2.2" height="2.2" fill="#8FAADC" transform="rotate(45 838.6 534.68)"/>
<polyline points="838.8,531.88 838.85,533.25 838.91,534.61 838.99,535.98 839.09,537.35 839.2,538.71 839.33,540.08 839.48,541.45 839.65,542.81 839.85,544.18 840.08,545.55 840.33,546.91 840.61,548.28 840.92,549.65 841.25,551.01 841.61,552.38 841.99,553.74 842.39,555.11 842.8,556.48 843.22,557.84 843.64,559.21 844.05,560.58 844.46,561.94 844.84,563.31 845.19,564.68 845.52,566.04 845.79,567.41 846.03,568.77 846.21,570.14 846.33,571.51 846.39,572.87 846.39,574.24 846.33,575.61 846.21,576.97 846.04,578.34 845.81,579.71 845.53,581.07 845.21,582.44 844.86,583.81 844.47,585.17 844.07,586.54 843.66,587.9 843.24,589.27 842.82,590.64 842.41,592 842.01,593.37 841.63,594.74 841.27,596.1 840.94,597.47 840.63,598.84 840.34,600.2 840.09,601.57 839.86,602.94 839.66,604.3 839.49,605.67 839.33,607.03 839.2,608.4 839.09,609.77 839,611.13 838.92,612.5" fill="none" stroke="#8FAADC" stroke-width="1.4"/>
<line x1="827.2" y1="574.52" x2="846.4" y2="574.52" stroke="#fff" stroke-width="1"/>
<rect x="653.5" y="262" width="200" height="362.7" fill="none" stroke="#111" stroke-width="1.1"/>
<line x1="650.1" y1="589.2" x2="653.5" y2="589.2" stroke="#222" stroke-width="0.9"/>
<text x="647.3" y="593.6" font-size="12.4" fill="#111" text-anchor="end">0.0</text>
<line x1="650.1" y1="496" x2="653.5" y2="496" stroke="#222" stroke-width="0.9"/>
<text x="647.3" y="500.4" font-size="12.4" fill="#111" text-anchor="end">0.2</text>
<line x1="650.1" y1="402.8" x2="653.5" y2="402.8" stroke="#222" stroke-width="0.9"/>
<text x="647.3" y="407.2" font-size="12.4" fill="#111" text-anchor="end">0.4</text>
<line x1="650.1" y1="309.6" x2="653.5" y2="309.6" stroke="#222" stroke-width="0.9"/>
<text x="647.3" y="314" font-size="12.4" fill="#111" text-anchor="end">0.6</text>
<line x1="678.4" y1="624.7" x2="678.4" y2="628.3" stroke="#222" stroke-width="0.9"/>
<text x="687.4" y="642.2" font-size="15.4" fill="#111" text-anchor="end" transform="rotate(-29 687.4 642.2)">Missing N</text>
<line x1="728.4" y1="624.7" x2="728.4" y2="628.3" stroke="#222" stroke-width="0.9"/>
<text x="737.4" y="642.2" font-size="15.4" fill="#111" text-anchor="end" transform="rotate(-29 737.4 642.2)">Misplaced N</text>
<line x1="778.4" y1="624.7" x2="778.4" y2="628.3" stroke="#222" stroke-width="0.9"/>
<text x="787.4" y="642.2" font-size="15.4" fill="#111" text-anchor="end" transform="rotate(-29 787.4 642.2)">Distance</text>
<line x1="828.4" y1="624.7" x2="828.4" y2="628.3" stroke="#222" stroke-width="0.9"/>
<text x="837.4" y="642.2" font-size="15.4" fill="#111" text-anchor="end" transform="rotate(-29 837.4 642.2)">Groups</text>
<text x="753.5" y="250.8" font-size="15.4" fill="#111" text-anchor="middle">Features</text>
<text x="622.2" y="443.4" font-size="15.4" fill="#111" text-anchor="middle" transform="rotate(-90 622.2 443.4)">Feature importance</text>
<text x="606.4" y="247.6" font-size="16.5" fill="#000" text-anchor="start">(f)</text>
<line x1="86.7" y1="464.3" x2="86.7" y2="640" stroke="#c0c0c0" stroke-width="1.3"/>
<line x1="116.7" y1="464.3" x2="116.7" y2="640" stroke="#c0c0c0" stroke-width="1.3"/>
<line x1="146.7" y1="464.3" x2="146.7" y2="640" stroke="#c0c0c0" stroke-width="1.3"/>
<line x1="176.7" y1="464.3" x2="176.7" y2="640" stroke="#c0c0c0" stroke-width="1.3"/>
<line x1="206.7" y1="464.3" x2="206.7" y2="640" stroke="#c0c0c0" stroke-width="1.3"/>
<line x1="236.7" y1="464.3" x2="236.7" y2="640" stroke="#c0c0c0" stroke-width="1.3"/>
<line x1="63.7" y1="478" x2="256.8" y2="478" stroke="#b8b8b8" stroke-width="1.8"/>
<line x1="63.7" y1="505" x2="256.8" y2="505" stroke="#b8b8b8" stroke-width="1.8"/>
<line x1="63.7" y1="532" x2="256.8" y2="532" stroke="#b8b8b8" stroke-width="1.8"/>
<line x1="63.7" y1="559" x2="256.8" y2="559" stroke="#b8b8b8" stroke-width="1.8"/>
<line x1="63.7" y1="586" x2="256.8" y2="586" stroke="#b8b8b8" stroke-width="1.8"/>
<line x1="63.7" y1="613" x2="256.8" y2="613" stroke="#b8b8b8" stroke-width="1.8"/>
<polyline points="73.51,486.32 77.32,486.32 85.97,498.1 89.44,505.37 93.77,523.2 98.1,529.26 101.56,537.92 105.02,538.79 107.62,546.58 111.08,561.3 117.14,590.22 121.47,602.34 125.8,609.26 129.26,618.79 132.38,622.25 133.59,609.26 136.19,571.17 138.79,551.77 142.77,551.77 144.85,562.51 148.31,574.63 153.51,575.5 156.45,589.35 159.57,575.5 163.55,571.17 167.36,570.82 169.96,566.32 172.21,605.8 173.42,627.45 174.63,612.73 177.4,585.02 180.35,598.87 183.81,594.55 187.62,599.22 191.6,591.95 195.06,578.1 198.53,571.17 205.11,570.82 208.05,560.78 211.56,524.94 215.37,528.4 218.48,518.87 221.95,496.36 228.87,486.32 232.68,500.17 236.67,491.17 239.78,486.32" fill="none" stroke="#4472C4" stroke-width="1.15" stroke-linejoin="round"/>
<polyline points="73.51,558.7 80.43,569.09 84.24,570.3 87.71,575.5 90.82,585.37 100.69,569.44 104.16,573.77 107.62,590.22 115.41,590.22 121.47,574.63 128.92,574.29 131.86,511.95 135.67,480.43 139.65,536.19 141.39,579.83 146.06,585.37 149.18,564.24 151.77,572.9 159.91,538.79 163.38,552.64 167.01,553.51 170.82,621.39 177.4,527.53 181.21,569.09 184.68,559.57 188.14,558.7 191.95,536.19 194.72,532.73 201.65,558.7 208.57,506.75 215.37,552.64 218.83,522.34 221.95,529.26 228.87,569.09 232.34,562.16 236.15,543.98 239.78,548.31" fill="none" stroke="#DB4B3F" stroke-width="1.25" stroke-linejoin="round"/>
<line x1="141.6" y1="464.3" x2="141.6" y2="640" stroke="#111" stroke-width="1.2" stroke-dasharray="18.5 3.2 2.6 3.2" stroke-dashoffset="6.5"/>
<line x1="63.7" y1="464.3" x2="256.8" y2="464.3" stroke="#000" stroke-width="1.3"/>
<line x1="63.7" y1="640" x2="256.8" y2="640" stroke="#000" stroke-width="1.6"/>
<line x1="63.7" y1="464.3" x2="63.7" y2="640" stroke="#4472C4" stroke-width="1.2"/>
<line x1="256.8" y1="464.3" x2="256.8" y2="640.8" stroke="#DB4B3F" stroke-width="1.2"/>
<line x1="60.3" y1="481.8" x2="63.7" y2="481.8" stroke="#4472C4" stroke-width="1"/>
<text x="57.5" y="486.2" font-size="12.4" fill="#4472C4" text-anchor="end">100</text>
<line x1="61.7" y1="499.25" x2="63.7" y2="499.25" stroke="#4472C4" stroke-width="0.8"/>
<line x1="60.3" y1="516.7" x2="63.7" y2="516.7" stroke="#4472C4" stroke-width="1"/>
<text x="57.5" y="521.1" font-size="12.4" fill="#4472C4" text-anchor="end">95</text>
<line x1="61.7" y1="534.15" x2="63.7" y2="534.15" stroke="#4472C4" stroke-width="0.8"/>
<line x1="60.3" y1="551.6" x2="63.7" y2="551.6" stroke="#4472C4" stroke-width="1"/>
<text x="57.5" y="556" font-size="12.4" fill="#4472C4" text-anchor="end">90</text>
<line x1="61.7" y1="569.05" x2="63.7" y2="569.05" stroke="#4472C4" stroke-width="0.8"/>
<line x1="60.3" y1="586.5" x2="63.7" y2="586.5" stroke="#4472C4" stroke-width="1"/>
<text x="57.5" y="590.9" font-size="12.4" fill="#4472C4" text-anchor="end">85</text>
<line x1="61.7" y1="603.95" x2="63.7" y2="603.95" stroke="#4472C4" stroke-width="0.8"/>
<line x1="60.3" y1="621.4" x2="63.7" y2="621.4" stroke="#4472C4" stroke-width="1"/>
<text x="57.5" y="625.8" font-size="12.4" fill="#4472C4" text-anchor="end">80</text>
<line x1="256.8" y1="478" x2="260.2" y2="478" stroke="#DB4B3F" stroke-width="1"/>
<text x="263.4" y="482.4" font-size="12.4" fill="#DB4B3F" text-anchor="start">1.5</text>
<line x1="256.8" y1="505" x2="260.2" y2="505" stroke="#DB4B3F" stroke-width="1"/>
<text x="263.4" y="509.4" font-size="12.4" fill="#DB4B3F" text-anchor="start">1.0</text>
<line x1="256.8" y1="532" x2="260.2" y2="532" stroke="#DB4B3F" stroke-width="1"/>
<text x="263.4" y="536.4" font-size="12.4" fill="#DB4B3F" text-anchor="start">0.5</text>
<line x1="256.8" y1="559" x2="260.2" y2="559" stroke="#DB4B3F" stroke-width="1"/>
<text x="263.4" y="563.4" font-size="12.4" fill="#DB4B3F" text-anchor="start">0.0</text>
<line x1="256.8" y1="586" x2="260.2" y2="586" stroke="#DB4B3F" stroke-width="1"/>
<text x="263.4" y="590.4" font-size="12.4" fill="#DB4B3F" text-anchor="start">-0.5</text>
<line x1="256.8" y1="613" x2="260.2" y2="613" stroke="#DB4B3F" stroke-width="1"/>
<text x="263.4" y="617.4" font-size="12.4" fill="#DB4B3F" text-anchor="start">-1.0</text>
<line x1="256.8" y1="640" x2="260.2" y2="640" stroke="#DB4B3F" stroke-width="1"/>
<text x="263.4" y="644.4" font-size="12.4" fill="#DB4B3F" text-anchor="start">-1.5</text>
<line x1="86.7" y1="640" x2="86.7" y2="643.4" stroke="#000" stroke-width="1"/>
<text x="85.5" y="657" font-size="12.4" fill="#111" text-anchor="middle">-3.6</text>
<line x1="116.7" y1="640" x2="116.7" y2="643.4" stroke="#000" stroke-width="1"/>
<text x="115.5" y="657" font-size="12.4" fill="#111" text-anchor="middle">-3.3</text>
<line x1="146.7" y1="640" x2="146.7" y2="643.4" stroke="#000" stroke-width="1"/>
<text x="145.5" y="657" font-size="12.4" fill="#111" text-anchor="middle">-3.0</text>
<line x1="176.7" y1="640" x2="176.7" y2="643.4" stroke="#000" stroke-width="1"/>
<text x="175.5" y="657" font-size="12.4" fill="#111" text-anchor="middle">-2.7</text>
<line x1="206.7" y1="640" x2="206.7" y2="643.4" stroke="#000" stroke-width="1"/>
<text x="205.5" y="657" font-size="12.4" fill="#111" text-anchor="middle">-2.4</text>
<line x1="236.7" y1="640" x2="236.7" y2="643.4" stroke="#000" stroke-width="1"/>
<text x="235.5" y="657" font-size="12.4" fill="#111" text-anchor="middle">-2.1</text>
<text x="160.6" y="673.4" font-size="14.6" fill="#111" text-anchor="middle">Threshold (eV)</text>
<text x="28.4" y="562.6" font-size="14" fill="#111" text-anchor="middle" transform="rotate(-90 28.4 562.6)">Accuracy (%)</text>
<text x="313.6" y="557" font-size="16.6" fill="#111" text-anchor="middle" transform="rotate(-90 313.6 557)">1st derivative</text>
<text x="12" y="469" font-size="16.5" fill="#000" text-anchor="start">(g)</text>
<rect x="355.5" y="464.4" width="188.5" height="176.6" fill="#EECEE3" stroke="none" stroke-width="1"/>
<path d="M355.48,549.26 C355.85,546.68 356.65,543.96 358.29,542.23 C359.93,540.49 362.74,539.08 365.32,538.85 C367.9,538.61 370.95,539.32 373.76,540.82 C376.58,542.32 379.16,545.04 382.21,547.85 C385.25,550.67 388.3,554.65 392.05,557.7 C395.81,560.75 399.79,564.03 404.72,566.14 C409.64,568.25 416.44,568.96 421.6,570.36 C426.76,571.77 431.68,572.47 435.67,574.58 C439.65,576.69 442.7,579.74 445.51,583.02 C448.33,586.31 450.67,590.29 452.55,594.28 C454.43,598.27 455.93,603.42 456.77,606.94 C457.61,610.46 458.08,612.8 457.61,615.38 C457.15,617.96 455.97,620.68 453.96,622.42 C451.94,624.15 448.56,625.65 445.51,625.79 C442.47,625.93 439.18,625 435.67,623.26 C432.15,621.53 428.16,618.57 424.41,615.38 C420.66,612.19 416.67,607.88 413.16,604.13 C409.64,600.38 406.36,596.62 403.31,592.87 C400.26,589.12 397.68,584.67 394.87,581.62 C392.05,578.57 389.47,576.22 386.43,574.58 C383.38,572.94 379.86,572.57 376.58,571.77 C373.3,570.97 369.54,570.97 366.73,569.8 C363.92,568.63 361.48,566.75 359.7,564.74 C357.91,562.72 356.74,560.28 356.04,557.7 C355.33,555.12 355.1,551.84 355.48,549.26Z" fill="#D99DB6"/>
<line x1="378.96" y1="464.4" x2="378.96" y2="641" stroke="#b9aeb4" stroke-width="1"/>
<line x1="414" y1="464.4" x2="414" y2="641" stroke="#b9aeb4" stroke-width="1"/>
<line x1="449.04" y1="464.4" x2="449.04" y2="641" stroke="#b9aeb4" stroke-width="1"/>
<line x1="484.08" y1="464.4" x2="484.08" y2="641" stroke="#b9aeb4" stroke-width="1"/>
<line x1="519.12" y1="464.4" x2="519.12" y2="641" stroke="#b9aeb4" stroke-width="1"/>
<line x1="355.5" y1="639.19" x2="544" y2="639.19" stroke="#b9aeb4" stroke-width="1"/>
<line x1="355.5" y1="612.26" x2="544" y2="612.26" stroke="#b9aeb4" stroke-width="1"/>
<line x1="355.5" y1="585.33" x2="544" y2="585.33" stroke="#b9aeb4" stroke-width="1"/>
<line x1="355.5" y1="558.4" x2="544" y2="558.4" stroke="#b9aeb4" stroke-width="1"/>
<line x1="355.5" y1="531.47" x2="544" y2="531.47" stroke="#b9aeb4" stroke-width="1"/>
<line x1="355.5" y1="504.54" x2="544" y2="504.54" stroke="#b9aeb4" stroke-width="1"/>
<line x1="355.5" y1="477.61" x2="544" y2="477.61" stroke="#b9aeb4" stroke-width="1"/>
<circle cx="393.51" cy="490.54" r="1.75" fill="#F3DBEA" stroke="#111" stroke-width="0.9"/>
<circle cx="392.41" cy="495.91" r="1.75" fill="#F3DBEA" stroke="#111" stroke-width="0.9"/>
<circle cx="391.41" cy="501.36" r="1.75" fill="#F3DBEA" stroke="#111" stroke-width="0.9"/>
<circle cx="402.3" cy="502.86" r="1.75" fill="#F3DBEA" stroke="#111" stroke-width="0.9"/>
<circle cx="401.2" cy="508.23" r="1.75" fill="#F3DBEA" stroke="#111" stroke-width="0.9"/>
<circle cx="410.48" cy="498.72" r="1.75" fill="#F3DBEA" stroke="#111" stroke-width="0.9"/>
<circle cx="413.78" cy="501.98" r="1.75" fill="#F3DBEA" stroke="#111" stroke-width="0.9"/>
<circle cx="427.56" cy="506.82" r="1.75" fill="#F3DBEA" stroke="#111" stroke-width="0.9"/>
<circle cx="419.37" cy="510.78" r="1.75" fill="#F3DBEA" stroke="#111" stroke-width="0.9"/>
<circle cx="411.28" cy="515" r="1.75" fill="#F3DBEA" stroke="#111" stroke-width="0.9"/>
<circle cx="444.53" cy="514.74" r="1.75" fill="#F3DBEA" stroke="#111" stroke-width="0.9"/>
<circle cx="436.44" cy="518.96" r="1.75" fill="#F3DBEA" stroke="#111" stroke-width="0.9"/>
<circle cx="428.26" cy="523.09" r="1.75" fill="#F3DBEA" stroke="#111" stroke-width="0.9"/>
<circle cx="451.02" cy="521.33" r="1.75" fill="#F3DBEA" stroke="#111" stroke-width="0.9"/>
<circle cx="442.93" cy="525.47" r="1.75" fill="#F3DBEA" stroke="#111" stroke-width="0.9"/>
<circle cx="416.57" cy="527.05" r="1.75" fill="#F3DBEA" stroke="#111" stroke-width="0.9"/>
<circle cx="420.17" cy="527.23" r="1.75" fill="#F3DBEA" stroke="#111" stroke-width="0.9"/>
<circle cx="385.62" cy="527.85" r="1.75" fill="#F3DBEA" stroke="#111" stroke-width="0.9"/>
<circle cx="384.43" cy="533.49" r="1.75" fill="#F3DBEA" stroke="#111" stroke-width="0.9"/>
<circle cx="383.43" cy="538.94" r="1.75" fill="#F3DBEA" stroke="#111" stroke-width="0.9"/>
<circle cx="382.23" cy="544.22" r="1.75" fill="#F3DBEA" stroke="#111" stroke-width="0.9"/>
<circle cx="381.13" cy="549.5" r="1.75" fill="#C97A96" stroke="#111" stroke-width="0.9"/>
<circle cx="379.93" cy="554.78" r="1.75" fill="#C97A96" stroke="#111" stroke-width="0.9"/>
<circle cx="378.83" cy="560.06" r="1.75" fill="#C97A96" stroke="#111" stroke-width="0.9"/>
<circle cx="377.64" cy="565.51" r="1.75" fill="#C97A96" stroke="#111" stroke-width="0.9"/>
<circle cx="376.54" cy="570.88" r="1.75" fill="#C97A96" stroke="#111" stroke-width="0.9"/>
<circle cx="375.44" cy="576.33" r="1.75" fill="#F3DBEA" stroke="#111" stroke-width="0.9"/>
<circle cx="374.24" cy="581.61" r="1.75" fill="#F3DBEA" stroke="#111" stroke-width="0.9"/>
<circle cx="373.04" cy="586.63" r="1.75" fill="#F3DBEA" stroke="#111" stroke-width="0.9"/>
<circle cx="395.51" cy="534.8" r="1.75" fill="#F3DBEA" stroke="#111" stroke-width="0.9"/>
<circle cx="398.8" cy="537.88" r="1.75" fill="#F3DBEA" stroke="#111" stroke-width="0.9"/>
<circle cx="394.51" cy="540.26" r="1.75" fill="#F3DBEA" stroke="#111" stroke-width="0.9"/>
<circle cx="401.5" cy="541.58" r="1.75" fill="#F3DBEA" stroke="#111" stroke-width="0.9"/>
<circle cx="393.31" cy="545.54" r="1.75" fill="#F3DBEA" stroke="#111" stroke-width="0.9"/>
<circle cx="400.3" cy="546.86" r="1.75" fill="#F3DBEA" stroke="#111" stroke-width="0.9"/>
<circle cx="404.49" cy="547.12" r="1.75" fill="#F3DBEA" stroke="#111" stroke-width="0.9"/>
<circle cx="408.99" cy="544.83" r="1.75" fill="#F3DBEA" stroke="#111" stroke-width="0.9"/>
<circle cx="417.07" cy="540.88" r="1.75" fill="#F3DBEA" stroke="#111" stroke-width="0.9"/>
<circle cx="421.17" cy="541.14" r="1.75" fill="#F3DBEA" stroke="#111" stroke-width="0.9"/>
<circle cx="419.77" cy="544.22" r="1.75" fill="#F3DBEA" stroke="#111" stroke-width="0.9"/>
<circle cx="423.76" cy="544.39" r="1.75" fill="#F3DBEA" stroke="#111" stroke-width="0.9"/>
<circle cx="415.98" cy="546.24" r="1.75" fill="#F3DBEA" stroke="#111" stroke-width="0.9"/>
<circle cx="422.76" cy="547.47" r="1.75" fill="#F3DBEA" stroke="#111" stroke-width="0.9"/>
<circle cx="411.48" cy="548.44" r="1.75" fill="#F3DBEA" stroke="#111" stroke-width="0.9"/>
<circle cx="415.58" cy="548.79" r="1.75" fill="#F3DBEA" stroke="#111" stroke-width="0.9"/>
<circle cx="418.77" cy="549.5" r="1.75" fill="#F3DBEA" stroke="#111" stroke-width="0.9"/>
<circle cx="396.81" cy="549.06" r="1.75" fill="#F3DBEA" stroke="#111" stroke-width="0.9"/>
<circle cx="403.8" cy="549.94" r="1.75" fill="#F3DBEA" stroke="#111" stroke-width="0.9"/>
<circle cx="407.59" cy="550.38" r="1.75" fill="#F3DBEA" stroke="#111" stroke-width="0.9"/>
<circle cx="392.31" cy="551.08" r="1.75" fill="#F3DBEA" stroke="#111" stroke-width="0.9"/>
<circle cx="399.8" cy="552.14" r="1.75" fill="#F3DBEA" stroke="#111" stroke-width="0.9"/>
<circle cx="403.3" cy="552.58" r="1.75" fill="#F3DBEA" stroke="#111" stroke-width="0.9"/>
<circle cx="414.78" cy="551.7" r="1.75" fill="#F3DBEA" stroke="#111" stroke-width="0.9"/>
<circle cx="410.78" cy="553.9" r="1.75" fill="#F3DBEA" stroke="#111" stroke-width="0.9"/>
<circle cx="414.78" cy="553.9" r="1.75" fill="#F3DBEA" stroke="#111" stroke-width="0.9"/>
<circle cx="418.07" cy="554.78" r="1.75" fill="#F3DBEA" stroke="#111" stroke-width="0.9"/>
<circle cx="422.27" cy="554.95" r="1.75" fill="#F3DBEA" stroke="#111" stroke-width="0.9"/>
<circle cx="395.51" cy="554.34" r="1.75" fill="#F3DBEA" stroke="#111" stroke-width="0.9"/>
<circle cx="402.6" cy="555.22" r="1.75" fill="#C97A96" stroke="#111" stroke-width="0.9"/>
<circle cx="406.59" cy="555.83" r="1.75" fill="#F3DBEA" stroke="#111" stroke-width="0.9"/>
<circle cx="391.02" cy="556.36" r="1.75" fill="#C97A96" stroke="#111" stroke-width="0.9"/>
<circle cx="398.5" cy="557.42" r="1.75" fill="#F3DBEA" stroke="#111" stroke-width="0.9"/>
<circle cx="402.1" cy="557.86" r="1.75" fill="#F3DBEA" stroke="#111" stroke-width="0.9"/>
<circle cx="405.79" cy="558.74" r="1.75" fill="#F3DBEA" stroke="#111" stroke-width="0.9"/>
<circle cx="409.79" cy="559.18" r="1.75" fill="#F3DBEA" stroke="#111" stroke-width="0.9"/>
<circle cx="413.48" cy="556.98" r="1.75" fill="#F3DBEA" stroke="#111" stroke-width="0.9"/>
<circle cx="416.97" cy="560.06" r="1.75" fill="#C97A96" stroke="#111" stroke-width="0.9"/>
<circle cx="421.47" cy="558.3" r="1.75" fill="#F3DBEA" stroke="#111" stroke-width="0.9"/>
<circle cx="401.8" cy="560.94" r="1.75" fill="#F3DBEA" stroke="#111" stroke-width="0.9"/>
<circle cx="409.29" cy="561.82" r="1.75" fill="#F3DBEA" stroke="#111" stroke-width="0.9"/>
<circle cx="413.28" cy="562.25" r="1.75" fill="#F3DBEA" stroke="#111" stroke-width="0.9"/>
<circle cx="424.56" cy="561.38" r="1.75" fill="#F3DBEA" stroke="#111" stroke-width="0.9"/>
<circle cx="389.82" cy="561.64" r="1.75" fill="#C97A96" stroke="#111" stroke-width="0.9"/>
<circle cx="396.81" cy="562.87" r="1.75" fill="#C97A96" stroke="#111" stroke-width="0.9"/>
<circle cx="401.1" cy="563.4" r="1.75" fill="#F3DBEA" stroke="#111" stroke-width="0.9"/>
<circle cx="404.79" cy="564.01" r="1.75" fill="#F3DBEA" stroke="#111" stroke-width="0.9"/>
<circle cx="412.28" cy="565.16" r="1.75" fill="#C97A96" stroke="#111" stroke-width="0.9"/>
<circle cx="420.27" cy="563.57" r="1.75" fill="#F3DBEA" stroke="#111" stroke-width="0.9"/>
<circle cx="393.31" cy="564.72" r="1.75" fill="#C97A96" stroke="#111" stroke-width="0.9"/>
<circle cx="388.82" cy="566.92" r="1.75" fill="#C97A96" stroke="#111" stroke-width="0.9"/>
<circle cx="407.99" cy="567.09" r="1.75" fill="#C97A96" stroke="#111" stroke-width="0.9"/>
<circle cx="411.48" cy="567.97" r="1.75" fill="#C97A96" stroke="#111" stroke-width="0.9"/>
<circle cx="415.48" cy="567.97" r="1.75" fill="#F3DBEA" stroke="#111" stroke-width="0.9"/>
<circle cx="403.99" cy="569.29" r="1.75" fill="#F3DBEA" stroke="#111" stroke-width="0.9"/>
<circle cx="411.08" cy="570.79" r="1.75" fill="#F3DBEA" stroke="#111" stroke-width="0.9"/>
<circle cx="387.62" cy="572.37" r="1.75" fill="#C97A96" stroke="#111" stroke-width="0.9"/>
<circle cx="426.26" cy="566.92" r="1.75" fill="#C97A96" stroke="#111" stroke-width="0.9"/>
<circle cx="434.45" cy="562.96" r="1.75" fill="#C97A96" stroke="#111" stroke-width="0.9"/>
<circle cx="433.25" cy="556.71" r="1.75" fill="#F3DBEA" stroke="#111" stroke-width="0.9"/>
<circle cx="429.95" cy="537.18" r="1.75" fill="#F3DBEA" stroke="#111" stroke-width="0.9"/>
<circle cx="428.76" cy="542.28" r="1.75" fill="#F3DBEA" stroke="#111" stroke-width="0.9"/>
<circle cx="431.95" cy="543.34" r="1.75" fill="#F3DBEA" stroke="#111" stroke-width="0.9"/>
<circle cx="435.25" cy="543.51" r="1.75" fill="#F3DBEA" stroke="#111" stroke-width="0.9"/>
<circle cx="432.05" cy="545.98" r="1.75" fill="#F3DBEA" stroke="#111" stroke-width="0.9"/>
<circle cx="449.72" cy="545.98" r="1.75" fill="#F3DBEA" stroke="#111" stroke-width="0.9"/>
<circle cx="444.23" cy="561.2" r="1.75" fill="#F3DBEA" stroke="#111" stroke-width="0.9"/>
<circle cx="442.23" cy="568.85" r="1.75" fill="#F3DBEA" stroke="#111" stroke-width="0.9"/>
<circle cx="406.29" cy="575.01" r="1.75" fill="#C97A96" stroke="#111" stroke-width="0.9"/>
<circle cx="409.99" cy="575.54" r="1.75" fill="#C97A96" stroke="#111" stroke-width="0.9"/>
<circle cx="412.98" cy="581.43" r="1.75" fill="#C97A96" stroke="#111" stroke-width="0.9"/>
<circle cx="416.28" cy="581.79" r="1.75" fill="#C97A96" stroke="#111" stroke-width="0.9"/>
<circle cx="416.28" cy="584.95" r="1.75" fill="#C97A96" stroke="#111" stroke-width="0.9"/>
<circle cx="419.77" cy="588.03" r="1.75" fill="#C97A96" stroke="#111" stroke-width="0.9"/>
<circle cx="426.46" cy="588.65" r="1.75" fill="#C97A96" stroke="#111" stroke-width="0.9"/>
<circle cx="434.45" cy="586.89" r="1.75" fill="#F3DBEA" stroke="#111" stroke-width="0.9"/>
<circle cx="385.32" cy="583.11" r="1.75" fill="#F3DBEA" stroke="#111" stroke-width="0.9"/>
<circle cx="388.82" cy="586.27" r="1.75" fill="#F3DBEA" stroke="#111" stroke-width="0.9"/>
<circle cx="384.33" cy="588.21" r="1.75" fill="#F3DBEA" stroke="#111" stroke-width="0.9"/>
<circle cx="392.31" cy="589.09" r="1.75" fill="#F3DBEA" stroke="#111" stroke-width="0.9"/>
<circle cx="395.51" cy="589.09" r="1.75" fill="#F3DBEA" stroke="#111" stroke-width="0.9"/>
<circle cx="426.46" cy="591.93" r="1.75" fill="#C97A96" stroke="#111" stroke-width="0.9"/>
<circle cx="433.25" cy="592.54" r="1.75" fill="#C97A96" stroke="#111" stroke-width="0.9"/>
<circle cx="436.44" cy="598.44" r="1.75" fill="#F3DBEA" stroke="#111" stroke-width="0.9"/>
<circle cx="387.52" cy="591.66" r="1.75" fill="#F3DBEA" stroke="#111" stroke-width="0.9"/>
<circle cx="395.31" cy="592.98" r="1.75" fill="#F3DBEA" stroke="#111" stroke-width="0.9"/>
<circle cx="383.03" cy="593.6" r="1.75" fill="#F3DBEA" stroke="#111" stroke-width="0.9"/>
<circle cx="390.82" cy="595.01" r="1.75" fill="#F3DBEA" stroke="#111" stroke-width="0.9"/>
<circle cx="398.6" cy="596.06" r="1.75" fill="#F3DBEA" stroke="#111" stroke-width="0.9"/>
<circle cx="386.32" cy="597.12" r="1.75" fill="#F3DBEA" stroke="#111" stroke-width="0.9"/>
<circle cx="397.6" cy="598.53" r="1.75" fill="#F3DBEA" stroke="#111" stroke-width="0.9"/>
<circle cx="389.62" cy="600.46" r="1.75" fill="#F3DBEA" stroke="#111" stroke-width="0.9"/>
<circle cx="393.11" cy="600.72" r="1.75" fill="#F3DBEA" stroke="#111" stroke-width="0.9"/>
<circle cx="397.51" cy="601.34" r="1.75" fill="#F3DBEA" stroke="#111" stroke-width="0.9"/>
<circle cx="405.29" cy="599.76" r="1.75" fill="#F3DBEA" stroke="#111" stroke-width="0.9"/>
<circle cx="403.99" cy="605.12" r="1.75" fill="#F3DBEA" stroke="#111" stroke-width="0.9"/>
<circle cx="396.31" cy="606.8" r="1.75" fill="#F3DBEA" stroke="#111" stroke-width="0.9"/>
<circle cx="399.6" cy="610.14" r="1.75" fill="#F3DBEA" stroke="#111" stroke-width="0.9"/>
<circle cx="474.5" cy="535.98" r="1.75" fill="#F3DBEA" stroke="#111" stroke-width="0.9"/>
<circle cx="458.23" cy="544.25" r="1.75" fill="#F3DBEA" stroke="#111" stroke-width="0.9"/>
<circle cx="468.71" cy="545.92" r="1.75" fill="#F3DBEA" stroke="#111" stroke-width="0.9"/>
<circle cx="501.36" cy="553.75" r="1.75" fill="#F3DBEA" stroke="#111" stroke-width="0.9"/>
<circle cx="457.93" cy="566.06" r="1.75" fill="#F3DBEA" stroke="#111" stroke-width="0.9"/>
<circle cx="464.92" cy="567.12" r="1.75" fill="#F3DBEA" stroke="#111" stroke-width="0.9"/>
<circle cx="490.68" cy="570.99" r="1.75" fill="#F3DBEA" stroke="#111" stroke-width="0.9"/>
<circle cx="528.42" cy="571.52" r="1.75" fill="#F3DBEA" stroke="#111" stroke-width="0.9"/>
<circle cx="478.2" cy="577.28" r="1.75" fill="#F3DBEA" stroke="#111" stroke-width="0.9"/>
<circle cx="495.17" cy="585.29" r="1.75" fill="#F3DBEA" stroke="#111" stroke-width="0.9"/>
<circle cx="491.37" cy="587.31" r="1.75" fill="#F3DBEA" stroke="#111" stroke-width="0.9"/>
<circle cx="490.38" cy="592.77" r="1.75" fill="#F3DBEA" stroke="#111" stroke-width="0.9"/>
<circle cx="459.53" cy="615.64" r="1.75" fill="#C97A96" stroke="#111" stroke-width="0.9"/>
<rect x="355.5" y="464.4" width="188.5" height="176.6" fill="none" stroke="#222" stroke-width="1.1"/>
<line x1="378.96" y1="641" x2="378.96" y2="644" stroke="#222" stroke-width="0.8"/>
<text x="378.96" y="652.6" font-size="9.2" fill="#111" text-anchor="middle">−2</text>
<line x1="414" y1="641" x2="414" y2="644" stroke="#222" stroke-width="0.8"/>
<text x="414" y="652.6" font-size="9.2" fill="#111" text-anchor="middle">0</text>
<line x1="449.04" y1="641" x2="449.04" y2="644" stroke="#222" stroke-width="0.8"/>
<text x="449.04" y="652.6" font-size="9.2" fill="#111" text-anchor="middle">2</text>
<line x1="484.08" y1="641" x2="484.08" y2="644" stroke="#222" stroke-width="0.8"/>
<text x="484.08" y="652.6" font-size="9.2" fill="#111" text-anchor="middle">4</text>
<line x1="519.12" y1="641" x2="519.12" y2="644" stroke="#222" stroke-width="0.8"/>
<text x="519.12" y="652.6" font-size="9.2" fill="#111" text-anchor="middle">6</text>
<line x1="352.5" y1="639.19" x2="355.5" y2="639.19" stroke="#222" stroke-width="0.8"/>
<text x="351.1" y="642.49" font-size="9.2" fill="#111" text-anchor="end">−3</text>
<line x1="352.5" y1="612.26" x2="355.5" y2="612.26" stroke="#222" stroke-width="0.8"/>
<text x="351.1" y="615.56" font-size="9.2" fill="#111" text-anchor="end">−2</text>
<line x1="352.5" y1="585.33" x2="355.5" y2="585.33" stroke="#222" stroke-width="0.8"/>
<text x="351.1" y="588.63" font-size="9.2" fill="#111" text-anchor="end">−1</text>
<line x1="352.5" y1="558.4" x2="355.5" y2="558.4" stroke="#222" stroke-width="0.8"/>
<text x="351.1" y="561.7" font-size="9.2" fill="#111" text-anchor="end">0</text>
<line x1="352.5" y1="531.47" x2="355.5" y2="531.47" stroke="#222" stroke-width="0.8"/>
<text x="351.1" y="534.77" font-size="9.2" fill="#111" text-anchor="end">1</text>
<line x1="352.5" y1="504.54" x2="355.5" y2="504.54" stroke="#222" stroke-width="0.8"/>
<text x="351.1" y="507.84" font-size="9.2" fill="#111" text-anchor="end">2</text>
<line x1="352.5" y1="477.61" x2="355.5" y2="477.61" stroke="#222" stroke-width="0.8"/>
<text x="351.1" y="480.91" font-size="9.2" fill="#111" text-anchor="end">3</text>
<text x="449.6" y="667.6" font-size="14.2" fill="#111" text-anchor="middle">PCA1</text>
<text x="335.4" y="552" font-size="14.2" fill="#111" text-anchor="middle" transform="rotate(-90 335.4 552)">PCA2</text>
<text x="316.5" y="469" font-size="16.5" fill="#000" text-anchor="start">(h)</text>
<rect x="557" y="464.6" width="9" height="176.4" fill="url(#gH)" stroke="none" stroke-width="1"/>
<line x1="566" y1="500.1" x2="568.8" y2="500.1" stroke="#222" stroke-width="0.8"/>
<text x="570.2" y="503.5" font-size="9.4" fill="#111" text-anchor="start">0.8</text>
<line x1="566" y1="535.35" x2="568.8" y2="535.35" stroke="#222" stroke-width="0.8"/>
<text x="570.2" y="538.75" font-size="9.4" fill="#111" text-anchor="start">0.6</text>
<line x1="566" y1="570.6" x2="568.8" y2="570.6" stroke="#222" stroke-width="0.8"/>
<text x="570.2" y="574" font-size="9.4" fill="#111" text-anchor="start">0.4</text>
<line x1="566" y1="605.85" x2="568.8" y2="605.85" stroke="#222" stroke-width="0.8"/>
<text x="570.2" y="609.25" font-size="9.4" fill="#111" text-anchor="start">0.2</text>
<text x="602.6" y="549" font-size="15" fill="#111" text-anchor="middle" transform="rotate(-90 602.6 549)">Probability distribution</text>
</svg>
</body></html>
